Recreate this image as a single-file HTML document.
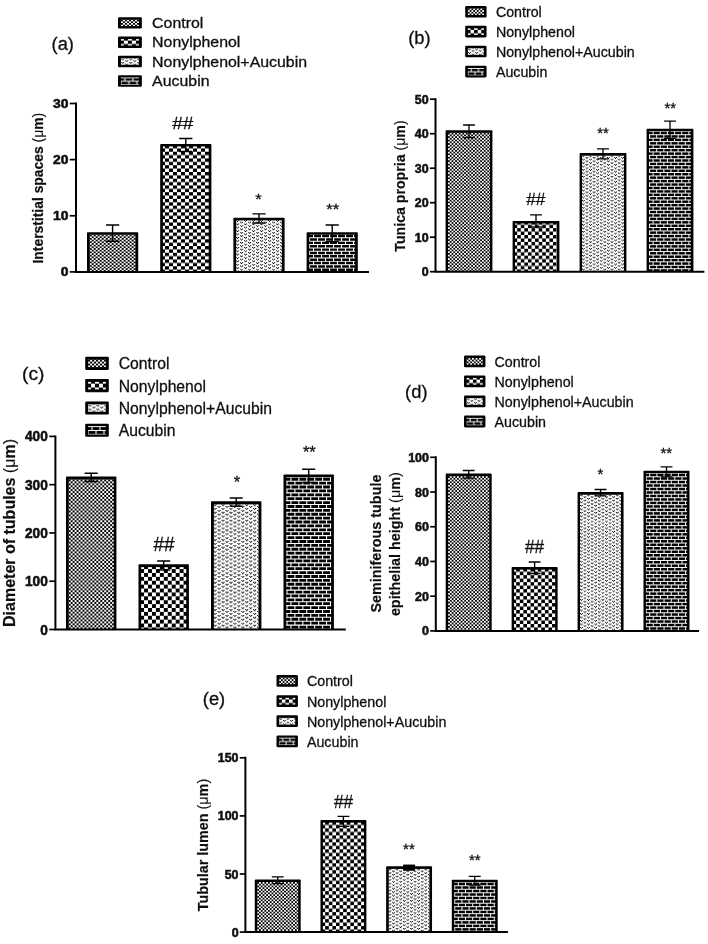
<!DOCTYPE html>
<html><head><meta charset="utf-8"><title>Figure</title>
<style>
html,body{margin:0;padding:0;background:#fff;}
svg{display:block;font-family:'Liberation Sans',sans-serif;}
text{font-family:'Liberation Sans',sans-serif;fill:#111;}
</style></head>
<body>
<svg width="708" height="944" viewBox="0 0 708 944">
<defs><filter id="soft" x="0" y="0" width="708" height="944" filterUnits="userSpaceOnUse"><feGaussianBlur stdDeviation="0.45"/></filter></defs>
<rect width="708" height="944" fill="#fff"/>
<g filter="url(#soft)">
<g id="panel-a">
<pattern id="p1a" width="3.6" height="3.6" patternUnits="userSpaceOnUse" patternTransform="scale(1.1108,0.9354)"><rect width="3.6" height="3.6" fill="#fff"/><rect x="0" y="0" width="1.8" height="1.8" fill="#000"/><rect x="1.8" y="1.8" width="1.8" height="1.8" fill="#000"/></pattern>
<pattern id="p2a" width="7.2" height="7.2" patternUnits="userSpaceOnUse" patternTransform="scale(1.1108,0.9354)"><rect width="7.2" height="7.2" fill="#fff"/><rect x="0" y="0" width="3.6" height="3.6" fill="#000"/><rect x="3.6" y="3.6" width="3.6" height="3.6" fill="#000"/></pattern>
<pattern id="p3a" width="7.2" height="3.6" patternUnits="userSpaceOnUse" patternTransform="scale(1.1108,0.9354)"><rect width="7.2" height="3.6" fill="#fff"/><rect x="-0.05" y="-0.05" width="1.00" height="1.00" fill="#111"/><rect x="1.75" y="-0.05" width="1.00" height="1.00" fill="#111"/><rect x="0.85" y="0.85" width="1.00" height="1.00" fill="#111"/><rect x="3.55" y="1.75" width="1.00" height="1.00" fill="#111"/><rect x="5.35" y="1.75" width="1.00" height="1.00" fill="#111"/><rect x="4.45" y="2.65" width="1.00" height="1.00" fill="#111"/></pattern>
<pattern id="p4a" width="7.2" height="7.2" patternUnits="userSpaceOnUse" patternTransform="scale(1.1108,0.9354)"><rect width="7.2" height="7.2" fill="#000"/><path d="M0 0.5 H7.2 M0 4.1 H7.2 M1 0.5 V4.1 M4.6 4.1 V7.7" fill="none" stroke="#fff" stroke-width="1.0"/></pattern>
<rect x="87.00" y="232.20" width="51.20" height="39.70" fill="#000" rx="0.8"/>
<g transform="translate(89.69,234.65)"><rect x="0.00" y="0.00" width="45.82" height="37.25" fill="url(#p1a)"/></g>
<rect x="160.20" y="144.00" width="51.20" height="127.90" fill="#000" rx="0.8"/>
<g transform="translate(165.00,151.75)"><rect x="-2.11" y="-5.30" width="45.82" height="125.45" fill="url(#p2a)"/></g>
<rect x="233.40" y="217.70" width="51.20" height="54.20" fill="#000" rx="0.8"/>
<clipPath id="c1"><rect x="236.09" y="220.15" width="45.83" height="51.75"/></clipPath><g clip-path="url(#c1)"><rect x="236.09" y="220.15" width="45.83" height="51.75" fill="#fff"/><path transform="translate(236.09,220.15) scale(1.1108,0.9354)" d="M4.45 -0.95h1v1h-1zM11.65 -0.95h1v1h-1zM18.85 -0.95h1v1h-1zM26.05 -0.95h1v1h-1zM33.25 -0.95h1v1h-1zM40.45 -0.95h1v1h-1zM-0.05 -0.05h1v1h-1zM1.75 -0.05h1v1h-1zM0.85 0.85h1v1h-1zM3.55 1.75h1v1h-1zM5.35 1.75h1v1h-1zM4.45 2.65h1v1h-1zM7.15 -0.05h1v1h-1zM8.95 -0.05h1v1h-1zM8.05 0.85h1v1h-1zM10.75 1.75h1v1h-1zM12.55 1.75h1v1h-1zM11.65 2.65h1v1h-1zM14.35 -0.05h1v1h-1zM16.15 -0.05h1v1h-1zM15.25 0.85h1v1h-1zM17.95 1.75h1v1h-1zM19.75 1.75h1v1h-1zM18.85 2.65h1v1h-1zM21.55 -0.05h1v1h-1zM23.35 -0.05h1v1h-1zM22.45 0.85h1v1h-1zM25.15 1.75h1v1h-1zM26.95 1.75h1v1h-1zM26.05 2.65h1v1h-1zM28.75 -0.05h1v1h-1zM30.55 -0.05h1v1h-1zM29.65 0.85h1v1h-1zM32.35 1.75h1v1h-1zM34.15 1.75h1v1h-1zM33.25 2.65h1v1h-1zM35.95 -0.05h1v1h-1zM37.75 -0.05h1v1h-1zM36.85 0.85h1v1h-1zM39.55 1.75h1v1h-1zM41.35 1.75h1v1h-1zM40.45 2.65h1v1h-1zM-0.05 3.55h1v1h-1zM1.75 3.55h1v1h-1zM0.85 4.45h1v1h-1zM3.55 5.35h1v1h-1zM5.35 5.35h1v1h-1zM4.45 6.25h1v1h-1zM7.15 3.55h1v1h-1zM8.95 3.55h1v1h-1zM8.05 4.45h1v1h-1zM10.75 5.35h1v1h-1zM12.55 5.35h1v1h-1zM11.65 6.25h1v1h-1zM14.35 3.55h1v1h-1zM16.15 3.55h1v1h-1zM15.25 4.45h1v1h-1zM17.95 5.35h1v1h-1zM19.75 5.35h1v1h-1zM18.85 6.25h1v1h-1zM21.55 3.55h1v1h-1zM23.35 3.55h1v1h-1zM22.45 4.45h1v1h-1zM25.15 5.35h1v1h-1zM26.95 5.35h1v1h-1zM26.05 6.25h1v1h-1zM28.75 3.55h1v1h-1zM30.55 3.55h1v1h-1zM29.65 4.45h1v1h-1zM32.35 5.35h1v1h-1zM34.15 5.35h1v1h-1zM33.25 6.25h1v1h-1zM35.95 3.55h1v1h-1zM37.75 3.55h1v1h-1zM36.85 4.45h1v1h-1zM39.55 5.35h1v1h-1zM41.35 5.35h1v1h-1zM40.45 6.25h1v1h-1zM-0.05 7.15h1v1h-1zM1.75 7.15h1v1h-1zM0.85 8.05h1v1h-1zM3.55 8.95h1v1h-1zM5.35 8.95h1v1h-1zM4.45 9.85h1v1h-1zM7.15 7.15h1v1h-1zM8.95 7.15h1v1h-1zM8.05 8.05h1v1h-1zM10.75 8.95h1v1h-1zM12.55 8.95h1v1h-1zM11.65 9.85h1v1h-1zM14.35 7.15h1v1h-1zM16.15 7.15h1v1h-1zM15.25 8.05h1v1h-1zM17.95 8.95h1v1h-1zM19.75 8.95h1v1h-1zM18.85 9.85h1v1h-1zM21.55 7.15h1v1h-1zM23.35 7.15h1v1h-1zM22.45 8.05h1v1h-1zM25.15 8.95h1v1h-1zM26.95 8.95h1v1h-1zM26.05 9.85h1v1h-1zM28.75 7.15h1v1h-1zM30.55 7.15h1v1h-1zM29.65 8.05h1v1h-1zM32.35 8.95h1v1h-1zM34.15 8.95h1v1h-1zM33.25 9.85h1v1h-1zM35.95 7.15h1v1h-1zM37.75 7.15h1v1h-1zM36.85 8.05h1v1h-1zM39.55 8.95h1v1h-1zM41.35 8.95h1v1h-1zM40.45 9.85h1v1h-1zM-0.05 10.75h1v1h-1zM1.75 10.75h1v1h-1zM0.85 11.65h1v1h-1zM3.55 12.55h1v1h-1zM5.35 12.55h1v1h-1zM4.45 13.45h1v1h-1zM7.15 10.75h1v1h-1zM8.95 10.75h1v1h-1zM8.05 11.65h1v1h-1zM10.75 12.55h1v1h-1zM12.55 12.55h1v1h-1zM11.65 13.45h1v1h-1zM14.35 10.75h1v1h-1zM16.15 10.75h1v1h-1zM15.25 11.65h1v1h-1zM17.95 12.55h1v1h-1zM19.75 12.55h1v1h-1zM18.85 13.45h1v1h-1zM21.55 10.75h1v1h-1zM23.35 10.75h1v1h-1zM22.45 11.65h1v1h-1zM25.15 12.55h1v1h-1zM26.95 12.55h1v1h-1zM26.05 13.45h1v1h-1zM28.75 10.75h1v1h-1zM30.55 10.75h1v1h-1zM29.65 11.65h1v1h-1zM32.35 12.55h1v1h-1zM34.15 12.55h1v1h-1zM33.25 13.45h1v1h-1zM35.95 10.75h1v1h-1zM37.75 10.75h1v1h-1zM36.85 11.65h1v1h-1zM39.55 12.55h1v1h-1zM41.35 12.55h1v1h-1zM40.45 13.45h1v1h-1zM-0.05 14.35h1v1h-1zM1.75 14.35h1v1h-1zM0.85 15.25h1v1h-1zM3.55 16.15h1v1h-1zM5.35 16.15h1v1h-1zM4.45 17.05h1v1h-1zM7.15 14.35h1v1h-1zM8.95 14.35h1v1h-1zM8.05 15.25h1v1h-1zM10.75 16.15h1v1h-1zM12.55 16.15h1v1h-1zM11.65 17.05h1v1h-1zM14.35 14.35h1v1h-1zM16.15 14.35h1v1h-1zM15.25 15.25h1v1h-1zM17.95 16.15h1v1h-1zM19.75 16.15h1v1h-1zM18.85 17.05h1v1h-1zM21.55 14.35h1v1h-1zM23.35 14.35h1v1h-1zM22.45 15.25h1v1h-1zM25.15 16.15h1v1h-1zM26.95 16.15h1v1h-1zM26.05 17.05h1v1h-1zM28.75 14.35h1v1h-1zM30.55 14.35h1v1h-1zM29.65 15.25h1v1h-1zM32.35 16.15h1v1h-1zM34.15 16.15h1v1h-1zM33.25 17.05h1v1h-1zM35.95 14.35h1v1h-1zM37.75 14.35h1v1h-1zM36.85 15.25h1v1h-1zM39.55 16.15h1v1h-1zM41.35 16.15h1v1h-1zM40.45 17.05h1v1h-1zM-0.05 17.95h1v1h-1zM1.75 17.95h1v1h-1zM0.85 18.85h1v1h-1zM3.55 19.75h1v1h-1zM5.35 19.75h1v1h-1zM4.45 20.65h1v1h-1zM7.15 17.95h1v1h-1zM8.95 17.95h1v1h-1zM8.05 18.85h1v1h-1zM10.75 19.75h1v1h-1zM12.55 19.75h1v1h-1zM11.65 20.65h1v1h-1zM14.35 17.95h1v1h-1zM16.15 17.95h1v1h-1zM15.25 18.85h1v1h-1zM17.95 19.75h1v1h-1zM19.75 19.75h1v1h-1zM18.85 20.65h1v1h-1zM21.55 17.95h1v1h-1zM23.35 17.95h1v1h-1zM22.45 18.85h1v1h-1zM25.15 19.75h1v1h-1zM26.95 19.75h1v1h-1zM26.05 20.65h1v1h-1zM28.75 17.95h1v1h-1zM30.55 17.95h1v1h-1zM29.65 18.85h1v1h-1zM32.35 19.75h1v1h-1zM34.15 19.75h1v1h-1zM33.25 20.65h1v1h-1zM35.95 17.95h1v1h-1zM37.75 17.95h1v1h-1zM36.85 18.85h1v1h-1zM39.55 19.75h1v1h-1zM41.35 19.75h1v1h-1zM40.45 20.65h1v1h-1zM-0.05 21.55h1v1h-1zM1.75 21.55h1v1h-1zM0.85 22.45h1v1h-1zM3.55 23.35h1v1h-1zM5.35 23.35h1v1h-1zM4.45 24.25h1v1h-1zM7.15 21.55h1v1h-1zM8.95 21.55h1v1h-1zM8.05 22.45h1v1h-1zM10.75 23.35h1v1h-1zM12.55 23.35h1v1h-1zM11.65 24.25h1v1h-1zM14.35 21.55h1v1h-1zM16.15 21.55h1v1h-1zM15.25 22.45h1v1h-1zM17.95 23.35h1v1h-1zM19.75 23.35h1v1h-1zM18.85 24.25h1v1h-1zM21.55 21.55h1v1h-1zM23.35 21.55h1v1h-1zM22.45 22.45h1v1h-1zM25.15 23.35h1v1h-1zM26.95 23.35h1v1h-1zM26.05 24.25h1v1h-1zM28.75 21.55h1v1h-1zM30.55 21.55h1v1h-1zM29.65 22.45h1v1h-1zM32.35 23.35h1v1h-1zM34.15 23.35h1v1h-1zM33.25 24.25h1v1h-1zM35.95 21.55h1v1h-1zM37.75 21.55h1v1h-1zM36.85 22.45h1v1h-1zM39.55 23.35h1v1h-1zM41.35 23.35h1v1h-1zM40.45 24.25h1v1h-1zM-0.05 25.15h1v1h-1zM1.75 25.15h1v1h-1zM0.85 26.05h1v1h-1zM3.55 26.95h1v1h-1zM5.35 26.95h1v1h-1zM4.45 27.85h1v1h-1zM7.15 25.15h1v1h-1zM8.95 25.15h1v1h-1zM8.05 26.05h1v1h-1zM10.75 26.95h1v1h-1zM12.55 26.95h1v1h-1zM11.65 27.85h1v1h-1zM14.35 25.15h1v1h-1zM16.15 25.15h1v1h-1zM15.25 26.05h1v1h-1zM17.95 26.95h1v1h-1zM19.75 26.95h1v1h-1zM18.85 27.85h1v1h-1zM21.55 25.15h1v1h-1zM23.35 25.15h1v1h-1zM22.45 26.05h1v1h-1zM25.15 26.95h1v1h-1zM26.95 26.95h1v1h-1zM26.05 27.85h1v1h-1zM28.75 25.15h1v1h-1zM30.55 25.15h1v1h-1zM29.65 26.05h1v1h-1zM32.35 26.95h1v1h-1zM34.15 26.95h1v1h-1zM33.25 27.85h1v1h-1zM35.95 25.15h1v1h-1zM37.75 25.15h1v1h-1zM36.85 26.05h1v1h-1zM39.55 26.95h1v1h-1zM41.35 26.95h1v1h-1zM40.45 27.85h1v1h-1zM-0.05 28.75h1v1h-1zM1.75 28.75h1v1h-1zM0.85 29.65h1v1h-1zM3.55 30.55h1v1h-1zM5.35 30.55h1v1h-1zM4.45 31.45h1v1h-1zM7.15 28.75h1v1h-1zM8.95 28.75h1v1h-1zM8.05 29.65h1v1h-1zM10.75 30.55h1v1h-1zM12.55 30.55h1v1h-1zM11.65 31.45h1v1h-1zM14.35 28.75h1v1h-1zM16.15 28.75h1v1h-1zM15.25 29.65h1v1h-1zM17.95 30.55h1v1h-1zM19.75 30.55h1v1h-1zM18.85 31.45h1v1h-1zM21.55 28.75h1v1h-1zM23.35 28.75h1v1h-1zM22.45 29.65h1v1h-1zM25.15 30.55h1v1h-1zM26.95 30.55h1v1h-1zM26.05 31.45h1v1h-1zM28.75 28.75h1v1h-1zM30.55 28.75h1v1h-1zM29.65 29.65h1v1h-1zM32.35 30.55h1v1h-1zM34.15 30.55h1v1h-1zM33.25 31.45h1v1h-1zM35.95 28.75h1v1h-1zM37.75 28.75h1v1h-1zM36.85 29.65h1v1h-1zM39.55 30.55h1v1h-1zM41.35 30.55h1v1h-1zM40.45 31.45h1v1h-1zM-0.05 32.35h1v1h-1zM1.75 32.35h1v1h-1zM0.85 33.25h1v1h-1zM3.55 34.15h1v1h-1zM5.35 34.15h1v1h-1zM4.45 35.05h1v1h-1zM7.15 32.35h1v1h-1zM8.95 32.35h1v1h-1zM8.05 33.25h1v1h-1zM10.75 34.15h1v1h-1zM12.55 34.15h1v1h-1zM11.65 35.05h1v1h-1zM14.35 32.35h1v1h-1zM16.15 32.35h1v1h-1zM15.25 33.25h1v1h-1zM17.95 34.15h1v1h-1zM19.75 34.15h1v1h-1zM18.85 35.05h1v1h-1zM21.55 32.35h1v1h-1zM23.35 32.35h1v1h-1zM22.45 33.25h1v1h-1zM25.15 34.15h1v1h-1zM26.95 34.15h1v1h-1zM26.05 35.05h1v1h-1zM28.75 32.35h1v1h-1zM30.55 32.35h1v1h-1zM29.65 33.25h1v1h-1zM32.35 34.15h1v1h-1zM34.15 34.15h1v1h-1zM33.25 35.05h1v1h-1zM35.95 32.35h1v1h-1zM37.75 32.35h1v1h-1zM36.85 33.25h1v1h-1zM39.55 34.15h1v1h-1zM41.35 34.15h1v1h-1zM40.45 35.05h1v1h-1zM-0.05 35.95h1v1h-1zM1.75 35.95h1v1h-1zM0.85 36.85h1v1h-1zM3.55 37.75h1v1h-1zM5.35 37.75h1v1h-1zM4.45 38.65h1v1h-1zM7.15 35.95h1v1h-1zM8.95 35.95h1v1h-1zM8.05 36.85h1v1h-1zM10.75 37.75h1v1h-1zM12.55 37.75h1v1h-1zM11.65 38.65h1v1h-1zM14.35 35.95h1v1h-1zM16.15 35.95h1v1h-1zM15.25 36.85h1v1h-1zM17.95 37.75h1v1h-1zM19.75 37.75h1v1h-1zM18.85 38.65h1v1h-1zM21.55 35.95h1v1h-1zM23.35 35.95h1v1h-1zM22.45 36.85h1v1h-1zM25.15 37.75h1v1h-1zM26.95 37.75h1v1h-1zM26.05 38.65h1v1h-1zM28.75 35.95h1v1h-1zM30.55 35.95h1v1h-1zM29.65 36.85h1v1h-1zM32.35 37.75h1v1h-1zM34.15 37.75h1v1h-1zM33.25 38.65h1v1h-1zM35.95 35.95h1v1h-1zM37.75 35.95h1v1h-1zM36.85 36.85h1v1h-1zM39.55 37.75h1v1h-1zM41.35 37.75h1v1h-1zM40.45 38.65h1v1h-1zM-0.05 39.55h1v1h-1zM1.75 39.55h1v1h-1zM0.85 40.45h1v1h-1zM3.55 41.35h1v1h-1zM5.35 41.35h1v1h-1zM4.45 42.25h1v1h-1zM7.15 39.55h1v1h-1zM8.95 39.55h1v1h-1zM8.05 40.45h1v1h-1zM10.75 41.35h1v1h-1zM12.55 41.35h1v1h-1zM11.65 42.25h1v1h-1zM14.35 39.55h1v1h-1zM16.15 39.55h1v1h-1zM15.25 40.45h1v1h-1zM17.95 41.35h1v1h-1zM19.75 41.35h1v1h-1zM18.85 42.25h1v1h-1zM21.55 39.55h1v1h-1zM23.35 39.55h1v1h-1zM22.45 40.45h1v1h-1zM25.15 41.35h1v1h-1zM26.95 41.35h1v1h-1zM26.05 42.25h1v1h-1zM28.75 39.55h1v1h-1zM30.55 39.55h1v1h-1zM29.65 40.45h1v1h-1zM32.35 41.35h1v1h-1zM34.15 41.35h1v1h-1zM33.25 42.25h1v1h-1zM35.95 39.55h1v1h-1zM37.75 39.55h1v1h-1zM36.85 40.45h1v1h-1zM39.55 41.35h1v1h-1zM41.35 41.35h1v1h-1zM40.45 42.25h1v1h-1zM-0.05 43.15h1v1h-1zM1.75 43.15h1v1h-1zM0.85 44.05h1v1h-1zM3.55 44.95h1v1h-1zM5.35 44.95h1v1h-1zM4.45 45.85h1v1h-1zM7.15 43.15h1v1h-1zM8.95 43.15h1v1h-1zM8.05 44.05h1v1h-1zM10.75 44.95h1v1h-1zM12.55 44.95h1v1h-1zM11.65 45.85h1v1h-1zM14.35 43.15h1v1h-1zM16.15 43.15h1v1h-1zM15.25 44.05h1v1h-1zM17.95 44.95h1v1h-1zM19.75 44.95h1v1h-1zM18.85 45.85h1v1h-1zM21.55 43.15h1v1h-1zM23.35 43.15h1v1h-1zM22.45 44.05h1v1h-1zM25.15 44.95h1v1h-1zM26.95 44.95h1v1h-1zM26.05 45.85h1v1h-1zM28.75 43.15h1v1h-1zM30.55 43.15h1v1h-1zM29.65 44.05h1v1h-1zM32.35 44.95h1v1h-1zM34.15 44.95h1v1h-1zM33.25 45.85h1v1h-1zM35.95 43.15h1v1h-1zM37.75 43.15h1v1h-1zM36.85 44.05h1v1h-1zM39.55 44.95h1v1h-1zM41.35 44.95h1v1h-1zM40.45 45.85h1v1h-1zM-0.05 46.75h1v1h-1zM1.75 46.75h1v1h-1zM0.85 47.65h1v1h-1zM3.55 48.55h1v1h-1zM5.35 48.55h1v1h-1zM4.45 49.45h1v1h-1zM7.15 46.75h1v1h-1zM8.95 46.75h1v1h-1zM8.05 47.65h1v1h-1zM10.75 48.55h1v1h-1zM12.55 48.55h1v1h-1zM11.65 49.45h1v1h-1zM14.35 46.75h1v1h-1zM16.15 46.75h1v1h-1zM15.25 47.65h1v1h-1zM17.95 48.55h1v1h-1zM19.75 48.55h1v1h-1zM18.85 49.45h1v1h-1zM21.55 46.75h1v1h-1zM23.35 46.75h1v1h-1zM22.45 47.65h1v1h-1zM25.15 48.55h1v1h-1zM26.95 48.55h1v1h-1zM26.05 49.45h1v1h-1zM28.75 46.75h1v1h-1zM30.55 46.75h1v1h-1zM29.65 47.65h1v1h-1zM32.35 48.55h1v1h-1zM34.15 48.55h1v1h-1zM33.25 49.45h1v1h-1zM35.95 46.75h1v1h-1zM37.75 46.75h1v1h-1zM36.85 47.65h1v1h-1zM39.55 48.55h1v1h-1zM41.35 48.55h1v1h-1zM40.45 49.45h1v1h-1zM-0.05 50.35h1v1h-1zM1.75 50.35h1v1h-1zM0.85 51.25h1v1h-1zM3.55 52.15h1v1h-1zM5.35 52.15h1v1h-1zM4.45 53.05h1v1h-1zM7.15 50.35h1v1h-1zM8.95 50.35h1v1h-1zM8.05 51.25h1v1h-1zM10.75 52.15h1v1h-1zM12.55 52.15h1v1h-1zM11.65 53.05h1v1h-1zM14.35 50.35h1v1h-1zM16.15 50.35h1v1h-1zM15.25 51.25h1v1h-1zM17.95 52.15h1v1h-1zM19.75 52.15h1v1h-1zM18.85 53.05h1v1h-1zM21.55 50.35h1v1h-1zM23.35 50.35h1v1h-1zM22.45 51.25h1v1h-1zM25.15 52.15h1v1h-1zM26.95 52.15h1v1h-1zM26.05 53.05h1v1h-1zM28.75 50.35h1v1h-1zM30.55 50.35h1v1h-1zM29.65 51.25h1v1h-1zM32.35 52.15h1v1h-1zM34.15 52.15h1v1h-1zM33.25 53.05h1v1h-1zM35.95 50.35h1v1h-1zM37.75 50.35h1v1h-1zM36.85 51.25h1v1h-1zM39.55 52.15h1v1h-1zM41.35 52.15h1v1h-1zM40.45 53.05h1v1h-1zM-0.05 53.95h1v1h-1zM1.75 53.95h1v1h-1zM0.85 54.85h1v1h-1zM3.55 55.75h1v1h-1zM5.35 55.75h1v1h-1zM7.15 53.95h1v1h-1zM8.95 53.95h1v1h-1zM8.05 54.85h1v1h-1zM10.75 55.75h1v1h-1zM12.55 55.75h1v1h-1zM14.35 53.95h1v1h-1zM16.15 53.95h1v1h-1zM15.25 54.85h1v1h-1zM17.95 55.75h1v1h-1zM19.75 55.75h1v1h-1zM21.55 53.95h1v1h-1zM23.35 53.95h1v1h-1zM22.45 54.85h1v1h-1zM25.15 55.75h1v1h-1zM26.95 55.75h1v1h-1zM28.75 53.95h1v1h-1zM30.55 53.95h1v1h-1zM29.65 54.85h1v1h-1zM32.35 55.75h1v1h-1zM34.15 55.75h1v1h-1zM35.95 53.95h1v1h-1zM37.75 53.95h1v1h-1zM36.85 54.85h1v1h-1zM39.55 55.75h1v1h-1zM41.35 55.75h1v1h-1z" fill="#111"/></g>
<rect x="306.60" y="232.20" width="51.20" height="39.70" fill="#000" rx="0.8"/>
<clipPath id="c2"><rect x="309.29" y="234.65" width="45.82" height="37.25"/></clipPath><g clip-path="url(#c2)"><rect x="309.29" y="234.65" width="45.82" height="37.25" fill="#000"/><path transform="translate(312.42,233.98) scale(1.1108,0.9354)" d="M-3.82 -3.1H39.43M-2.6 -3.1v3.6M4.6 -3.1v3.6M11.8 -3.1v3.6M19 -3.1v3.6M26.2 -3.1v3.6M33.4 -3.1v3.6M-3.82 0.5H39.43M1 0.5v3.6M8.2 0.5v3.6M15.4 0.5v3.6M22.6 0.5v3.6M29.8 0.5v3.6M37 0.5v3.6M-3.82 4.1H39.43M-2.6 4.1v3.6M4.6 4.1v3.6M11.8 4.1v3.6M19 4.1v3.6M26.2 4.1v3.6M33.4 4.1v3.6M-3.82 7.7H39.43M1 7.7v3.6M8.2 7.7v3.6M15.4 7.7v3.6M22.6 7.7v3.6M29.8 7.7v3.6M37 7.7v3.6M-3.82 11.3H39.43M-2.6 11.3v3.6M4.6 11.3v3.6M11.8 11.3v3.6M19 11.3v3.6M26.2 11.3v3.6M33.4 11.3v3.6M-3.82 14.9H39.43M1 14.9v3.6M8.2 14.9v3.6M15.4 14.9v3.6M22.6 14.9v3.6M29.8 14.9v3.6M37 14.9v3.6M-3.82 18.5H39.43M-2.6 18.5v3.6M4.6 18.5v3.6M11.8 18.5v3.6M19 18.5v3.6M26.2 18.5v3.6M33.4 18.5v3.6M-3.82 22.1H39.43M1 22.1v3.6M8.2 22.1v3.6M15.4 22.1v3.6M22.6 22.1v3.6M29.8 22.1v3.6M37 22.1v3.6M-3.82 25.7H39.43M-2.6 25.7v3.6M4.6 25.7v3.6M11.8 25.7v3.6M19 25.7v3.6M26.2 25.7v3.6M33.4 25.7v3.6M-3.82 29.3H39.43M1 29.3v3.6M8.2 29.3v3.6M15.4 29.3v3.6M22.6 29.3v3.6M29.8 29.3v3.6M37 29.3v3.6M-3.82 32.9H39.43M-2.6 32.9v3.6M4.6 32.9v3.6M11.8 32.9v3.6M19 32.9v3.6M26.2 32.9v3.6M33.4 32.9v3.6M-3.82 36.5H39.43M1 36.5v3.6M8.2 36.5v3.6M15.4 36.5v3.6M22.6 36.5v3.6M29.8 36.5v3.6M37 36.5v3.6M-3.82 40.1H39.43M-2.6 40.1v3.6M4.6 40.1v3.6M11.8 40.1v3.6M19 40.1v3.6M26.2 40.1v3.6M33.4 40.1v3.6M-3.82 43.7H39.43M1 43.7v3.6M8.2 43.7v3.6M15.4 43.7v3.6M22.6 43.7v3.6M29.8 43.7v3.6M37 43.7v3.6M-3.82 47.3H39.43M-2.6 47.3v3.6M4.6 47.3v3.6M11.8 47.3v3.6M19 47.3v3.6M26.2 47.3v3.6M33.4 47.3v3.6" fill="none" stroke="#fff" stroke-width="1.0"/></g>
<path d="M105.99 225.00 H119.21 M112.60 225.00 V241.20 M105.99 241.20 H119.21" stroke="#000" stroke-width="1.39" fill="none"/>
<path d="M179.19 138.50 H192.41 M185.80 138.50 V151.50 M179.19 151.50 H192.41" stroke="#000" stroke-width="1.39" fill="none"/>
<path d="M252.39 213.90 H265.61 M259.00 213.90 V223.00 M252.39 223.00 H265.61" stroke="#000" stroke-width="1.39" fill="none"/>
<path d="M325.59 225.00 H338.81 M332.20 225.00 V241.70 M325.59 241.70 H338.81" stroke="#000" stroke-width="1.39" fill="none"/>
<path d="M76.00 102.50 V271.90 H369.00" stroke="#000" stroke-width="2.0" fill="none" stroke-linejoin="miter"/>
<path d="M69.77 271.90 H76.00" stroke="#000" stroke-width="1.70"/>
<text x="68.37" y="276.27" font-size="12.15" font-weight="bold" text-anchor="end" stroke="#111" stroke-width="0.55" textLength="7.71" lengthAdjust="spacingAndGlyphs">0</text>
<path d="M69.77 215.77 H76.00" stroke="#000" stroke-width="1.70"/>
<text x="68.37" y="220.14" font-size="12.15" font-weight="bold" text-anchor="end" stroke="#111" stroke-width="0.55" textLength="15.42" lengthAdjust="spacingAndGlyphs">10</text>
<path d="M69.77 159.63 H76.00" stroke="#000" stroke-width="1.70"/>
<text x="68.37" y="164.01" font-size="12.15" font-weight="bold" text-anchor="end" stroke="#111" stroke-width="0.55" textLength="15.42" lengthAdjust="spacingAndGlyphs">20</text>
<path d="M69.77 103.50 H76.00" stroke="#000" stroke-width="1.70"/>
<text x="68.37" y="107.87" font-size="12.15" font-weight="bold" text-anchor="end" stroke="#111" stroke-width="0.55" textLength="15.42" lengthAdjust="spacingAndGlyphs">30</text>
<text x="182.80" y="129.33" font-size="16.86" font-weight="normal" text-anchor="middle" stroke="#111" stroke-width="0.3" textLength="21.28" lengthAdjust="spacingAndGlyphs">##</text>
<text x="258.50" y="203.50" font-size="14.70" font-weight="normal" text-anchor="middle" stroke="#111" stroke-width="0.3" textLength="6.48" lengthAdjust="spacingAndGlyphs">*</text>
<text x="332.70" y="213.90" font-size="14.70" font-weight="normal" text-anchor="middle" stroke="#111" stroke-width="0.3" textLength="12.96" lengthAdjust="spacingAndGlyphs">**</text>
<rect x="118.00" y="17.22" width="23.86" height="11.37" fill="#000" rx="1.3"/>
<g transform="translate(120.96,19.67)"><rect x="0.00" y="0.00" width="17.95" height="6.47" fill="url(#p1a)"/></g>
<text x="152.14" y="28.09" font-size="14.41" font-weight="normal" text-anchor="start" stroke="#111" stroke-width="0.3" textLength="51.17" lengthAdjust="spacingAndGlyphs">Control</text>
<rect x="118.00" y="36.62" width="23.86" height="11.37" fill="#000" rx="1.3"/>
<g transform="translate(127.93,40.62)"><rect x="-6.98" y="-1.55" width="17.95" height="6.47" fill="url(#p2a)"/></g>
<text x="152.14" y="47.49" font-size="14.41" font-weight="normal" text-anchor="start" stroke="#111" stroke-width="0.3" textLength="88.23" lengthAdjust="spacingAndGlyphs">Nonylphenol</text>
<rect x="118.00" y="55.82" width="23.86" height="11.37" fill="#000" rx="1.3"/>
<g transform="translate(121.28,58.66)"><rect x="-0.32" y="-0.39" width="17.95" height="6.47" fill="url(#p3a)"/></g>
<text x="152.14" y="66.69" font-size="14.41" font-weight="normal" text-anchor="start" stroke="#111" stroke-width="0.3" textLength="154.89" lengthAdjust="spacingAndGlyphs">Nonylphenol+Aucubin</text>
<rect x="118.00" y="75.32" width="23.86" height="11.37" fill="#000" rx="1.3"/>
<g transform="translate(123.75,77.37)"><rect x="-2.80" y="-0.05" width="17.95" height="7.35" fill="url(#p4a)"/></g>
<text x="152.14" y="86.19" font-size="14.41" font-weight="normal" text-anchor="start" stroke="#111" stroke-width="0.3" textLength="57.36" lengthAdjust="spacingAndGlyphs">Aucubin</text>
<text x="62.75" y="50.34" font-size="18.00" font-weight="normal" text-anchor="middle" stroke="#111" stroke-width="0.3" textLength="22.40" lengthAdjust="spacingAndGlyphs">(a)</text>
<text transform="translate(42.80,188.20) rotate(-90) scale(1,1.100)" x="0" y="0" font-size="13.87" font-weight="bold" text-anchor="middle" stroke="#111" stroke-width="0.2">Interstitial spaces <tspan font-weight="normal" stroke-width="0.1">(μ</tspan>m<tspan font-weight="normal" stroke-width="0.1">)</tspan></text>
</g>
<g id="panel-b">
<pattern id="p1b" width="3.6" height="3.6" patternUnits="userSpaceOnUse" patternTransform="scale(0.9941,0.9544)"><rect width="3.6" height="3.6" fill="#fff"/><rect x="0" y="0" width="1.8" height="1.8" fill="#000"/><rect x="1.8" y="1.8" width="1.8" height="1.8" fill="#000"/></pattern>
<pattern id="p2b" width="7.2" height="7.2" patternUnits="userSpaceOnUse" patternTransform="scale(0.9941,0.9544)"><rect width="7.2" height="7.2" fill="#fff"/><rect x="0" y="0" width="3.6" height="3.6" fill="#000"/><rect x="3.6" y="3.6" width="3.6" height="3.6" fill="#000"/></pattern>
<pattern id="p3b" width="7.2" height="3.6" patternUnits="userSpaceOnUse" patternTransform="scale(0.9941,0.9544)"><rect width="7.2" height="3.6" fill="#fff"/><rect x="-0.05" y="-0.05" width="1.00" height="1.00" fill="#111"/><rect x="1.75" y="-0.05" width="1.00" height="1.00" fill="#111"/><rect x="0.85" y="0.85" width="1.00" height="1.00" fill="#111"/><rect x="3.55" y="1.75" width="1.00" height="1.00" fill="#111"/><rect x="5.35" y="1.75" width="1.00" height="1.00" fill="#111"/><rect x="4.45" y="2.65" width="1.00" height="1.00" fill="#111"/></pattern>
<pattern id="p4b" width="7.2" height="7.2" patternUnits="userSpaceOnUse" patternTransform="scale(0.9941,0.9544)"><rect width="7.2" height="7.2" fill="#000"/><path d="M0 0.5 H7.2 M0 4.1 H7.2 M1 0.5 V4.1 M4.6 4.1 V7.7" fill="none" stroke="#fff" stroke-width="1.0"/></pattern>
<rect x="445.60" y="130.30" width="46.80" height="141.40" fill="#000" rx="0.8"/>
<g transform="translate(448.00,132.80)"><rect x="0.00" y="0.00" width="41.99" height="138.90" fill="url(#p1b)"/></g>
<rect x="512.60" y="221.00" width="46.80" height="50.70" fill="#000" rx="0.8"/>
<g transform="translate(517.20,228.17)"><rect x="-2.20" y="-4.67" width="41.99" height="48.20" fill="url(#p2b)"/></g>
<rect x="579.60" y="152.90" width="46.80" height="118.80" fill="#000" rx="0.8"/>
<clipPath id="c3"><rect x="582.00" y="155.40" width="41.99" height="116.30"/></clipPath><g clip-path="url(#c3)"><rect x="582.00" y="155.40" width="41.99" height="116.30" fill="#fff"/><path transform="translate(582.00,155.40) scale(0.9941,0.9544)" d="M4.45 -0.95h1v1h-1zM11.65 -0.95h1v1h-1zM18.85 -0.95h1v1h-1zM26.05 -0.95h1v1h-1zM33.25 -0.95h1v1h-1zM40.45 -0.95h1v1h-1zM-0.05 -0.05h1v1h-1zM1.75 -0.05h1v1h-1zM0.85 0.85h1v1h-1zM3.55 1.75h1v1h-1zM5.35 1.75h1v1h-1zM4.45 2.65h1v1h-1zM7.15 -0.05h1v1h-1zM8.95 -0.05h1v1h-1zM8.05 0.85h1v1h-1zM10.75 1.75h1v1h-1zM12.55 1.75h1v1h-1zM11.65 2.65h1v1h-1zM14.35 -0.05h1v1h-1zM16.15 -0.05h1v1h-1zM15.25 0.85h1v1h-1zM17.95 1.75h1v1h-1zM19.75 1.75h1v1h-1zM18.85 2.65h1v1h-1zM21.55 -0.05h1v1h-1zM23.35 -0.05h1v1h-1zM22.45 0.85h1v1h-1zM25.15 1.75h1v1h-1zM26.95 1.75h1v1h-1zM26.05 2.65h1v1h-1zM28.75 -0.05h1v1h-1zM30.55 -0.05h1v1h-1zM29.65 0.85h1v1h-1zM32.35 1.75h1v1h-1zM34.15 1.75h1v1h-1zM33.25 2.65h1v1h-1zM35.95 -0.05h1v1h-1zM37.75 -0.05h1v1h-1zM36.85 0.85h1v1h-1zM39.55 1.75h1v1h-1zM41.35 1.75h1v1h-1zM40.45 2.65h1v1h-1zM43.15 -0.05h1v1h-1zM-0.05 3.55h1v1h-1zM1.75 3.55h1v1h-1zM0.85 4.45h1v1h-1zM3.55 5.35h1v1h-1zM5.35 5.35h1v1h-1zM4.45 6.25h1v1h-1zM7.15 3.55h1v1h-1zM8.95 3.55h1v1h-1zM8.05 4.45h1v1h-1zM10.75 5.35h1v1h-1zM12.55 5.35h1v1h-1zM11.65 6.25h1v1h-1zM14.35 3.55h1v1h-1zM16.15 3.55h1v1h-1zM15.25 4.45h1v1h-1zM17.95 5.35h1v1h-1zM19.75 5.35h1v1h-1zM18.85 6.25h1v1h-1zM21.55 3.55h1v1h-1zM23.35 3.55h1v1h-1zM22.45 4.45h1v1h-1zM25.15 5.35h1v1h-1zM26.95 5.35h1v1h-1zM26.05 6.25h1v1h-1zM28.75 3.55h1v1h-1zM30.55 3.55h1v1h-1zM29.65 4.45h1v1h-1zM32.35 5.35h1v1h-1zM34.15 5.35h1v1h-1zM33.25 6.25h1v1h-1zM35.95 3.55h1v1h-1zM37.75 3.55h1v1h-1zM36.85 4.45h1v1h-1zM39.55 5.35h1v1h-1zM41.35 5.35h1v1h-1zM40.45 6.25h1v1h-1zM43.15 3.55h1v1h-1zM-0.05 7.15h1v1h-1zM1.75 7.15h1v1h-1zM0.85 8.05h1v1h-1zM3.55 8.95h1v1h-1zM5.35 8.95h1v1h-1zM4.45 9.85h1v1h-1zM7.15 7.15h1v1h-1zM8.95 7.15h1v1h-1zM8.05 8.05h1v1h-1zM10.75 8.95h1v1h-1zM12.55 8.95h1v1h-1zM11.65 9.85h1v1h-1zM14.35 7.15h1v1h-1zM16.15 7.15h1v1h-1zM15.25 8.05h1v1h-1zM17.95 8.95h1v1h-1zM19.75 8.95h1v1h-1zM18.85 9.85h1v1h-1zM21.55 7.15h1v1h-1zM23.35 7.15h1v1h-1zM22.45 8.05h1v1h-1zM25.15 8.95h1v1h-1zM26.95 8.95h1v1h-1zM26.05 9.85h1v1h-1zM28.75 7.15h1v1h-1zM30.55 7.15h1v1h-1zM29.65 8.05h1v1h-1zM32.35 8.95h1v1h-1zM34.15 8.95h1v1h-1zM33.25 9.85h1v1h-1zM35.95 7.15h1v1h-1zM37.75 7.15h1v1h-1zM36.85 8.05h1v1h-1zM39.55 8.95h1v1h-1zM41.35 8.95h1v1h-1zM40.45 9.85h1v1h-1zM43.15 7.15h1v1h-1zM-0.05 10.75h1v1h-1zM1.75 10.75h1v1h-1zM0.85 11.65h1v1h-1zM3.55 12.55h1v1h-1zM5.35 12.55h1v1h-1zM4.45 13.45h1v1h-1zM7.15 10.75h1v1h-1zM8.95 10.75h1v1h-1zM8.05 11.65h1v1h-1zM10.75 12.55h1v1h-1zM12.55 12.55h1v1h-1zM11.65 13.45h1v1h-1zM14.35 10.75h1v1h-1zM16.15 10.75h1v1h-1zM15.25 11.65h1v1h-1zM17.95 12.55h1v1h-1zM19.75 12.55h1v1h-1zM18.85 13.45h1v1h-1zM21.55 10.75h1v1h-1zM23.35 10.75h1v1h-1zM22.45 11.65h1v1h-1zM25.15 12.55h1v1h-1zM26.95 12.55h1v1h-1zM26.05 13.45h1v1h-1zM28.75 10.75h1v1h-1zM30.55 10.75h1v1h-1zM29.65 11.65h1v1h-1zM32.35 12.55h1v1h-1zM34.15 12.55h1v1h-1zM33.25 13.45h1v1h-1zM35.95 10.75h1v1h-1zM37.75 10.75h1v1h-1zM36.85 11.65h1v1h-1zM39.55 12.55h1v1h-1zM41.35 12.55h1v1h-1zM40.45 13.45h1v1h-1zM43.15 10.75h1v1h-1zM-0.05 14.35h1v1h-1zM1.75 14.35h1v1h-1zM0.85 15.25h1v1h-1zM3.55 16.15h1v1h-1zM5.35 16.15h1v1h-1zM4.45 17.05h1v1h-1zM7.15 14.35h1v1h-1zM8.95 14.35h1v1h-1zM8.05 15.25h1v1h-1zM10.75 16.15h1v1h-1zM12.55 16.15h1v1h-1zM11.65 17.05h1v1h-1zM14.35 14.35h1v1h-1zM16.15 14.35h1v1h-1zM15.25 15.25h1v1h-1zM17.95 16.15h1v1h-1zM19.75 16.15h1v1h-1zM18.85 17.05h1v1h-1zM21.55 14.35h1v1h-1zM23.35 14.35h1v1h-1zM22.45 15.25h1v1h-1zM25.15 16.15h1v1h-1zM26.95 16.15h1v1h-1zM26.05 17.05h1v1h-1zM28.75 14.35h1v1h-1zM30.55 14.35h1v1h-1zM29.65 15.25h1v1h-1zM32.35 16.15h1v1h-1zM34.15 16.15h1v1h-1zM33.25 17.05h1v1h-1zM35.95 14.35h1v1h-1zM37.75 14.35h1v1h-1zM36.85 15.25h1v1h-1zM39.55 16.15h1v1h-1zM41.35 16.15h1v1h-1zM40.45 17.05h1v1h-1zM43.15 14.35h1v1h-1zM-0.05 17.95h1v1h-1zM1.75 17.95h1v1h-1zM0.85 18.85h1v1h-1zM3.55 19.75h1v1h-1zM5.35 19.75h1v1h-1zM4.45 20.65h1v1h-1zM7.15 17.95h1v1h-1zM8.95 17.95h1v1h-1zM8.05 18.85h1v1h-1zM10.75 19.75h1v1h-1zM12.55 19.75h1v1h-1zM11.65 20.65h1v1h-1zM14.35 17.95h1v1h-1zM16.15 17.95h1v1h-1zM15.25 18.85h1v1h-1zM17.95 19.75h1v1h-1zM19.75 19.75h1v1h-1zM18.85 20.65h1v1h-1zM21.55 17.95h1v1h-1zM23.35 17.95h1v1h-1zM22.45 18.85h1v1h-1zM25.15 19.75h1v1h-1zM26.95 19.75h1v1h-1zM26.05 20.65h1v1h-1zM28.75 17.95h1v1h-1zM30.55 17.95h1v1h-1zM29.65 18.85h1v1h-1zM32.35 19.75h1v1h-1zM34.15 19.75h1v1h-1zM33.25 20.65h1v1h-1zM35.95 17.95h1v1h-1zM37.75 17.95h1v1h-1zM36.85 18.85h1v1h-1zM39.55 19.75h1v1h-1zM41.35 19.75h1v1h-1zM40.45 20.65h1v1h-1zM43.15 17.95h1v1h-1zM-0.05 21.55h1v1h-1zM1.75 21.55h1v1h-1zM0.85 22.45h1v1h-1zM3.55 23.35h1v1h-1zM5.35 23.35h1v1h-1zM4.45 24.25h1v1h-1zM7.15 21.55h1v1h-1zM8.95 21.55h1v1h-1zM8.05 22.45h1v1h-1zM10.75 23.35h1v1h-1zM12.55 23.35h1v1h-1zM11.65 24.25h1v1h-1zM14.35 21.55h1v1h-1zM16.15 21.55h1v1h-1zM15.25 22.45h1v1h-1zM17.95 23.35h1v1h-1zM19.75 23.35h1v1h-1zM18.85 24.25h1v1h-1zM21.55 21.55h1v1h-1zM23.35 21.55h1v1h-1zM22.45 22.45h1v1h-1zM25.15 23.35h1v1h-1zM26.95 23.35h1v1h-1zM26.05 24.25h1v1h-1zM28.75 21.55h1v1h-1zM30.55 21.55h1v1h-1zM29.65 22.45h1v1h-1zM32.35 23.35h1v1h-1zM34.15 23.35h1v1h-1zM33.25 24.25h1v1h-1zM35.95 21.55h1v1h-1zM37.75 21.55h1v1h-1zM36.85 22.45h1v1h-1zM39.55 23.35h1v1h-1zM41.35 23.35h1v1h-1zM40.45 24.25h1v1h-1zM43.15 21.55h1v1h-1zM-0.05 25.15h1v1h-1zM1.75 25.15h1v1h-1zM0.85 26.05h1v1h-1zM3.55 26.95h1v1h-1zM5.35 26.95h1v1h-1zM4.45 27.85h1v1h-1zM7.15 25.15h1v1h-1zM8.95 25.15h1v1h-1zM8.05 26.05h1v1h-1zM10.75 26.95h1v1h-1zM12.55 26.95h1v1h-1zM11.65 27.85h1v1h-1zM14.35 25.15h1v1h-1zM16.15 25.15h1v1h-1zM15.25 26.05h1v1h-1zM17.95 26.95h1v1h-1zM19.75 26.95h1v1h-1zM18.85 27.85h1v1h-1zM21.55 25.15h1v1h-1zM23.35 25.15h1v1h-1zM22.45 26.05h1v1h-1zM25.15 26.95h1v1h-1zM26.95 26.95h1v1h-1zM26.05 27.85h1v1h-1zM28.75 25.15h1v1h-1zM30.55 25.15h1v1h-1zM29.65 26.05h1v1h-1zM32.35 26.95h1v1h-1zM34.15 26.95h1v1h-1zM33.25 27.85h1v1h-1zM35.95 25.15h1v1h-1zM37.75 25.15h1v1h-1zM36.85 26.05h1v1h-1zM39.55 26.95h1v1h-1zM41.35 26.95h1v1h-1zM40.45 27.85h1v1h-1zM43.15 25.15h1v1h-1zM-0.05 28.75h1v1h-1zM1.75 28.75h1v1h-1zM0.85 29.65h1v1h-1zM3.55 30.55h1v1h-1zM5.35 30.55h1v1h-1zM4.45 31.45h1v1h-1zM7.15 28.75h1v1h-1zM8.95 28.75h1v1h-1zM8.05 29.65h1v1h-1zM10.75 30.55h1v1h-1zM12.55 30.55h1v1h-1zM11.65 31.45h1v1h-1zM14.35 28.75h1v1h-1zM16.15 28.75h1v1h-1zM15.25 29.65h1v1h-1zM17.95 30.55h1v1h-1zM19.75 30.55h1v1h-1zM18.85 31.45h1v1h-1zM21.55 28.75h1v1h-1zM23.35 28.75h1v1h-1zM22.45 29.65h1v1h-1zM25.15 30.55h1v1h-1zM26.95 30.55h1v1h-1zM26.05 31.45h1v1h-1zM28.75 28.75h1v1h-1zM30.55 28.75h1v1h-1zM29.65 29.65h1v1h-1zM32.35 30.55h1v1h-1zM34.15 30.55h1v1h-1zM33.25 31.45h1v1h-1zM35.95 28.75h1v1h-1zM37.75 28.75h1v1h-1zM36.85 29.65h1v1h-1zM39.55 30.55h1v1h-1zM41.35 30.55h1v1h-1zM40.45 31.45h1v1h-1zM43.15 28.75h1v1h-1zM-0.05 32.35h1v1h-1zM1.75 32.35h1v1h-1zM0.85 33.25h1v1h-1zM3.55 34.15h1v1h-1zM5.35 34.15h1v1h-1zM4.45 35.05h1v1h-1zM7.15 32.35h1v1h-1zM8.95 32.35h1v1h-1zM8.05 33.25h1v1h-1zM10.75 34.15h1v1h-1zM12.55 34.15h1v1h-1zM11.65 35.05h1v1h-1zM14.35 32.35h1v1h-1zM16.15 32.35h1v1h-1zM15.25 33.25h1v1h-1zM17.95 34.15h1v1h-1zM19.75 34.15h1v1h-1zM18.85 35.05h1v1h-1zM21.55 32.35h1v1h-1zM23.35 32.35h1v1h-1zM22.45 33.25h1v1h-1zM25.15 34.15h1v1h-1zM26.95 34.15h1v1h-1zM26.05 35.05h1v1h-1zM28.75 32.35h1v1h-1zM30.55 32.35h1v1h-1zM29.65 33.25h1v1h-1zM32.35 34.15h1v1h-1zM34.15 34.15h1v1h-1zM33.25 35.05h1v1h-1zM35.95 32.35h1v1h-1zM37.75 32.35h1v1h-1zM36.85 33.25h1v1h-1zM39.55 34.15h1v1h-1zM41.35 34.15h1v1h-1zM40.45 35.05h1v1h-1zM43.15 32.35h1v1h-1zM-0.05 35.95h1v1h-1zM1.75 35.95h1v1h-1zM0.85 36.85h1v1h-1zM3.55 37.75h1v1h-1zM5.35 37.75h1v1h-1zM4.45 38.65h1v1h-1zM7.15 35.95h1v1h-1zM8.95 35.95h1v1h-1zM8.05 36.85h1v1h-1zM10.75 37.75h1v1h-1zM12.55 37.75h1v1h-1zM11.65 38.65h1v1h-1zM14.35 35.95h1v1h-1zM16.15 35.95h1v1h-1zM15.25 36.85h1v1h-1zM17.95 37.75h1v1h-1zM19.75 37.75h1v1h-1zM18.85 38.65h1v1h-1zM21.55 35.95h1v1h-1zM23.35 35.95h1v1h-1zM22.45 36.85h1v1h-1zM25.15 37.75h1v1h-1zM26.95 37.75h1v1h-1zM26.05 38.65h1v1h-1zM28.75 35.95h1v1h-1zM30.55 35.95h1v1h-1zM29.65 36.85h1v1h-1zM32.35 37.75h1v1h-1zM34.15 37.75h1v1h-1zM33.25 38.65h1v1h-1zM35.95 35.95h1v1h-1zM37.75 35.95h1v1h-1zM36.85 36.85h1v1h-1zM39.55 37.75h1v1h-1zM41.35 37.75h1v1h-1zM40.45 38.65h1v1h-1zM43.15 35.95h1v1h-1zM-0.05 39.55h1v1h-1zM1.75 39.55h1v1h-1zM0.85 40.45h1v1h-1zM3.55 41.35h1v1h-1zM5.35 41.35h1v1h-1zM4.45 42.25h1v1h-1zM7.15 39.55h1v1h-1zM8.95 39.55h1v1h-1zM8.05 40.45h1v1h-1zM10.75 41.35h1v1h-1zM12.55 41.35h1v1h-1zM11.65 42.25h1v1h-1zM14.35 39.55h1v1h-1zM16.15 39.55h1v1h-1zM15.25 40.45h1v1h-1zM17.95 41.35h1v1h-1zM19.75 41.35h1v1h-1zM18.85 42.25h1v1h-1zM21.55 39.55h1v1h-1zM23.35 39.55h1v1h-1zM22.45 40.45h1v1h-1zM25.15 41.35h1v1h-1zM26.95 41.35h1v1h-1zM26.05 42.25h1v1h-1zM28.75 39.55h1v1h-1zM30.55 39.55h1v1h-1zM29.65 40.45h1v1h-1zM32.35 41.35h1v1h-1zM34.15 41.35h1v1h-1zM33.25 42.25h1v1h-1zM35.95 39.55h1v1h-1zM37.75 39.55h1v1h-1zM36.85 40.45h1v1h-1zM39.55 41.35h1v1h-1zM41.35 41.35h1v1h-1zM40.45 42.25h1v1h-1zM43.15 39.55h1v1h-1zM-0.05 43.15h1v1h-1zM1.75 43.15h1v1h-1zM0.85 44.05h1v1h-1zM3.55 44.95h1v1h-1zM5.35 44.95h1v1h-1zM4.45 45.85h1v1h-1zM7.15 43.15h1v1h-1zM8.95 43.15h1v1h-1zM8.05 44.05h1v1h-1zM10.75 44.95h1v1h-1zM12.55 44.95h1v1h-1zM11.65 45.85h1v1h-1zM14.35 43.15h1v1h-1zM16.15 43.15h1v1h-1zM15.25 44.05h1v1h-1zM17.95 44.95h1v1h-1zM19.75 44.95h1v1h-1zM18.85 45.85h1v1h-1zM21.55 43.15h1v1h-1zM23.35 43.15h1v1h-1zM22.45 44.05h1v1h-1zM25.15 44.95h1v1h-1zM26.95 44.95h1v1h-1zM26.05 45.85h1v1h-1zM28.75 43.15h1v1h-1zM30.55 43.15h1v1h-1zM29.65 44.05h1v1h-1zM32.35 44.95h1v1h-1zM34.15 44.95h1v1h-1zM33.25 45.85h1v1h-1zM35.95 43.15h1v1h-1zM37.75 43.15h1v1h-1zM36.85 44.05h1v1h-1zM39.55 44.95h1v1h-1zM41.35 44.95h1v1h-1zM40.45 45.85h1v1h-1zM43.15 43.15h1v1h-1zM-0.05 46.75h1v1h-1zM1.75 46.75h1v1h-1zM0.85 47.65h1v1h-1zM3.55 48.55h1v1h-1zM5.35 48.55h1v1h-1zM4.45 49.45h1v1h-1zM7.15 46.75h1v1h-1zM8.95 46.75h1v1h-1zM8.05 47.65h1v1h-1zM10.75 48.55h1v1h-1zM12.55 48.55h1v1h-1zM11.65 49.45h1v1h-1zM14.35 46.75h1v1h-1zM16.15 46.75h1v1h-1zM15.25 47.65h1v1h-1zM17.95 48.55h1v1h-1zM19.75 48.55h1v1h-1zM18.85 49.45h1v1h-1zM21.55 46.75h1v1h-1zM23.35 46.75h1v1h-1zM22.45 47.65h1v1h-1zM25.15 48.55h1v1h-1zM26.95 48.55h1v1h-1zM26.05 49.45h1v1h-1zM28.75 46.75h1v1h-1zM30.55 46.75h1v1h-1zM29.65 47.65h1v1h-1zM32.35 48.55h1v1h-1zM34.15 48.55h1v1h-1zM33.25 49.45h1v1h-1zM35.95 46.75h1v1h-1zM37.75 46.75h1v1h-1zM36.85 47.65h1v1h-1zM39.55 48.55h1v1h-1zM41.35 48.55h1v1h-1zM40.45 49.45h1v1h-1zM43.15 46.75h1v1h-1zM-0.05 50.35h1v1h-1zM1.75 50.35h1v1h-1zM0.85 51.25h1v1h-1zM3.55 52.15h1v1h-1zM5.35 52.15h1v1h-1zM4.45 53.05h1v1h-1zM7.15 50.35h1v1h-1zM8.95 50.35h1v1h-1zM8.05 51.25h1v1h-1zM10.75 52.15h1v1h-1zM12.55 52.15h1v1h-1zM11.65 53.05h1v1h-1zM14.35 50.35h1v1h-1zM16.15 50.35h1v1h-1zM15.25 51.25h1v1h-1zM17.95 52.15h1v1h-1zM19.75 52.15h1v1h-1zM18.85 53.05h1v1h-1zM21.55 50.35h1v1h-1zM23.35 50.35h1v1h-1zM22.45 51.25h1v1h-1zM25.15 52.15h1v1h-1zM26.95 52.15h1v1h-1zM26.05 53.05h1v1h-1zM28.75 50.35h1v1h-1zM30.55 50.35h1v1h-1zM29.65 51.25h1v1h-1zM32.35 52.15h1v1h-1zM34.15 52.15h1v1h-1zM33.25 53.05h1v1h-1zM35.95 50.35h1v1h-1zM37.75 50.35h1v1h-1zM36.85 51.25h1v1h-1zM39.55 52.15h1v1h-1zM41.35 52.15h1v1h-1zM40.45 53.05h1v1h-1zM43.15 50.35h1v1h-1zM-0.05 53.95h1v1h-1zM1.75 53.95h1v1h-1zM0.85 54.85h1v1h-1zM3.55 55.75h1v1h-1zM5.35 55.75h1v1h-1zM4.45 56.65h1v1h-1zM7.15 53.95h1v1h-1zM8.95 53.95h1v1h-1zM8.05 54.85h1v1h-1zM10.75 55.75h1v1h-1zM12.55 55.75h1v1h-1zM11.65 56.65h1v1h-1zM14.35 53.95h1v1h-1zM16.15 53.95h1v1h-1zM15.25 54.85h1v1h-1zM17.95 55.75h1v1h-1zM19.75 55.75h1v1h-1zM18.85 56.65h1v1h-1zM21.55 53.95h1v1h-1zM23.35 53.95h1v1h-1zM22.45 54.85h1v1h-1zM25.15 55.75h1v1h-1zM26.95 55.75h1v1h-1zM26.05 56.65h1v1h-1zM28.75 53.95h1v1h-1zM30.55 53.95h1v1h-1zM29.65 54.85h1v1h-1zM32.35 55.75h1v1h-1zM34.15 55.75h1v1h-1zM33.25 56.65h1v1h-1zM35.95 53.95h1v1h-1zM37.75 53.95h1v1h-1zM36.85 54.85h1v1h-1zM39.55 55.75h1v1h-1zM41.35 55.75h1v1h-1zM40.45 56.65h1v1h-1zM43.15 53.95h1v1h-1zM-0.05 57.55h1v1h-1zM1.75 57.55h1v1h-1zM0.85 58.45h1v1h-1zM3.55 59.35h1v1h-1zM5.35 59.35h1v1h-1zM4.45 60.25h1v1h-1zM7.15 57.55h1v1h-1zM8.95 57.55h1v1h-1zM8.05 58.45h1v1h-1zM10.75 59.35h1v1h-1zM12.55 59.35h1v1h-1zM11.65 60.25h1v1h-1zM14.35 57.55h1v1h-1zM16.15 57.55h1v1h-1zM15.25 58.45h1v1h-1zM17.95 59.35h1v1h-1zM19.75 59.35h1v1h-1zM18.85 60.25h1v1h-1zM21.55 57.55h1v1h-1zM23.35 57.55h1v1h-1zM22.45 58.45h1v1h-1zM25.15 59.35h1v1h-1zM26.95 59.35h1v1h-1zM26.05 60.25h1v1h-1zM28.75 57.55h1v1h-1zM30.55 57.55h1v1h-1zM29.65 58.45h1v1h-1zM32.35 59.35h1v1h-1zM34.15 59.35h1v1h-1zM33.25 60.25h1v1h-1zM35.95 57.55h1v1h-1zM37.75 57.55h1v1h-1zM36.85 58.45h1v1h-1zM39.55 59.35h1v1h-1zM41.35 59.35h1v1h-1zM40.45 60.25h1v1h-1zM43.15 57.55h1v1h-1zM-0.05 61.15h1v1h-1zM1.75 61.15h1v1h-1zM0.85 62.05h1v1h-1zM3.55 62.95h1v1h-1zM5.35 62.95h1v1h-1zM4.45 63.85h1v1h-1zM7.15 61.15h1v1h-1zM8.95 61.15h1v1h-1zM8.05 62.05h1v1h-1zM10.75 62.95h1v1h-1zM12.55 62.95h1v1h-1zM11.65 63.85h1v1h-1zM14.35 61.15h1v1h-1zM16.15 61.15h1v1h-1zM15.25 62.05h1v1h-1zM17.95 62.95h1v1h-1zM19.75 62.95h1v1h-1zM18.85 63.85h1v1h-1zM21.55 61.15h1v1h-1zM23.35 61.15h1v1h-1zM22.45 62.05h1v1h-1zM25.15 62.95h1v1h-1zM26.95 62.95h1v1h-1zM26.05 63.85h1v1h-1zM28.75 61.15h1v1h-1zM30.55 61.15h1v1h-1zM29.65 62.05h1v1h-1zM32.35 62.95h1v1h-1zM34.15 62.95h1v1h-1zM33.25 63.85h1v1h-1zM35.95 61.15h1v1h-1zM37.75 61.15h1v1h-1zM36.85 62.05h1v1h-1zM39.55 62.95h1v1h-1zM41.35 62.95h1v1h-1zM40.45 63.85h1v1h-1zM43.15 61.15h1v1h-1zM-0.05 64.75h1v1h-1zM1.75 64.75h1v1h-1zM0.85 65.65h1v1h-1zM3.55 66.55h1v1h-1zM5.35 66.55h1v1h-1zM4.45 67.45h1v1h-1zM7.15 64.75h1v1h-1zM8.95 64.75h1v1h-1zM8.05 65.65h1v1h-1zM10.75 66.55h1v1h-1zM12.55 66.55h1v1h-1zM11.65 67.45h1v1h-1zM14.35 64.75h1v1h-1zM16.15 64.75h1v1h-1zM15.25 65.65h1v1h-1zM17.95 66.55h1v1h-1zM19.75 66.55h1v1h-1zM18.85 67.45h1v1h-1zM21.55 64.75h1v1h-1zM23.35 64.75h1v1h-1zM22.45 65.65h1v1h-1zM25.15 66.55h1v1h-1zM26.95 66.55h1v1h-1zM26.05 67.45h1v1h-1zM28.75 64.75h1v1h-1zM30.55 64.75h1v1h-1zM29.65 65.65h1v1h-1zM32.35 66.55h1v1h-1zM34.15 66.55h1v1h-1zM33.25 67.45h1v1h-1zM35.95 64.75h1v1h-1zM37.75 64.75h1v1h-1zM36.85 65.65h1v1h-1zM39.55 66.55h1v1h-1zM41.35 66.55h1v1h-1zM40.45 67.45h1v1h-1zM43.15 64.75h1v1h-1zM-0.05 68.35h1v1h-1zM1.75 68.35h1v1h-1zM0.85 69.25h1v1h-1zM3.55 70.15h1v1h-1zM5.35 70.15h1v1h-1zM4.45 71.05h1v1h-1zM7.15 68.35h1v1h-1zM8.95 68.35h1v1h-1zM8.05 69.25h1v1h-1zM10.75 70.15h1v1h-1zM12.55 70.15h1v1h-1zM11.65 71.05h1v1h-1zM14.35 68.35h1v1h-1zM16.15 68.35h1v1h-1zM15.25 69.25h1v1h-1zM17.95 70.15h1v1h-1zM19.75 70.15h1v1h-1zM18.85 71.05h1v1h-1zM21.55 68.35h1v1h-1zM23.35 68.35h1v1h-1zM22.45 69.25h1v1h-1zM25.15 70.15h1v1h-1zM26.95 70.15h1v1h-1zM26.05 71.05h1v1h-1zM28.75 68.35h1v1h-1zM30.55 68.35h1v1h-1zM29.65 69.25h1v1h-1zM32.35 70.15h1v1h-1zM34.15 70.15h1v1h-1zM33.25 71.05h1v1h-1zM35.95 68.35h1v1h-1zM37.75 68.35h1v1h-1zM36.85 69.25h1v1h-1zM39.55 70.15h1v1h-1zM41.35 70.15h1v1h-1zM40.45 71.05h1v1h-1zM43.15 68.35h1v1h-1zM-0.05 71.95h1v1h-1zM1.75 71.95h1v1h-1zM0.85 72.85h1v1h-1zM3.55 73.75h1v1h-1zM5.35 73.75h1v1h-1zM4.45 74.65h1v1h-1zM7.15 71.95h1v1h-1zM8.95 71.95h1v1h-1zM8.05 72.85h1v1h-1zM10.75 73.75h1v1h-1zM12.55 73.75h1v1h-1zM11.65 74.65h1v1h-1zM14.35 71.95h1v1h-1zM16.15 71.95h1v1h-1zM15.25 72.85h1v1h-1zM17.95 73.75h1v1h-1zM19.75 73.75h1v1h-1zM18.85 74.65h1v1h-1zM21.55 71.95h1v1h-1zM23.35 71.95h1v1h-1zM22.45 72.85h1v1h-1zM25.15 73.75h1v1h-1zM26.95 73.75h1v1h-1zM26.05 74.65h1v1h-1zM28.75 71.95h1v1h-1zM30.55 71.95h1v1h-1zM29.65 72.85h1v1h-1zM32.35 73.75h1v1h-1zM34.15 73.75h1v1h-1zM33.25 74.65h1v1h-1zM35.95 71.95h1v1h-1zM37.75 71.95h1v1h-1zM36.85 72.85h1v1h-1zM39.55 73.75h1v1h-1zM41.35 73.75h1v1h-1zM40.45 74.65h1v1h-1zM43.15 71.95h1v1h-1zM-0.05 75.55h1v1h-1zM1.75 75.55h1v1h-1zM0.85 76.45h1v1h-1zM3.55 77.35h1v1h-1zM5.35 77.35h1v1h-1zM4.45 78.25h1v1h-1zM7.15 75.55h1v1h-1zM8.95 75.55h1v1h-1zM8.05 76.45h1v1h-1zM10.75 77.35h1v1h-1zM12.55 77.35h1v1h-1zM11.65 78.25h1v1h-1zM14.35 75.55h1v1h-1zM16.15 75.55h1v1h-1zM15.25 76.45h1v1h-1zM17.95 77.35h1v1h-1zM19.75 77.35h1v1h-1zM18.85 78.25h1v1h-1zM21.55 75.55h1v1h-1zM23.35 75.55h1v1h-1zM22.45 76.45h1v1h-1zM25.15 77.35h1v1h-1zM26.95 77.35h1v1h-1zM26.05 78.25h1v1h-1zM28.75 75.55h1v1h-1zM30.55 75.55h1v1h-1zM29.65 76.45h1v1h-1zM32.35 77.35h1v1h-1zM34.15 77.35h1v1h-1zM33.25 78.25h1v1h-1zM35.95 75.55h1v1h-1zM37.75 75.55h1v1h-1zM36.85 76.45h1v1h-1zM39.55 77.35h1v1h-1zM41.35 77.35h1v1h-1zM40.45 78.25h1v1h-1zM43.15 75.55h1v1h-1zM-0.05 79.15h1v1h-1zM1.75 79.15h1v1h-1zM0.85 80.05h1v1h-1zM3.55 80.95h1v1h-1zM5.35 80.95h1v1h-1zM4.45 81.85h1v1h-1zM7.15 79.15h1v1h-1zM8.95 79.15h1v1h-1zM8.05 80.05h1v1h-1zM10.75 80.95h1v1h-1zM12.55 80.95h1v1h-1zM11.65 81.85h1v1h-1zM14.35 79.15h1v1h-1zM16.15 79.15h1v1h-1zM15.25 80.05h1v1h-1zM17.95 80.95h1v1h-1zM19.75 80.95h1v1h-1zM18.85 81.85h1v1h-1zM21.55 79.15h1v1h-1zM23.35 79.15h1v1h-1zM22.45 80.05h1v1h-1zM25.15 80.95h1v1h-1zM26.95 80.95h1v1h-1zM26.05 81.85h1v1h-1zM28.75 79.15h1v1h-1zM30.55 79.15h1v1h-1zM29.65 80.05h1v1h-1zM32.35 80.95h1v1h-1zM34.15 80.95h1v1h-1zM33.25 81.85h1v1h-1zM35.95 79.15h1v1h-1zM37.75 79.15h1v1h-1zM36.85 80.05h1v1h-1zM39.55 80.95h1v1h-1zM41.35 80.95h1v1h-1zM40.45 81.85h1v1h-1zM43.15 79.15h1v1h-1zM-0.05 82.75h1v1h-1zM1.75 82.75h1v1h-1zM0.85 83.65h1v1h-1zM3.55 84.55h1v1h-1zM5.35 84.55h1v1h-1zM4.45 85.45h1v1h-1zM7.15 82.75h1v1h-1zM8.95 82.75h1v1h-1zM8.05 83.65h1v1h-1zM10.75 84.55h1v1h-1zM12.55 84.55h1v1h-1zM11.65 85.45h1v1h-1zM14.35 82.75h1v1h-1zM16.15 82.75h1v1h-1zM15.25 83.65h1v1h-1zM17.95 84.55h1v1h-1zM19.75 84.55h1v1h-1zM18.85 85.45h1v1h-1zM21.55 82.75h1v1h-1zM23.35 82.75h1v1h-1zM22.45 83.65h1v1h-1zM25.15 84.55h1v1h-1zM26.95 84.55h1v1h-1zM26.05 85.45h1v1h-1zM28.75 82.75h1v1h-1zM30.55 82.75h1v1h-1zM29.65 83.65h1v1h-1zM32.35 84.55h1v1h-1zM34.15 84.55h1v1h-1zM33.25 85.45h1v1h-1zM35.95 82.75h1v1h-1zM37.75 82.75h1v1h-1zM36.85 83.65h1v1h-1zM39.55 84.55h1v1h-1zM41.35 84.55h1v1h-1zM40.45 85.45h1v1h-1zM43.15 82.75h1v1h-1zM-0.05 86.35h1v1h-1zM1.75 86.35h1v1h-1zM0.85 87.25h1v1h-1zM3.55 88.15h1v1h-1zM5.35 88.15h1v1h-1zM4.45 89.05h1v1h-1zM7.15 86.35h1v1h-1zM8.95 86.35h1v1h-1zM8.05 87.25h1v1h-1zM10.75 88.15h1v1h-1zM12.55 88.15h1v1h-1zM11.65 89.05h1v1h-1zM14.35 86.35h1v1h-1zM16.15 86.35h1v1h-1zM15.25 87.25h1v1h-1zM17.95 88.15h1v1h-1zM19.75 88.15h1v1h-1zM18.85 89.05h1v1h-1zM21.55 86.35h1v1h-1zM23.35 86.35h1v1h-1zM22.45 87.25h1v1h-1zM25.15 88.15h1v1h-1zM26.95 88.15h1v1h-1zM26.05 89.05h1v1h-1zM28.75 86.35h1v1h-1zM30.55 86.35h1v1h-1zM29.65 87.25h1v1h-1zM32.35 88.15h1v1h-1zM34.15 88.15h1v1h-1zM33.25 89.05h1v1h-1zM35.95 86.35h1v1h-1zM37.75 86.35h1v1h-1zM36.85 87.25h1v1h-1zM39.55 88.15h1v1h-1zM41.35 88.15h1v1h-1zM40.45 89.05h1v1h-1zM43.15 86.35h1v1h-1zM-0.05 89.95h1v1h-1zM1.75 89.95h1v1h-1zM0.85 90.85h1v1h-1zM3.55 91.75h1v1h-1zM5.35 91.75h1v1h-1zM4.45 92.65h1v1h-1zM7.15 89.95h1v1h-1zM8.95 89.95h1v1h-1zM8.05 90.85h1v1h-1zM10.75 91.75h1v1h-1zM12.55 91.75h1v1h-1zM11.65 92.65h1v1h-1zM14.35 89.95h1v1h-1zM16.15 89.95h1v1h-1zM15.25 90.85h1v1h-1zM17.95 91.75h1v1h-1zM19.75 91.75h1v1h-1zM18.85 92.65h1v1h-1zM21.55 89.95h1v1h-1zM23.35 89.95h1v1h-1zM22.45 90.85h1v1h-1zM25.15 91.75h1v1h-1zM26.95 91.75h1v1h-1zM26.05 92.65h1v1h-1zM28.75 89.95h1v1h-1zM30.55 89.95h1v1h-1zM29.65 90.85h1v1h-1zM32.35 91.75h1v1h-1zM34.15 91.75h1v1h-1zM33.25 92.65h1v1h-1zM35.95 89.95h1v1h-1zM37.75 89.95h1v1h-1zM36.85 90.85h1v1h-1zM39.55 91.75h1v1h-1zM41.35 91.75h1v1h-1zM40.45 92.65h1v1h-1zM43.15 89.95h1v1h-1zM-0.05 93.55h1v1h-1zM1.75 93.55h1v1h-1zM0.85 94.45h1v1h-1zM3.55 95.35h1v1h-1zM5.35 95.35h1v1h-1zM4.45 96.25h1v1h-1zM7.15 93.55h1v1h-1zM8.95 93.55h1v1h-1zM8.05 94.45h1v1h-1zM10.75 95.35h1v1h-1zM12.55 95.35h1v1h-1zM11.65 96.25h1v1h-1zM14.35 93.55h1v1h-1zM16.15 93.55h1v1h-1zM15.25 94.45h1v1h-1zM17.95 95.35h1v1h-1zM19.75 95.35h1v1h-1zM18.85 96.25h1v1h-1zM21.55 93.55h1v1h-1zM23.35 93.55h1v1h-1zM22.45 94.45h1v1h-1zM25.15 95.35h1v1h-1zM26.95 95.35h1v1h-1zM26.05 96.25h1v1h-1zM28.75 93.55h1v1h-1zM30.55 93.55h1v1h-1zM29.65 94.45h1v1h-1zM32.35 95.35h1v1h-1zM34.15 95.35h1v1h-1zM33.25 96.25h1v1h-1zM35.95 93.55h1v1h-1zM37.75 93.55h1v1h-1zM36.85 94.45h1v1h-1zM39.55 95.35h1v1h-1zM41.35 95.35h1v1h-1zM40.45 96.25h1v1h-1zM43.15 93.55h1v1h-1zM-0.05 97.15h1v1h-1zM1.75 97.15h1v1h-1zM0.85 98.05h1v1h-1zM3.55 98.95h1v1h-1zM5.35 98.95h1v1h-1zM4.45 99.85h1v1h-1zM7.15 97.15h1v1h-1zM8.95 97.15h1v1h-1zM8.05 98.05h1v1h-1zM10.75 98.95h1v1h-1zM12.55 98.95h1v1h-1zM11.65 99.85h1v1h-1zM14.35 97.15h1v1h-1zM16.15 97.15h1v1h-1zM15.25 98.05h1v1h-1zM17.95 98.95h1v1h-1zM19.75 98.95h1v1h-1zM18.85 99.85h1v1h-1zM21.55 97.15h1v1h-1zM23.35 97.15h1v1h-1zM22.45 98.05h1v1h-1zM25.15 98.95h1v1h-1zM26.95 98.95h1v1h-1zM26.05 99.85h1v1h-1zM28.75 97.15h1v1h-1zM30.55 97.15h1v1h-1zM29.65 98.05h1v1h-1zM32.35 98.95h1v1h-1zM34.15 98.95h1v1h-1zM33.25 99.85h1v1h-1zM35.95 97.15h1v1h-1zM37.75 97.15h1v1h-1zM36.85 98.05h1v1h-1zM39.55 98.95h1v1h-1zM41.35 98.95h1v1h-1zM40.45 99.85h1v1h-1zM43.15 97.15h1v1h-1zM-0.05 100.75h1v1h-1zM1.75 100.75h1v1h-1zM0.85 101.65h1v1h-1zM3.55 102.55h1v1h-1zM5.35 102.55h1v1h-1zM4.45 103.45h1v1h-1zM7.15 100.75h1v1h-1zM8.95 100.75h1v1h-1zM8.05 101.65h1v1h-1zM10.75 102.55h1v1h-1zM12.55 102.55h1v1h-1zM11.65 103.45h1v1h-1zM14.35 100.75h1v1h-1zM16.15 100.75h1v1h-1zM15.25 101.65h1v1h-1zM17.95 102.55h1v1h-1zM19.75 102.55h1v1h-1zM18.85 103.45h1v1h-1zM21.55 100.75h1v1h-1zM23.35 100.75h1v1h-1zM22.45 101.65h1v1h-1zM25.15 102.55h1v1h-1zM26.95 102.55h1v1h-1zM26.05 103.45h1v1h-1zM28.75 100.75h1v1h-1zM30.55 100.75h1v1h-1zM29.65 101.65h1v1h-1zM32.35 102.55h1v1h-1zM34.15 102.55h1v1h-1zM33.25 103.45h1v1h-1zM35.95 100.75h1v1h-1zM37.75 100.75h1v1h-1zM36.85 101.65h1v1h-1zM39.55 102.55h1v1h-1zM41.35 102.55h1v1h-1zM40.45 103.45h1v1h-1zM43.15 100.75h1v1h-1zM-0.05 104.35h1v1h-1zM1.75 104.35h1v1h-1zM0.85 105.25h1v1h-1zM3.55 106.15h1v1h-1zM5.35 106.15h1v1h-1zM4.45 107.05h1v1h-1zM7.15 104.35h1v1h-1zM8.95 104.35h1v1h-1zM8.05 105.25h1v1h-1zM10.75 106.15h1v1h-1zM12.55 106.15h1v1h-1zM11.65 107.05h1v1h-1zM14.35 104.35h1v1h-1zM16.15 104.35h1v1h-1zM15.25 105.25h1v1h-1zM17.95 106.15h1v1h-1zM19.75 106.15h1v1h-1zM18.85 107.05h1v1h-1zM21.55 104.35h1v1h-1zM23.35 104.35h1v1h-1zM22.45 105.25h1v1h-1zM25.15 106.15h1v1h-1zM26.95 106.15h1v1h-1zM26.05 107.05h1v1h-1zM28.75 104.35h1v1h-1zM30.55 104.35h1v1h-1zM29.65 105.25h1v1h-1zM32.35 106.15h1v1h-1zM34.15 106.15h1v1h-1zM33.25 107.05h1v1h-1zM35.95 104.35h1v1h-1zM37.75 104.35h1v1h-1zM36.85 105.25h1v1h-1zM39.55 106.15h1v1h-1zM41.35 106.15h1v1h-1zM40.45 107.05h1v1h-1zM43.15 104.35h1v1h-1zM-0.05 107.95h1v1h-1zM1.75 107.95h1v1h-1zM0.85 108.85h1v1h-1zM3.55 109.75h1v1h-1zM5.35 109.75h1v1h-1zM4.45 110.65h1v1h-1zM7.15 107.95h1v1h-1zM8.95 107.95h1v1h-1zM8.05 108.85h1v1h-1zM10.75 109.75h1v1h-1zM12.55 109.75h1v1h-1zM11.65 110.65h1v1h-1zM14.35 107.95h1v1h-1zM16.15 107.95h1v1h-1zM15.25 108.85h1v1h-1zM17.95 109.75h1v1h-1zM19.75 109.75h1v1h-1zM18.85 110.65h1v1h-1zM21.55 107.95h1v1h-1zM23.35 107.95h1v1h-1zM22.45 108.85h1v1h-1zM25.15 109.75h1v1h-1zM26.95 109.75h1v1h-1zM26.05 110.65h1v1h-1zM28.75 107.95h1v1h-1zM30.55 107.95h1v1h-1zM29.65 108.85h1v1h-1zM32.35 109.75h1v1h-1zM34.15 109.75h1v1h-1zM33.25 110.65h1v1h-1zM35.95 107.95h1v1h-1zM37.75 107.95h1v1h-1zM36.85 108.85h1v1h-1zM39.55 109.75h1v1h-1zM41.35 109.75h1v1h-1zM40.45 110.65h1v1h-1zM43.15 107.95h1v1h-1zM-0.05 111.55h1v1h-1zM1.75 111.55h1v1h-1zM0.85 112.45h1v1h-1zM3.55 113.35h1v1h-1zM5.35 113.35h1v1h-1zM4.45 114.25h1v1h-1zM7.15 111.55h1v1h-1zM8.95 111.55h1v1h-1zM8.05 112.45h1v1h-1zM10.75 113.35h1v1h-1zM12.55 113.35h1v1h-1zM11.65 114.25h1v1h-1zM14.35 111.55h1v1h-1zM16.15 111.55h1v1h-1zM15.25 112.45h1v1h-1zM17.95 113.35h1v1h-1zM19.75 113.35h1v1h-1zM18.85 114.25h1v1h-1zM21.55 111.55h1v1h-1zM23.35 111.55h1v1h-1zM22.45 112.45h1v1h-1zM25.15 113.35h1v1h-1zM26.95 113.35h1v1h-1zM26.05 114.25h1v1h-1zM28.75 111.55h1v1h-1zM30.55 111.55h1v1h-1zM29.65 112.45h1v1h-1zM32.35 113.35h1v1h-1zM34.15 113.35h1v1h-1zM33.25 114.25h1v1h-1zM35.95 111.55h1v1h-1zM37.75 111.55h1v1h-1zM36.85 112.45h1v1h-1zM39.55 113.35h1v1h-1zM41.35 113.35h1v1h-1zM40.45 114.25h1v1h-1zM43.15 111.55h1v1h-1zM-0.05 115.15h1v1h-1zM1.75 115.15h1v1h-1zM0.85 116.05h1v1h-1zM3.55 116.95h1v1h-1zM5.35 116.95h1v1h-1zM4.45 117.85h1v1h-1zM7.15 115.15h1v1h-1zM8.95 115.15h1v1h-1zM8.05 116.05h1v1h-1zM10.75 116.95h1v1h-1zM12.55 116.95h1v1h-1zM11.65 117.85h1v1h-1zM14.35 115.15h1v1h-1zM16.15 115.15h1v1h-1zM15.25 116.05h1v1h-1zM17.95 116.95h1v1h-1zM19.75 116.95h1v1h-1zM18.85 117.85h1v1h-1zM21.55 115.15h1v1h-1zM23.35 115.15h1v1h-1zM22.45 116.05h1v1h-1zM25.15 116.95h1v1h-1zM26.95 116.95h1v1h-1zM26.05 117.85h1v1h-1zM28.75 115.15h1v1h-1zM30.55 115.15h1v1h-1zM29.65 116.05h1v1h-1zM32.35 116.95h1v1h-1zM34.15 116.95h1v1h-1zM33.25 117.85h1v1h-1zM35.95 115.15h1v1h-1zM37.75 115.15h1v1h-1zM36.85 116.05h1v1h-1zM39.55 116.95h1v1h-1zM41.35 116.95h1v1h-1zM40.45 117.85h1v1h-1zM43.15 115.15h1v1h-1zM-0.05 118.75h1v1h-1zM1.75 118.75h1v1h-1zM0.85 119.65h1v1h-1zM3.55 120.55h1v1h-1zM5.35 120.55h1v1h-1zM4.45 121.45h1v1h-1zM7.15 118.75h1v1h-1zM8.95 118.75h1v1h-1zM8.05 119.65h1v1h-1zM10.75 120.55h1v1h-1zM12.55 120.55h1v1h-1zM11.65 121.45h1v1h-1zM14.35 118.75h1v1h-1zM16.15 118.75h1v1h-1zM15.25 119.65h1v1h-1zM17.95 120.55h1v1h-1zM19.75 120.55h1v1h-1zM18.85 121.45h1v1h-1zM21.55 118.75h1v1h-1zM23.35 118.75h1v1h-1zM22.45 119.65h1v1h-1zM25.15 120.55h1v1h-1zM26.95 120.55h1v1h-1zM26.05 121.45h1v1h-1zM28.75 118.75h1v1h-1zM30.55 118.75h1v1h-1zM29.65 119.65h1v1h-1zM32.35 120.55h1v1h-1zM34.15 120.55h1v1h-1zM33.25 121.45h1v1h-1zM35.95 118.75h1v1h-1zM37.75 118.75h1v1h-1zM36.85 119.65h1v1h-1zM39.55 120.55h1v1h-1zM41.35 120.55h1v1h-1zM40.45 121.45h1v1h-1zM43.15 118.75h1v1h-1zM-0.05 122.35h1v1h-1zM1.75 122.35h1v1h-1zM7.15 122.35h1v1h-1zM8.95 122.35h1v1h-1zM14.35 122.35h1v1h-1zM16.15 122.35h1v1h-1zM21.55 122.35h1v1h-1zM23.35 122.35h1v1h-1zM28.75 122.35h1v1h-1zM30.55 122.35h1v1h-1zM35.95 122.35h1v1h-1zM37.75 122.35h1v1h-1zM43.15 122.35h1v1h-1z" fill="#111"/></g>
<rect x="646.60" y="128.80" width="46.80" height="142.90" fill="#000" rx="0.8"/>
<clipPath id="c4"><rect x="649.00" y="131.30" width="41.99" height="140.40"/></clipPath><g clip-path="url(#c4)"><rect x="649.00" y="131.30" width="41.99" height="140.40" fill="#000"/><path transform="translate(652.12,130.82) scale(0.9941,0.9544)" d="M-4.13 -3.1H40.11M-2.6 -3.1v3.6M4.6 -3.1v3.6M11.8 -3.1v3.6M19 -3.1v3.6M26.2 -3.1v3.6M33.4 -3.1v3.6M-4.13 0.5H40.11M1 0.5v3.6M8.2 0.5v3.6M15.4 0.5v3.6M22.6 0.5v3.6M29.8 0.5v3.6M37 0.5v3.6M-4.13 4.1H40.11M-2.6 4.1v3.6M4.6 4.1v3.6M11.8 4.1v3.6M19 4.1v3.6M26.2 4.1v3.6M33.4 4.1v3.6M-4.13 7.7H40.11M1 7.7v3.6M8.2 7.7v3.6M15.4 7.7v3.6M22.6 7.7v3.6M29.8 7.7v3.6M37 7.7v3.6M-4.13 11.3H40.11M-2.6 11.3v3.6M4.6 11.3v3.6M11.8 11.3v3.6M19 11.3v3.6M26.2 11.3v3.6M33.4 11.3v3.6M-4.13 14.9H40.11M1 14.9v3.6M8.2 14.9v3.6M15.4 14.9v3.6M22.6 14.9v3.6M29.8 14.9v3.6M37 14.9v3.6M-4.13 18.5H40.11M-2.6 18.5v3.6M4.6 18.5v3.6M11.8 18.5v3.6M19 18.5v3.6M26.2 18.5v3.6M33.4 18.5v3.6M-4.13 22.1H40.11M1 22.1v3.6M8.2 22.1v3.6M15.4 22.1v3.6M22.6 22.1v3.6M29.8 22.1v3.6M37 22.1v3.6M-4.13 25.7H40.11M-2.6 25.7v3.6M4.6 25.7v3.6M11.8 25.7v3.6M19 25.7v3.6M26.2 25.7v3.6M33.4 25.7v3.6M-4.13 29.3H40.11M1 29.3v3.6M8.2 29.3v3.6M15.4 29.3v3.6M22.6 29.3v3.6M29.8 29.3v3.6M37 29.3v3.6M-4.13 32.9H40.11M-2.6 32.9v3.6M4.6 32.9v3.6M11.8 32.9v3.6M19 32.9v3.6M26.2 32.9v3.6M33.4 32.9v3.6M-4.13 36.5H40.11M1 36.5v3.6M8.2 36.5v3.6M15.4 36.5v3.6M22.6 36.5v3.6M29.8 36.5v3.6M37 36.5v3.6M-4.13 40.1H40.11M-2.6 40.1v3.6M4.6 40.1v3.6M11.8 40.1v3.6M19 40.1v3.6M26.2 40.1v3.6M33.4 40.1v3.6M-4.13 43.7H40.11M1 43.7v3.6M8.2 43.7v3.6M15.4 43.7v3.6M22.6 43.7v3.6M29.8 43.7v3.6M37 43.7v3.6M-4.13 47.3H40.11M-2.6 47.3v3.6M4.6 47.3v3.6M11.8 47.3v3.6M19 47.3v3.6M26.2 47.3v3.6M33.4 47.3v3.6M-4.13 50.9H40.11M1 50.9v3.6M8.2 50.9v3.6M15.4 50.9v3.6M22.6 50.9v3.6M29.8 50.9v3.6M37 50.9v3.6M-4.13 54.5H40.11M-2.6 54.5v3.6M4.6 54.5v3.6M11.8 54.5v3.6M19 54.5v3.6M26.2 54.5v3.6M33.4 54.5v3.6M-4.13 58.1H40.11M1 58.1v3.6M8.2 58.1v3.6M15.4 58.1v3.6M22.6 58.1v3.6M29.8 58.1v3.6M37 58.1v3.6M-4.13 61.7H40.11M-2.6 61.7v3.6M4.6 61.7v3.6M11.8 61.7v3.6M19 61.7v3.6M26.2 61.7v3.6M33.4 61.7v3.6M-4.13 65.3H40.11M1 65.3v3.6M8.2 65.3v3.6M15.4 65.3v3.6M22.6 65.3v3.6M29.8 65.3v3.6M37 65.3v3.6M-4.13 68.9H40.11M-2.6 68.9v3.6M4.6 68.9v3.6M11.8 68.9v3.6M19 68.9v3.6M26.2 68.9v3.6M33.4 68.9v3.6M-4.13 72.5H40.11M1 72.5v3.6M8.2 72.5v3.6M15.4 72.5v3.6M22.6 72.5v3.6M29.8 72.5v3.6M37 72.5v3.6M-4.13 76.1H40.11M-2.6 76.1v3.6M4.6 76.1v3.6M11.8 76.1v3.6M19 76.1v3.6M26.2 76.1v3.6M33.4 76.1v3.6M-4.13 79.7H40.11M1 79.7v3.6M8.2 79.7v3.6M15.4 79.7v3.6M22.6 79.7v3.6M29.8 79.7v3.6M37 79.7v3.6M-4.13 83.3H40.11M-2.6 83.3v3.6M4.6 83.3v3.6M11.8 83.3v3.6M19 83.3v3.6M26.2 83.3v3.6M33.4 83.3v3.6M-4.13 86.9H40.11M1 86.9v3.6M8.2 86.9v3.6M15.4 86.9v3.6M22.6 86.9v3.6M29.8 86.9v3.6M37 86.9v3.6M-4.13 90.5H40.11M-2.6 90.5v3.6M4.6 90.5v3.6M11.8 90.5v3.6M19 90.5v3.6M26.2 90.5v3.6M33.4 90.5v3.6M-4.13 94.1H40.11M1 94.1v3.6M8.2 94.1v3.6M15.4 94.1v3.6M22.6 94.1v3.6M29.8 94.1v3.6M37 94.1v3.6M-4.13 97.7H40.11M-2.6 97.7v3.6M4.6 97.7v3.6M11.8 97.7v3.6M19 97.7v3.6M26.2 97.7v3.6M33.4 97.7v3.6M-4.13 101.3H40.11M1 101.3v3.6M8.2 101.3v3.6M15.4 101.3v3.6M22.6 101.3v3.6M29.8 101.3v3.6M37 101.3v3.6M-4.13 104.9H40.11M-2.6 104.9v3.6M4.6 104.9v3.6M11.8 104.9v3.6M19 104.9v3.6M26.2 104.9v3.6M33.4 104.9v3.6M-4.13 108.5H40.11M1 108.5v3.6M8.2 108.5v3.6M15.4 108.5v3.6M22.6 108.5v3.6M29.8 108.5v3.6M37 108.5v3.6M-4.13 112.1H40.11M-2.6 112.1v3.6M4.6 112.1v3.6M11.8 112.1v3.6M19 112.1v3.6M26.2 112.1v3.6M33.4 112.1v3.6M-4.13 115.7H40.11M1 115.7v3.6M8.2 115.7v3.6M15.4 115.7v3.6M22.6 115.7v3.6M29.8 115.7v3.6M37 115.7v3.6M-4.13 119.3H40.11M-2.6 119.3v3.6M4.6 119.3v3.6M11.8 119.3v3.6M19 119.3v3.6M26.2 119.3v3.6M33.4 119.3v3.6M-4.13 122.9H40.11M1 122.9v3.6M8.2 122.9v3.6M15.4 122.9v3.6M22.6 122.9v3.6M29.8 122.9v3.6M37 122.9v3.6M-4.13 126.5H40.11M-2.6 126.5v3.6M4.6 126.5v3.6M11.8 126.5v3.6M19 126.5v3.6M26.2 126.5v3.6M33.4 126.5v3.6M-4.13 130.1H40.11M1 130.1v3.6M8.2 130.1v3.6M15.4 130.1v3.6M22.6 130.1v3.6M29.8 130.1v3.6M37 130.1v3.6M-4.13 133.7H40.11M-2.6 133.7v3.6M4.6 133.7v3.6M11.8 133.7v3.6M19 133.7v3.6M26.2 133.7v3.6M33.4 133.7v3.6M-4.13 137.3H40.11M1 137.3v3.6M8.2 137.3v3.6M15.4 137.3v3.6M22.6 137.3v3.6M29.8 137.3v3.6M37 137.3v3.6M-4.13 140.9H40.11M-2.6 140.9v3.6M4.6 140.9v3.6M11.8 140.9v3.6M19 140.9v3.6M26.2 140.9v3.6M33.4 140.9v3.6M-4.13 144.5H40.11M1 144.5v3.6M8.2 144.5v3.6M15.4 144.5v3.6M22.6 144.5v3.6M29.8 144.5v3.6M37 144.5v3.6M-4.13 148.1H40.11M-2.6 148.1v3.6M4.6 148.1v3.6M11.8 148.1v3.6M19 148.1v3.6M26.2 148.1v3.6M33.4 148.1v3.6M-4.13 151.7H40.11M1 151.7v3.6M8.2 151.7v3.6M15.4 151.7v3.6M22.6 151.7v3.6M29.8 151.7v3.6M37 151.7v3.6M-4.13 155.3H40.11M-2.6 155.3v3.6M4.6 155.3v3.6M11.8 155.3v3.6M19 155.3v3.6M26.2 155.3v3.6M33.4 155.3v3.6" fill="none" stroke="#fff" stroke-width="1.0"/></g>
<path d="M463.08 125.00 H474.92 M469.00 125.00 V137.70 M463.08 137.70 H474.92" stroke="#000" stroke-width="1.32" fill="none"/>
<path d="M530.08 214.80 H541.92 M536.00 214.80 V227.00 M530.08 227.00 H541.92" stroke="#000" stroke-width="1.32" fill="none"/>
<path d="M597.08 148.90 H608.92 M603.00 148.90 V158.90 M597.08 158.90 H608.92" stroke="#000" stroke-width="1.32" fill="none"/>
<path d="M664.08 121.10 H675.92 M670.00 121.10 V138.30 M664.08 138.30 H675.92" stroke="#000" stroke-width="1.32" fill="none"/>
<path d="M435.50 98.20 V271.70 H704.40" stroke="#000" stroke-width="2.0" fill="none" stroke-linejoin="miter"/>
<path d="M429.92 271.70 H435.50" stroke="#000" stroke-width="1.70"/>
<text x="428.67" y="276.16" font-size="12.40" font-weight="bold" text-anchor="end" stroke="#111" stroke-width="0.55" textLength="6.90" lengthAdjust="spacingAndGlyphs">0</text>
<path d="M429.92 237.20 H435.50" stroke="#000" stroke-width="1.70"/>
<text x="428.67" y="241.66" font-size="12.40" font-weight="bold" text-anchor="end" stroke="#111" stroke-width="0.55" textLength="13.80" lengthAdjust="spacingAndGlyphs">10</text>
<path d="M429.92 202.70 H435.50" stroke="#000" stroke-width="1.70"/>
<text x="428.67" y="207.16" font-size="12.40" font-weight="bold" text-anchor="end" stroke="#111" stroke-width="0.55" textLength="13.80" lengthAdjust="spacingAndGlyphs">20</text>
<path d="M429.92 168.20 H435.50" stroke="#000" stroke-width="1.70"/>
<text x="428.67" y="172.66" font-size="12.40" font-weight="bold" text-anchor="end" stroke="#111" stroke-width="0.55" textLength="13.80" lengthAdjust="spacingAndGlyphs">30</text>
<path d="M429.92 133.70 H435.50" stroke="#000" stroke-width="1.70"/>
<text x="428.67" y="138.16" font-size="12.40" font-weight="bold" text-anchor="end" stroke="#111" stroke-width="0.55" textLength="13.80" lengthAdjust="spacingAndGlyphs">40</text>
<path d="M429.92 99.20 H435.50" stroke="#000" stroke-width="1.70"/>
<text x="428.67" y="103.66" font-size="12.40" font-weight="bold" text-anchor="end" stroke="#111" stroke-width="0.55" textLength="13.80" lengthAdjust="spacingAndGlyphs">50</text>
<text x="535.80" y="205.16" font-size="17.20" font-weight="normal" text-anchor="middle" stroke="#111" stroke-width="0.3" textLength="19.04" lengthAdjust="spacingAndGlyphs">##</text>
<text x="603.00" y="137.95" font-size="15.00" font-weight="normal" text-anchor="middle" stroke="#111" stroke-width="0.3" textLength="11.60" lengthAdjust="spacingAndGlyphs">**</text>
<text x="670.30" y="113.15" font-size="15.00" font-weight="normal" text-anchor="middle" stroke="#111" stroke-width="0.3" textLength="11.60" lengthAdjust="spacingAndGlyphs">**</text>
<rect x="465.20" y="5.90" width="21.36" height="11.60" fill="#000" rx="1.3"/>
<g transform="translate(467.85,8.40)"><rect x="0.00" y="0.00" width="16.07" height="6.60" fill="url(#p1b)"/></g>
<text x="495.90" y="16.99" font-size="14.70" font-weight="normal" text-anchor="start" stroke="#111" stroke-width="0.3" textLength="45.86" lengthAdjust="spacingAndGlyphs">Control</text>
<rect x="465.20" y="25.80" width="21.36" height="11.60" fill="#000" rx="1.3"/>
<g transform="translate(474.09,29.88)"><rect x="-6.24" y="-1.58" width="16.07" height="6.60" fill="url(#p2b)"/></g>
<text x="495.90" y="36.89" font-size="14.70" font-weight="normal" text-anchor="start" stroke="#111" stroke-width="0.3" textLength="79.09" lengthAdjust="spacingAndGlyphs">Nonylphenol</text>
<rect x="465.20" y="45.70" width="21.36" height="11.60" fill="#000" rx="1.3"/>
<g transform="translate(468.13,48.60)"><rect x="-0.29" y="-0.40" width="16.07" height="6.60" fill="url(#p3b)"/></g>
<text x="495.90" y="56.79" font-size="14.70" font-weight="normal" text-anchor="start" stroke="#111" stroke-width="0.3" textLength="138.83" lengthAdjust="spacingAndGlyphs">Nonylphenol+Aucubin</text>
<rect x="465.20" y="65.80" width="21.36" height="11.60" fill="#000" rx="1.3"/>
<g transform="translate(470.35,67.90)"><rect x="-2.50" y="-0.05" width="16.07" height="7.50" fill="url(#p4b)"/></g>
<text x="495.90" y="76.89" font-size="14.70" font-weight="normal" text-anchor="start" stroke="#111" stroke-width="0.3" textLength="51.41" lengthAdjust="spacingAndGlyphs">Aucubin</text>
<text x="419.40" y="43.64" font-size="18.00" font-weight="normal" text-anchor="middle" stroke="#111" stroke-width="0.3" textLength="22.40" lengthAdjust="spacingAndGlyphs">(b)</text>
<text transform="translate(404.90,186.00) rotate(-90) scale(1,1.000)" x="0" y="0" font-size="14.15" font-weight="bold" text-anchor="middle" stroke="#111" stroke-width="0.2">Tunica propria <tspan font-weight="normal" stroke-width="0.1">(μ</tspan>m<tspan font-weight="normal" stroke-width="0.1">)</tspan></text>
</g>
<g id="panel-c">
<pattern id="p1c" width="3.6" height="3.6" patternUnits="userSpaceOnUse" patternTransform="scale(1.0984,1.0804)"><rect width="3.6" height="3.6" fill="#fff"/><rect x="0" y="0" width="1.8" height="1.8" fill="#000"/><rect x="1.8" y="1.8" width="1.8" height="1.8" fill="#000"/></pattern>
<pattern id="p2c" width="7.2" height="7.2" patternUnits="userSpaceOnUse" patternTransform="scale(1.0984,1.0804)"><rect width="7.2" height="7.2" fill="#fff"/><rect x="0" y="0" width="3.6" height="3.6" fill="#000"/><rect x="3.6" y="3.6" width="3.6" height="3.6" fill="#000"/></pattern>
<pattern id="p3c" width="7.2" height="3.6" patternUnits="userSpaceOnUse" patternTransform="scale(1.0984,1.0804)"><rect width="7.2" height="3.6" fill="#fff"/><rect x="-0.05" y="-0.05" width="1.00" height="1.00" fill="#111"/><rect x="1.75" y="-0.05" width="1.00" height="1.00" fill="#111"/><rect x="0.85" y="0.85" width="1.00" height="1.00" fill="#111"/><rect x="3.55" y="1.75" width="1.00" height="1.00" fill="#111"/><rect x="5.35" y="1.75" width="1.00" height="1.00" fill="#111"/><rect x="4.45" y="2.65" width="1.00" height="1.00" fill="#111"/></pattern>
<pattern id="p4c" width="7.2" height="7.2" patternUnits="userSpaceOnUse" patternTransform="scale(1.0984,1.0804)"><rect width="7.2" height="7.2" fill="#000"/><path d="M0 0.5 H7.2 M0 4.1 H7.2 M1 0.5 V4.1 M4.6 4.1 V7.7" fill="none" stroke="#fff" stroke-width="1.0"/></pattern>
<rect x="66.00" y="476.60" width="50.40" height="152.90" fill="#000" rx="0.8"/>
<g transform="translate(68.66,479.43)"><rect x="0.00" y="0.00" width="45.09" height="150.07" fill="url(#p1c)"/></g>
<rect x="138.50" y="564.30" width="50.40" height="65.20" fill="#000" rx="0.8"/>
<g transform="translate(144.05,573.00)"><rect x="-2.89" y="-5.87" width="45.09" height="62.37" fill="url(#p2c)"/></g>
<rect x="211.00" y="501.30" width="50.40" height="128.20" fill="#000" rx="0.8"/>
<clipPath id="c5"><rect x="213.66" y="504.13" width="45.08" height="125.37"/></clipPath><g clip-path="url(#c5)"><rect x="213.66" y="504.13" width="45.08" height="125.37" fill="#fff"/><path transform="translate(213.66,504.13) scale(1.0984,1.0804)" d="M4.45 -0.95h1v1h-1zM11.65 -0.95h1v1h-1zM18.85 -0.95h1v1h-1zM26.05 -0.95h1v1h-1zM33.25 -0.95h1v1h-1zM40.45 -0.95h1v1h-1zM-0.05 -0.05h1v1h-1zM1.75 -0.05h1v1h-1zM0.85 0.85h1v1h-1zM3.55 1.75h1v1h-1zM5.35 1.75h1v1h-1zM4.45 2.65h1v1h-1zM7.15 -0.05h1v1h-1zM8.95 -0.05h1v1h-1zM8.05 0.85h1v1h-1zM10.75 1.75h1v1h-1zM12.55 1.75h1v1h-1zM11.65 2.65h1v1h-1zM14.35 -0.05h1v1h-1zM16.15 -0.05h1v1h-1zM15.25 0.85h1v1h-1zM17.95 1.75h1v1h-1zM19.75 1.75h1v1h-1zM18.85 2.65h1v1h-1zM21.55 -0.05h1v1h-1zM23.35 -0.05h1v1h-1zM22.45 0.85h1v1h-1zM25.15 1.75h1v1h-1zM26.95 1.75h1v1h-1zM26.05 2.65h1v1h-1zM28.75 -0.05h1v1h-1zM30.55 -0.05h1v1h-1zM29.65 0.85h1v1h-1zM32.35 1.75h1v1h-1zM34.15 1.75h1v1h-1zM33.25 2.65h1v1h-1zM35.95 -0.05h1v1h-1zM37.75 -0.05h1v1h-1zM36.85 0.85h1v1h-1zM39.55 1.75h1v1h-1zM41.35 1.75h1v1h-1zM40.45 2.65h1v1h-1zM-0.05 3.55h1v1h-1zM1.75 3.55h1v1h-1zM0.85 4.45h1v1h-1zM3.55 5.35h1v1h-1zM5.35 5.35h1v1h-1zM4.45 6.25h1v1h-1zM7.15 3.55h1v1h-1zM8.95 3.55h1v1h-1zM8.05 4.45h1v1h-1zM10.75 5.35h1v1h-1zM12.55 5.35h1v1h-1zM11.65 6.25h1v1h-1zM14.35 3.55h1v1h-1zM16.15 3.55h1v1h-1zM15.25 4.45h1v1h-1zM17.95 5.35h1v1h-1zM19.75 5.35h1v1h-1zM18.85 6.25h1v1h-1zM21.55 3.55h1v1h-1zM23.35 3.55h1v1h-1zM22.45 4.45h1v1h-1zM25.15 5.35h1v1h-1zM26.95 5.35h1v1h-1zM26.05 6.25h1v1h-1zM28.75 3.55h1v1h-1zM30.55 3.55h1v1h-1zM29.65 4.45h1v1h-1zM32.35 5.35h1v1h-1zM34.15 5.35h1v1h-1zM33.25 6.25h1v1h-1zM35.95 3.55h1v1h-1zM37.75 3.55h1v1h-1zM36.85 4.45h1v1h-1zM39.55 5.35h1v1h-1zM41.35 5.35h1v1h-1zM40.45 6.25h1v1h-1zM-0.05 7.15h1v1h-1zM1.75 7.15h1v1h-1zM0.85 8.05h1v1h-1zM3.55 8.95h1v1h-1zM5.35 8.95h1v1h-1zM4.45 9.85h1v1h-1zM7.15 7.15h1v1h-1zM8.95 7.15h1v1h-1zM8.05 8.05h1v1h-1zM10.75 8.95h1v1h-1zM12.55 8.95h1v1h-1zM11.65 9.85h1v1h-1zM14.35 7.15h1v1h-1zM16.15 7.15h1v1h-1zM15.25 8.05h1v1h-1zM17.95 8.95h1v1h-1zM19.75 8.95h1v1h-1zM18.85 9.85h1v1h-1zM21.55 7.15h1v1h-1zM23.35 7.15h1v1h-1zM22.45 8.05h1v1h-1zM25.15 8.95h1v1h-1zM26.95 8.95h1v1h-1zM26.05 9.85h1v1h-1zM28.75 7.15h1v1h-1zM30.55 7.15h1v1h-1zM29.65 8.05h1v1h-1zM32.35 8.95h1v1h-1zM34.15 8.95h1v1h-1zM33.25 9.85h1v1h-1zM35.95 7.15h1v1h-1zM37.75 7.15h1v1h-1zM36.85 8.05h1v1h-1zM39.55 8.95h1v1h-1zM41.35 8.95h1v1h-1zM40.45 9.85h1v1h-1zM-0.05 10.75h1v1h-1zM1.75 10.75h1v1h-1zM0.85 11.65h1v1h-1zM3.55 12.55h1v1h-1zM5.35 12.55h1v1h-1zM4.45 13.45h1v1h-1zM7.15 10.75h1v1h-1zM8.95 10.75h1v1h-1zM8.05 11.65h1v1h-1zM10.75 12.55h1v1h-1zM12.55 12.55h1v1h-1zM11.65 13.45h1v1h-1zM14.35 10.75h1v1h-1zM16.15 10.75h1v1h-1zM15.25 11.65h1v1h-1zM17.95 12.55h1v1h-1zM19.75 12.55h1v1h-1zM18.85 13.45h1v1h-1zM21.55 10.75h1v1h-1zM23.35 10.75h1v1h-1zM22.45 11.65h1v1h-1zM25.15 12.55h1v1h-1zM26.95 12.55h1v1h-1zM26.05 13.45h1v1h-1zM28.75 10.75h1v1h-1zM30.55 10.75h1v1h-1zM29.65 11.65h1v1h-1zM32.35 12.55h1v1h-1zM34.15 12.55h1v1h-1zM33.25 13.45h1v1h-1zM35.95 10.75h1v1h-1zM37.75 10.75h1v1h-1zM36.85 11.65h1v1h-1zM39.55 12.55h1v1h-1zM41.35 12.55h1v1h-1zM40.45 13.45h1v1h-1zM-0.05 14.35h1v1h-1zM1.75 14.35h1v1h-1zM0.85 15.25h1v1h-1zM3.55 16.15h1v1h-1zM5.35 16.15h1v1h-1zM4.45 17.05h1v1h-1zM7.15 14.35h1v1h-1zM8.95 14.35h1v1h-1zM8.05 15.25h1v1h-1zM10.75 16.15h1v1h-1zM12.55 16.15h1v1h-1zM11.65 17.05h1v1h-1zM14.35 14.35h1v1h-1zM16.15 14.35h1v1h-1zM15.25 15.25h1v1h-1zM17.95 16.15h1v1h-1zM19.75 16.15h1v1h-1zM18.85 17.05h1v1h-1zM21.55 14.35h1v1h-1zM23.35 14.35h1v1h-1zM22.45 15.25h1v1h-1zM25.15 16.15h1v1h-1zM26.95 16.15h1v1h-1zM26.05 17.05h1v1h-1zM28.75 14.35h1v1h-1zM30.55 14.35h1v1h-1zM29.65 15.25h1v1h-1zM32.35 16.15h1v1h-1zM34.15 16.15h1v1h-1zM33.25 17.05h1v1h-1zM35.95 14.35h1v1h-1zM37.75 14.35h1v1h-1zM36.85 15.25h1v1h-1zM39.55 16.15h1v1h-1zM41.35 16.15h1v1h-1zM40.45 17.05h1v1h-1zM-0.05 17.95h1v1h-1zM1.75 17.95h1v1h-1zM0.85 18.85h1v1h-1zM3.55 19.75h1v1h-1zM5.35 19.75h1v1h-1zM4.45 20.65h1v1h-1zM7.15 17.95h1v1h-1zM8.95 17.95h1v1h-1zM8.05 18.85h1v1h-1zM10.75 19.75h1v1h-1zM12.55 19.75h1v1h-1zM11.65 20.65h1v1h-1zM14.35 17.95h1v1h-1zM16.15 17.95h1v1h-1zM15.25 18.85h1v1h-1zM17.95 19.75h1v1h-1zM19.75 19.75h1v1h-1zM18.85 20.65h1v1h-1zM21.55 17.95h1v1h-1zM23.35 17.95h1v1h-1zM22.45 18.85h1v1h-1zM25.15 19.75h1v1h-1zM26.95 19.75h1v1h-1zM26.05 20.65h1v1h-1zM28.75 17.95h1v1h-1zM30.55 17.95h1v1h-1zM29.65 18.85h1v1h-1zM32.35 19.75h1v1h-1zM34.15 19.75h1v1h-1zM33.25 20.65h1v1h-1zM35.95 17.95h1v1h-1zM37.75 17.95h1v1h-1zM36.85 18.85h1v1h-1zM39.55 19.75h1v1h-1zM41.35 19.75h1v1h-1zM40.45 20.65h1v1h-1zM-0.05 21.55h1v1h-1zM1.75 21.55h1v1h-1zM0.85 22.45h1v1h-1zM3.55 23.35h1v1h-1zM5.35 23.35h1v1h-1zM4.45 24.25h1v1h-1zM7.15 21.55h1v1h-1zM8.95 21.55h1v1h-1zM8.05 22.45h1v1h-1zM10.75 23.35h1v1h-1zM12.55 23.35h1v1h-1zM11.65 24.25h1v1h-1zM14.35 21.55h1v1h-1zM16.15 21.55h1v1h-1zM15.25 22.45h1v1h-1zM17.95 23.35h1v1h-1zM19.75 23.35h1v1h-1zM18.85 24.25h1v1h-1zM21.55 21.55h1v1h-1zM23.35 21.55h1v1h-1zM22.45 22.45h1v1h-1zM25.15 23.35h1v1h-1zM26.95 23.35h1v1h-1zM26.05 24.25h1v1h-1zM28.75 21.55h1v1h-1zM30.55 21.55h1v1h-1zM29.65 22.45h1v1h-1zM32.35 23.35h1v1h-1zM34.15 23.35h1v1h-1zM33.25 24.25h1v1h-1zM35.95 21.55h1v1h-1zM37.75 21.55h1v1h-1zM36.85 22.45h1v1h-1zM39.55 23.35h1v1h-1zM41.35 23.35h1v1h-1zM40.45 24.25h1v1h-1zM-0.05 25.15h1v1h-1zM1.75 25.15h1v1h-1zM0.85 26.05h1v1h-1zM3.55 26.95h1v1h-1zM5.35 26.95h1v1h-1zM4.45 27.85h1v1h-1zM7.15 25.15h1v1h-1zM8.95 25.15h1v1h-1zM8.05 26.05h1v1h-1zM10.75 26.95h1v1h-1zM12.55 26.95h1v1h-1zM11.65 27.85h1v1h-1zM14.35 25.15h1v1h-1zM16.15 25.15h1v1h-1zM15.25 26.05h1v1h-1zM17.95 26.95h1v1h-1zM19.75 26.95h1v1h-1zM18.85 27.85h1v1h-1zM21.55 25.15h1v1h-1zM23.35 25.15h1v1h-1zM22.45 26.05h1v1h-1zM25.15 26.95h1v1h-1zM26.95 26.95h1v1h-1zM26.05 27.85h1v1h-1zM28.75 25.15h1v1h-1zM30.55 25.15h1v1h-1zM29.65 26.05h1v1h-1zM32.35 26.95h1v1h-1zM34.15 26.95h1v1h-1zM33.25 27.85h1v1h-1zM35.95 25.15h1v1h-1zM37.75 25.15h1v1h-1zM36.85 26.05h1v1h-1zM39.55 26.95h1v1h-1zM41.35 26.95h1v1h-1zM40.45 27.85h1v1h-1zM-0.05 28.75h1v1h-1zM1.75 28.75h1v1h-1zM0.85 29.65h1v1h-1zM3.55 30.55h1v1h-1zM5.35 30.55h1v1h-1zM4.45 31.45h1v1h-1zM7.15 28.75h1v1h-1zM8.95 28.75h1v1h-1zM8.05 29.65h1v1h-1zM10.75 30.55h1v1h-1zM12.55 30.55h1v1h-1zM11.65 31.45h1v1h-1zM14.35 28.75h1v1h-1zM16.15 28.75h1v1h-1zM15.25 29.65h1v1h-1zM17.95 30.55h1v1h-1zM19.75 30.55h1v1h-1zM18.85 31.45h1v1h-1zM21.55 28.75h1v1h-1zM23.35 28.75h1v1h-1zM22.45 29.65h1v1h-1zM25.15 30.55h1v1h-1zM26.95 30.55h1v1h-1zM26.05 31.45h1v1h-1zM28.75 28.75h1v1h-1zM30.55 28.75h1v1h-1zM29.65 29.65h1v1h-1zM32.35 30.55h1v1h-1zM34.15 30.55h1v1h-1zM33.25 31.45h1v1h-1zM35.95 28.75h1v1h-1zM37.75 28.75h1v1h-1zM36.85 29.65h1v1h-1zM39.55 30.55h1v1h-1zM41.35 30.55h1v1h-1zM40.45 31.45h1v1h-1zM-0.05 32.35h1v1h-1zM1.75 32.35h1v1h-1zM0.85 33.25h1v1h-1zM3.55 34.15h1v1h-1zM5.35 34.15h1v1h-1zM4.45 35.05h1v1h-1zM7.15 32.35h1v1h-1zM8.95 32.35h1v1h-1zM8.05 33.25h1v1h-1zM10.75 34.15h1v1h-1zM12.55 34.15h1v1h-1zM11.65 35.05h1v1h-1zM14.35 32.35h1v1h-1zM16.15 32.35h1v1h-1zM15.25 33.25h1v1h-1zM17.95 34.15h1v1h-1zM19.75 34.15h1v1h-1zM18.85 35.05h1v1h-1zM21.55 32.35h1v1h-1zM23.35 32.35h1v1h-1zM22.45 33.25h1v1h-1zM25.15 34.15h1v1h-1zM26.95 34.15h1v1h-1zM26.05 35.05h1v1h-1zM28.75 32.35h1v1h-1zM30.55 32.35h1v1h-1zM29.65 33.25h1v1h-1zM32.35 34.15h1v1h-1zM34.15 34.15h1v1h-1zM33.25 35.05h1v1h-1zM35.95 32.35h1v1h-1zM37.75 32.35h1v1h-1zM36.85 33.25h1v1h-1zM39.55 34.15h1v1h-1zM41.35 34.15h1v1h-1zM40.45 35.05h1v1h-1zM-0.05 35.95h1v1h-1zM1.75 35.95h1v1h-1zM0.85 36.85h1v1h-1zM3.55 37.75h1v1h-1zM5.35 37.75h1v1h-1zM4.45 38.65h1v1h-1zM7.15 35.95h1v1h-1zM8.95 35.95h1v1h-1zM8.05 36.85h1v1h-1zM10.75 37.75h1v1h-1zM12.55 37.75h1v1h-1zM11.65 38.65h1v1h-1zM14.35 35.95h1v1h-1zM16.15 35.95h1v1h-1zM15.25 36.85h1v1h-1zM17.95 37.75h1v1h-1zM19.75 37.75h1v1h-1zM18.85 38.65h1v1h-1zM21.55 35.95h1v1h-1zM23.35 35.95h1v1h-1zM22.45 36.85h1v1h-1zM25.15 37.75h1v1h-1zM26.95 37.75h1v1h-1zM26.05 38.65h1v1h-1zM28.75 35.95h1v1h-1zM30.55 35.95h1v1h-1zM29.65 36.85h1v1h-1zM32.35 37.75h1v1h-1zM34.15 37.75h1v1h-1zM33.25 38.65h1v1h-1zM35.95 35.95h1v1h-1zM37.75 35.95h1v1h-1zM36.85 36.85h1v1h-1zM39.55 37.75h1v1h-1zM41.35 37.75h1v1h-1zM40.45 38.65h1v1h-1zM-0.05 39.55h1v1h-1zM1.75 39.55h1v1h-1zM0.85 40.45h1v1h-1zM3.55 41.35h1v1h-1zM5.35 41.35h1v1h-1zM4.45 42.25h1v1h-1zM7.15 39.55h1v1h-1zM8.95 39.55h1v1h-1zM8.05 40.45h1v1h-1zM10.75 41.35h1v1h-1zM12.55 41.35h1v1h-1zM11.65 42.25h1v1h-1zM14.35 39.55h1v1h-1zM16.15 39.55h1v1h-1zM15.25 40.45h1v1h-1zM17.95 41.35h1v1h-1zM19.75 41.35h1v1h-1zM18.85 42.25h1v1h-1zM21.55 39.55h1v1h-1zM23.35 39.55h1v1h-1zM22.45 40.45h1v1h-1zM25.15 41.35h1v1h-1zM26.95 41.35h1v1h-1zM26.05 42.25h1v1h-1zM28.75 39.55h1v1h-1zM30.55 39.55h1v1h-1zM29.65 40.45h1v1h-1zM32.35 41.35h1v1h-1zM34.15 41.35h1v1h-1zM33.25 42.25h1v1h-1zM35.95 39.55h1v1h-1zM37.75 39.55h1v1h-1zM36.85 40.45h1v1h-1zM39.55 41.35h1v1h-1zM41.35 41.35h1v1h-1zM40.45 42.25h1v1h-1zM-0.05 43.15h1v1h-1zM1.75 43.15h1v1h-1zM0.85 44.05h1v1h-1zM3.55 44.95h1v1h-1zM5.35 44.95h1v1h-1zM4.45 45.85h1v1h-1zM7.15 43.15h1v1h-1zM8.95 43.15h1v1h-1zM8.05 44.05h1v1h-1zM10.75 44.95h1v1h-1zM12.55 44.95h1v1h-1zM11.65 45.85h1v1h-1zM14.35 43.15h1v1h-1zM16.15 43.15h1v1h-1zM15.25 44.05h1v1h-1zM17.95 44.95h1v1h-1zM19.75 44.95h1v1h-1zM18.85 45.85h1v1h-1zM21.55 43.15h1v1h-1zM23.35 43.15h1v1h-1zM22.45 44.05h1v1h-1zM25.15 44.95h1v1h-1zM26.95 44.95h1v1h-1zM26.05 45.85h1v1h-1zM28.75 43.15h1v1h-1zM30.55 43.15h1v1h-1zM29.65 44.05h1v1h-1zM32.35 44.95h1v1h-1zM34.15 44.95h1v1h-1zM33.25 45.85h1v1h-1zM35.95 43.15h1v1h-1zM37.75 43.15h1v1h-1zM36.85 44.05h1v1h-1zM39.55 44.95h1v1h-1zM41.35 44.95h1v1h-1zM40.45 45.85h1v1h-1zM-0.05 46.75h1v1h-1zM1.75 46.75h1v1h-1zM0.85 47.65h1v1h-1zM3.55 48.55h1v1h-1zM5.35 48.55h1v1h-1zM4.45 49.45h1v1h-1zM7.15 46.75h1v1h-1zM8.95 46.75h1v1h-1zM8.05 47.65h1v1h-1zM10.75 48.55h1v1h-1zM12.55 48.55h1v1h-1zM11.65 49.45h1v1h-1zM14.35 46.75h1v1h-1zM16.15 46.75h1v1h-1zM15.25 47.65h1v1h-1zM17.95 48.55h1v1h-1zM19.75 48.55h1v1h-1zM18.85 49.45h1v1h-1zM21.55 46.75h1v1h-1zM23.35 46.75h1v1h-1zM22.45 47.65h1v1h-1zM25.15 48.55h1v1h-1zM26.95 48.55h1v1h-1zM26.05 49.45h1v1h-1zM28.75 46.75h1v1h-1zM30.55 46.75h1v1h-1zM29.65 47.65h1v1h-1zM32.35 48.55h1v1h-1zM34.15 48.55h1v1h-1zM33.25 49.45h1v1h-1zM35.95 46.75h1v1h-1zM37.75 46.75h1v1h-1zM36.85 47.65h1v1h-1zM39.55 48.55h1v1h-1zM41.35 48.55h1v1h-1zM40.45 49.45h1v1h-1zM-0.05 50.35h1v1h-1zM1.75 50.35h1v1h-1zM0.85 51.25h1v1h-1zM3.55 52.15h1v1h-1zM5.35 52.15h1v1h-1zM4.45 53.05h1v1h-1zM7.15 50.35h1v1h-1zM8.95 50.35h1v1h-1zM8.05 51.25h1v1h-1zM10.75 52.15h1v1h-1zM12.55 52.15h1v1h-1zM11.65 53.05h1v1h-1zM14.35 50.35h1v1h-1zM16.15 50.35h1v1h-1zM15.25 51.25h1v1h-1zM17.95 52.15h1v1h-1zM19.75 52.15h1v1h-1zM18.85 53.05h1v1h-1zM21.55 50.35h1v1h-1zM23.35 50.35h1v1h-1zM22.45 51.25h1v1h-1zM25.15 52.15h1v1h-1zM26.95 52.15h1v1h-1zM26.05 53.05h1v1h-1zM28.75 50.35h1v1h-1zM30.55 50.35h1v1h-1zM29.65 51.25h1v1h-1zM32.35 52.15h1v1h-1zM34.15 52.15h1v1h-1zM33.25 53.05h1v1h-1zM35.95 50.35h1v1h-1zM37.75 50.35h1v1h-1zM36.85 51.25h1v1h-1zM39.55 52.15h1v1h-1zM41.35 52.15h1v1h-1zM40.45 53.05h1v1h-1zM-0.05 53.95h1v1h-1zM1.75 53.95h1v1h-1zM0.85 54.85h1v1h-1zM3.55 55.75h1v1h-1zM5.35 55.75h1v1h-1zM4.45 56.65h1v1h-1zM7.15 53.95h1v1h-1zM8.95 53.95h1v1h-1zM8.05 54.85h1v1h-1zM10.75 55.75h1v1h-1zM12.55 55.75h1v1h-1zM11.65 56.65h1v1h-1zM14.35 53.95h1v1h-1zM16.15 53.95h1v1h-1zM15.25 54.85h1v1h-1zM17.95 55.75h1v1h-1zM19.75 55.75h1v1h-1zM18.85 56.65h1v1h-1zM21.55 53.95h1v1h-1zM23.35 53.95h1v1h-1zM22.45 54.85h1v1h-1zM25.15 55.75h1v1h-1zM26.95 55.75h1v1h-1zM26.05 56.65h1v1h-1zM28.75 53.95h1v1h-1zM30.55 53.95h1v1h-1zM29.65 54.85h1v1h-1zM32.35 55.75h1v1h-1zM34.15 55.75h1v1h-1zM33.25 56.65h1v1h-1zM35.95 53.95h1v1h-1zM37.75 53.95h1v1h-1zM36.85 54.85h1v1h-1zM39.55 55.75h1v1h-1zM41.35 55.75h1v1h-1zM40.45 56.65h1v1h-1zM-0.05 57.55h1v1h-1zM1.75 57.55h1v1h-1zM0.85 58.45h1v1h-1zM3.55 59.35h1v1h-1zM5.35 59.35h1v1h-1zM4.45 60.25h1v1h-1zM7.15 57.55h1v1h-1zM8.95 57.55h1v1h-1zM8.05 58.45h1v1h-1zM10.75 59.35h1v1h-1zM12.55 59.35h1v1h-1zM11.65 60.25h1v1h-1zM14.35 57.55h1v1h-1zM16.15 57.55h1v1h-1zM15.25 58.45h1v1h-1zM17.95 59.35h1v1h-1zM19.75 59.35h1v1h-1zM18.85 60.25h1v1h-1zM21.55 57.55h1v1h-1zM23.35 57.55h1v1h-1zM22.45 58.45h1v1h-1zM25.15 59.35h1v1h-1zM26.95 59.35h1v1h-1zM26.05 60.25h1v1h-1zM28.75 57.55h1v1h-1zM30.55 57.55h1v1h-1zM29.65 58.45h1v1h-1zM32.35 59.35h1v1h-1zM34.15 59.35h1v1h-1zM33.25 60.25h1v1h-1zM35.95 57.55h1v1h-1zM37.75 57.55h1v1h-1zM36.85 58.45h1v1h-1zM39.55 59.35h1v1h-1zM41.35 59.35h1v1h-1zM40.45 60.25h1v1h-1zM-0.05 61.15h1v1h-1zM1.75 61.15h1v1h-1zM0.85 62.05h1v1h-1zM3.55 62.95h1v1h-1zM5.35 62.95h1v1h-1zM4.45 63.85h1v1h-1zM7.15 61.15h1v1h-1zM8.95 61.15h1v1h-1zM8.05 62.05h1v1h-1zM10.75 62.95h1v1h-1zM12.55 62.95h1v1h-1zM11.65 63.85h1v1h-1zM14.35 61.15h1v1h-1zM16.15 61.15h1v1h-1zM15.25 62.05h1v1h-1zM17.95 62.95h1v1h-1zM19.75 62.95h1v1h-1zM18.85 63.85h1v1h-1zM21.55 61.15h1v1h-1zM23.35 61.15h1v1h-1zM22.45 62.05h1v1h-1zM25.15 62.95h1v1h-1zM26.95 62.95h1v1h-1zM26.05 63.85h1v1h-1zM28.75 61.15h1v1h-1zM30.55 61.15h1v1h-1zM29.65 62.05h1v1h-1zM32.35 62.95h1v1h-1zM34.15 62.95h1v1h-1zM33.25 63.85h1v1h-1zM35.95 61.15h1v1h-1zM37.75 61.15h1v1h-1zM36.85 62.05h1v1h-1zM39.55 62.95h1v1h-1zM41.35 62.95h1v1h-1zM40.45 63.85h1v1h-1zM-0.05 64.75h1v1h-1zM1.75 64.75h1v1h-1zM0.85 65.65h1v1h-1zM3.55 66.55h1v1h-1zM5.35 66.55h1v1h-1zM4.45 67.45h1v1h-1zM7.15 64.75h1v1h-1zM8.95 64.75h1v1h-1zM8.05 65.65h1v1h-1zM10.75 66.55h1v1h-1zM12.55 66.55h1v1h-1zM11.65 67.45h1v1h-1zM14.35 64.75h1v1h-1zM16.15 64.75h1v1h-1zM15.25 65.65h1v1h-1zM17.95 66.55h1v1h-1zM19.75 66.55h1v1h-1zM18.85 67.45h1v1h-1zM21.55 64.75h1v1h-1zM23.35 64.75h1v1h-1zM22.45 65.65h1v1h-1zM25.15 66.55h1v1h-1zM26.95 66.55h1v1h-1zM26.05 67.45h1v1h-1zM28.75 64.75h1v1h-1zM30.55 64.75h1v1h-1zM29.65 65.65h1v1h-1zM32.35 66.55h1v1h-1zM34.15 66.55h1v1h-1zM33.25 67.45h1v1h-1zM35.95 64.75h1v1h-1zM37.75 64.75h1v1h-1zM36.85 65.65h1v1h-1zM39.55 66.55h1v1h-1zM41.35 66.55h1v1h-1zM40.45 67.45h1v1h-1zM-0.05 68.35h1v1h-1zM1.75 68.35h1v1h-1zM0.85 69.25h1v1h-1zM3.55 70.15h1v1h-1zM5.35 70.15h1v1h-1zM4.45 71.05h1v1h-1zM7.15 68.35h1v1h-1zM8.95 68.35h1v1h-1zM8.05 69.25h1v1h-1zM10.75 70.15h1v1h-1zM12.55 70.15h1v1h-1zM11.65 71.05h1v1h-1zM14.35 68.35h1v1h-1zM16.15 68.35h1v1h-1zM15.25 69.25h1v1h-1zM17.95 70.15h1v1h-1zM19.75 70.15h1v1h-1zM18.85 71.05h1v1h-1zM21.55 68.35h1v1h-1zM23.35 68.35h1v1h-1zM22.45 69.25h1v1h-1zM25.15 70.15h1v1h-1zM26.95 70.15h1v1h-1zM26.05 71.05h1v1h-1zM28.75 68.35h1v1h-1zM30.55 68.35h1v1h-1zM29.65 69.25h1v1h-1zM32.35 70.15h1v1h-1zM34.15 70.15h1v1h-1zM33.25 71.05h1v1h-1zM35.95 68.35h1v1h-1zM37.75 68.35h1v1h-1zM36.85 69.25h1v1h-1zM39.55 70.15h1v1h-1zM41.35 70.15h1v1h-1zM40.45 71.05h1v1h-1zM-0.05 71.95h1v1h-1zM1.75 71.95h1v1h-1zM0.85 72.85h1v1h-1zM3.55 73.75h1v1h-1zM5.35 73.75h1v1h-1zM4.45 74.65h1v1h-1zM7.15 71.95h1v1h-1zM8.95 71.95h1v1h-1zM8.05 72.85h1v1h-1zM10.75 73.75h1v1h-1zM12.55 73.75h1v1h-1zM11.65 74.65h1v1h-1zM14.35 71.95h1v1h-1zM16.15 71.95h1v1h-1zM15.25 72.85h1v1h-1zM17.95 73.75h1v1h-1zM19.75 73.75h1v1h-1zM18.85 74.65h1v1h-1zM21.55 71.95h1v1h-1zM23.35 71.95h1v1h-1zM22.45 72.85h1v1h-1zM25.15 73.75h1v1h-1zM26.95 73.75h1v1h-1zM26.05 74.65h1v1h-1zM28.75 71.95h1v1h-1zM30.55 71.95h1v1h-1zM29.65 72.85h1v1h-1zM32.35 73.75h1v1h-1zM34.15 73.75h1v1h-1zM33.25 74.65h1v1h-1zM35.95 71.95h1v1h-1zM37.75 71.95h1v1h-1zM36.85 72.85h1v1h-1zM39.55 73.75h1v1h-1zM41.35 73.75h1v1h-1zM40.45 74.65h1v1h-1zM-0.05 75.55h1v1h-1zM1.75 75.55h1v1h-1zM0.85 76.45h1v1h-1zM3.55 77.35h1v1h-1zM5.35 77.35h1v1h-1zM4.45 78.25h1v1h-1zM7.15 75.55h1v1h-1zM8.95 75.55h1v1h-1zM8.05 76.45h1v1h-1zM10.75 77.35h1v1h-1zM12.55 77.35h1v1h-1zM11.65 78.25h1v1h-1zM14.35 75.55h1v1h-1zM16.15 75.55h1v1h-1zM15.25 76.45h1v1h-1zM17.95 77.35h1v1h-1zM19.75 77.35h1v1h-1zM18.85 78.25h1v1h-1zM21.55 75.55h1v1h-1zM23.35 75.55h1v1h-1zM22.45 76.45h1v1h-1zM25.15 77.35h1v1h-1zM26.95 77.35h1v1h-1zM26.05 78.25h1v1h-1zM28.75 75.55h1v1h-1zM30.55 75.55h1v1h-1zM29.65 76.45h1v1h-1zM32.35 77.35h1v1h-1zM34.15 77.35h1v1h-1zM33.25 78.25h1v1h-1zM35.95 75.55h1v1h-1zM37.75 75.55h1v1h-1zM36.85 76.45h1v1h-1zM39.55 77.35h1v1h-1zM41.35 77.35h1v1h-1zM40.45 78.25h1v1h-1zM-0.05 79.15h1v1h-1zM1.75 79.15h1v1h-1zM0.85 80.05h1v1h-1zM3.55 80.95h1v1h-1zM5.35 80.95h1v1h-1zM4.45 81.85h1v1h-1zM7.15 79.15h1v1h-1zM8.95 79.15h1v1h-1zM8.05 80.05h1v1h-1zM10.75 80.95h1v1h-1zM12.55 80.95h1v1h-1zM11.65 81.85h1v1h-1zM14.35 79.15h1v1h-1zM16.15 79.15h1v1h-1zM15.25 80.05h1v1h-1zM17.95 80.95h1v1h-1zM19.75 80.95h1v1h-1zM18.85 81.85h1v1h-1zM21.55 79.15h1v1h-1zM23.35 79.15h1v1h-1zM22.45 80.05h1v1h-1zM25.15 80.95h1v1h-1zM26.95 80.95h1v1h-1zM26.05 81.85h1v1h-1zM28.75 79.15h1v1h-1zM30.55 79.15h1v1h-1zM29.65 80.05h1v1h-1zM32.35 80.95h1v1h-1zM34.15 80.95h1v1h-1zM33.25 81.85h1v1h-1zM35.95 79.15h1v1h-1zM37.75 79.15h1v1h-1zM36.85 80.05h1v1h-1zM39.55 80.95h1v1h-1zM41.35 80.95h1v1h-1zM40.45 81.85h1v1h-1zM-0.05 82.75h1v1h-1zM1.75 82.75h1v1h-1zM0.85 83.65h1v1h-1zM3.55 84.55h1v1h-1zM5.35 84.55h1v1h-1zM4.45 85.45h1v1h-1zM7.15 82.75h1v1h-1zM8.95 82.75h1v1h-1zM8.05 83.65h1v1h-1zM10.75 84.55h1v1h-1zM12.55 84.55h1v1h-1zM11.65 85.45h1v1h-1zM14.35 82.75h1v1h-1zM16.15 82.75h1v1h-1zM15.25 83.65h1v1h-1zM17.95 84.55h1v1h-1zM19.75 84.55h1v1h-1zM18.85 85.45h1v1h-1zM21.55 82.75h1v1h-1zM23.35 82.75h1v1h-1zM22.45 83.65h1v1h-1zM25.15 84.55h1v1h-1zM26.95 84.55h1v1h-1zM26.05 85.45h1v1h-1zM28.75 82.75h1v1h-1zM30.55 82.75h1v1h-1zM29.65 83.65h1v1h-1zM32.35 84.55h1v1h-1zM34.15 84.55h1v1h-1zM33.25 85.45h1v1h-1zM35.95 82.75h1v1h-1zM37.75 82.75h1v1h-1zM36.85 83.65h1v1h-1zM39.55 84.55h1v1h-1zM41.35 84.55h1v1h-1zM40.45 85.45h1v1h-1zM-0.05 86.35h1v1h-1zM1.75 86.35h1v1h-1zM0.85 87.25h1v1h-1zM3.55 88.15h1v1h-1zM5.35 88.15h1v1h-1zM4.45 89.05h1v1h-1zM7.15 86.35h1v1h-1zM8.95 86.35h1v1h-1zM8.05 87.25h1v1h-1zM10.75 88.15h1v1h-1zM12.55 88.15h1v1h-1zM11.65 89.05h1v1h-1zM14.35 86.35h1v1h-1zM16.15 86.35h1v1h-1zM15.25 87.25h1v1h-1zM17.95 88.15h1v1h-1zM19.75 88.15h1v1h-1zM18.85 89.05h1v1h-1zM21.55 86.35h1v1h-1zM23.35 86.35h1v1h-1zM22.45 87.25h1v1h-1zM25.15 88.15h1v1h-1zM26.95 88.15h1v1h-1zM26.05 89.05h1v1h-1zM28.75 86.35h1v1h-1zM30.55 86.35h1v1h-1zM29.65 87.25h1v1h-1zM32.35 88.15h1v1h-1zM34.15 88.15h1v1h-1zM33.25 89.05h1v1h-1zM35.95 86.35h1v1h-1zM37.75 86.35h1v1h-1zM36.85 87.25h1v1h-1zM39.55 88.15h1v1h-1zM41.35 88.15h1v1h-1zM40.45 89.05h1v1h-1zM-0.05 89.95h1v1h-1zM1.75 89.95h1v1h-1zM0.85 90.85h1v1h-1zM3.55 91.75h1v1h-1zM5.35 91.75h1v1h-1zM4.45 92.65h1v1h-1zM7.15 89.95h1v1h-1zM8.95 89.95h1v1h-1zM8.05 90.85h1v1h-1zM10.75 91.75h1v1h-1zM12.55 91.75h1v1h-1zM11.65 92.65h1v1h-1zM14.35 89.95h1v1h-1zM16.15 89.95h1v1h-1zM15.25 90.85h1v1h-1zM17.95 91.75h1v1h-1zM19.75 91.75h1v1h-1zM18.85 92.65h1v1h-1zM21.55 89.95h1v1h-1zM23.35 89.95h1v1h-1zM22.45 90.85h1v1h-1zM25.15 91.75h1v1h-1zM26.95 91.75h1v1h-1zM26.05 92.65h1v1h-1zM28.75 89.95h1v1h-1zM30.55 89.95h1v1h-1zM29.65 90.85h1v1h-1zM32.35 91.75h1v1h-1zM34.15 91.75h1v1h-1zM33.25 92.65h1v1h-1zM35.95 89.95h1v1h-1zM37.75 89.95h1v1h-1zM36.85 90.85h1v1h-1zM39.55 91.75h1v1h-1zM41.35 91.75h1v1h-1zM40.45 92.65h1v1h-1zM-0.05 93.55h1v1h-1zM1.75 93.55h1v1h-1zM0.85 94.45h1v1h-1zM3.55 95.35h1v1h-1zM5.35 95.35h1v1h-1zM4.45 96.25h1v1h-1zM7.15 93.55h1v1h-1zM8.95 93.55h1v1h-1zM8.05 94.45h1v1h-1zM10.75 95.35h1v1h-1zM12.55 95.35h1v1h-1zM11.65 96.25h1v1h-1zM14.35 93.55h1v1h-1zM16.15 93.55h1v1h-1zM15.25 94.45h1v1h-1zM17.95 95.35h1v1h-1zM19.75 95.35h1v1h-1zM18.85 96.25h1v1h-1zM21.55 93.55h1v1h-1zM23.35 93.55h1v1h-1zM22.45 94.45h1v1h-1zM25.15 95.35h1v1h-1zM26.95 95.35h1v1h-1zM26.05 96.25h1v1h-1zM28.75 93.55h1v1h-1zM30.55 93.55h1v1h-1zM29.65 94.45h1v1h-1zM32.35 95.35h1v1h-1zM34.15 95.35h1v1h-1zM33.25 96.25h1v1h-1zM35.95 93.55h1v1h-1zM37.75 93.55h1v1h-1zM36.85 94.45h1v1h-1zM39.55 95.35h1v1h-1zM41.35 95.35h1v1h-1zM40.45 96.25h1v1h-1zM-0.05 97.15h1v1h-1zM1.75 97.15h1v1h-1zM0.85 98.05h1v1h-1zM3.55 98.95h1v1h-1zM5.35 98.95h1v1h-1zM4.45 99.85h1v1h-1zM7.15 97.15h1v1h-1zM8.95 97.15h1v1h-1zM8.05 98.05h1v1h-1zM10.75 98.95h1v1h-1zM12.55 98.95h1v1h-1zM11.65 99.85h1v1h-1zM14.35 97.15h1v1h-1zM16.15 97.15h1v1h-1zM15.25 98.05h1v1h-1zM17.95 98.95h1v1h-1zM19.75 98.95h1v1h-1zM18.85 99.85h1v1h-1zM21.55 97.15h1v1h-1zM23.35 97.15h1v1h-1zM22.45 98.05h1v1h-1zM25.15 98.95h1v1h-1zM26.95 98.95h1v1h-1zM26.05 99.85h1v1h-1zM28.75 97.15h1v1h-1zM30.55 97.15h1v1h-1zM29.65 98.05h1v1h-1zM32.35 98.95h1v1h-1zM34.15 98.95h1v1h-1zM33.25 99.85h1v1h-1zM35.95 97.15h1v1h-1zM37.75 97.15h1v1h-1zM36.85 98.05h1v1h-1zM39.55 98.95h1v1h-1zM41.35 98.95h1v1h-1zM40.45 99.85h1v1h-1zM-0.05 100.75h1v1h-1zM1.75 100.75h1v1h-1zM0.85 101.65h1v1h-1zM3.55 102.55h1v1h-1zM5.35 102.55h1v1h-1zM4.45 103.45h1v1h-1zM7.15 100.75h1v1h-1zM8.95 100.75h1v1h-1zM8.05 101.65h1v1h-1zM10.75 102.55h1v1h-1zM12.55 102.55h1v1h-1zM11.65 103.45h1v1h-1zM14.35 100.75h1v1h-1zM16.15 100.75h1v1h-1zM15.25 101.65h1v1h-1zM17.95 102.55h1v1h-1zM19.75 102.55h1v1h-1zM18.85 103.45h1v1h-1zM21.55 100.75h1v1h-1zM23.35 100.75h1v1h-1zM22.45 101.65h1v1h-1zM25.15 102.55h1v1h-1zM26.95 102.55h1v1h-1zM26.05 103.45h1v1h-1zM28.75 100.75h1v1h-1zM30.55 100.75h1v1h-1zM29.65 101.65h1v1h-1zM32.35 102.55h1v1h-1zM34.15 102.55h1v1h-1zM33.25 103.45h1v1h-1zM35.95 100.75h1v1h-1zM37.75 100.75h1v1h-1zM36.85 101.65h1v1h-1zM39.55 102.55h1v1h-1zM41.35 102.55h1v1h-1zM40.45 103.45h1v1h-1zM-0.05 104.35h1v1h-1zM1.75 104.35h1v1h-1zM0.85 105.25h1v1h-1zM3.55 106.15h1v1h-1zM5.35 106.15h1v1h-1zM4.45 107.05h1v1h-1zM7.15 104.35h1v1h-1zM8.95 104.35h1v1h-1zM8.05 105.25h1v1h-1zM10.75 106.15h1v1h-1zM12.55 106.15h1v1h-1zM11.65 107.05h1v1h-1zM14.35 104.35h1v1h-1zM16.15 104.35h1v1h-1zM15.25 105.25h1v1h-1zM17.95 106.15h1v1h-1zM19.75 106.15h1v1h-1zM18.85 107.05h1v1h-1zM21.55 104.35h1v1h-1zM23.35 104.35h1v1h-1zM22.45 105.25h1v1h-1zM25.15 106.15h1v1h-1zM26.95 106.15h1v1h-1zM26.05 107.05h1v1h-1zM28.75 104.35h1v1h-1zM30.55 104.35h1v1h-1zM29.65 105.25h1v1h-1zM32.35 106.15h1v1h-1zM34.15 106.15h1v1h-1zM33.25 107.05h1v1h-1zM35.95 104.35h1v1h-1zM37.75 104.35h1v1h-1zM36.85 105.25h1v1h-1zM39.55 106.15h1v1h-1zM41.35 106.15h1v1h-1zM40.45 107.05h1v1h-1zM-0.05 107.95h1v1h-1zM1.75 107.95h1v1h-1zM0.85 108.85h1v1h-1zM3.55 109.75h1v1h-1zM5.35 109.75h1v1h-1zM4.45 110.65h1v1h-1zM7.15 107.95h1v1h-1zM8.95 107.95h1v1h-1zM8.05 108.85h1v1h-1zM10.75 109.75h1v1h-1zM12.55 109.75h1v1h-1zM11.65 110.65h1v1h-1zM14.35 107.95h1v1h-1zM16.15 107.95h1v1h-1zM15.25 108.85h1v1h-1zM17.95 109.75h1v1h-1zM19.75 109.75h1v1h-1zM18.85 110.65h1v1h-1zM21.55 107.95h1v1h-1zM23.35 107.95h1v1h-1zM22.45 108.85h1v1h-1zM25.15 109.75h1v1h-1zM26.95 109.75h1v1h-1zM26.05 110.65h1v1h-1zM28.75 107.95h1v1h-1zM30.55 107.95h1v1h-1zM29.65 108.85h1v1h-1zM32.35 109.75h1v1h-1zM34.15 109.75h1v1h-1zM33.25 110.65h1v1h-1zM35.95 107.95h1v1h-1zM37.75 107.95h1v1h-1zM36.85 108.85h1v1h-1zM39.55 109.75h1v1h-1zM41.35 109.75h1v1h-1zM40.45 110.65h1v1h-1zM-0.05 111.55h1v1h-1zM1.75 111.55h1v1h-1zM0.85 112.45h1v1h-1zM3.55 113.35h1v1h-1zM5.35 113.35h1v1h-1zM4.45 114.25h1v1h-1zM7.15 111.55h1v1h-1zM8.95 111.55h1v1h-1zM8.05 112.45h1v1h-1zM10.75 113.35h1v1h-1zM12.55 113.35h1v1h-1zM11.65 114.25h1v1h-1zM14.35 111.55h1v1h-1zM16.15 111.55h1v1h-1zM15.25 112.45h1v1h-1zM17.95 113.35h1v1h-1zM19.75 113.35h1v1h-1zM18.85 114.25h1v1h-1zM21.55 111.55h1v1h-1zM23.35 111.55h1v1h-1zM22.45 112.45h1v1h-1zM25.15 113.35h1v1h-1zM26.95 113.35h1v1h-1zM26.05 114.25h1v1h-1zM28.75 111.55h1v1h-1zM30.55 111.55h1v1h-1zM29.65 112.45h1v1h-1zM32.35 113.35h1v1h-1zM34.15 113.35h1v1h-1zM33.25 114.25h1v1h-1zM35.95 111.55h1v1h-1zM37.75 111.55h1v1h-1zM36.85 112.45h1v1h-1zM39.55 113.35h1v1h-1zM41.35 113.35h1v1h-1zM40.45 114.25h1v1h-1zM-0.05 115.15h1v1h-1zM1.75 115.15h1v1h-1zM0.85 116.05h1v1h-1zM3.55 116.95h1v1h-1zM5.35 116.95h1v1h-1zM7.15 115.15h1v1h-1zM8.95 115.15h1v1h-1zM8.05 116.05h1v1h-1zM10.75 116.95h1v1h-1zM12.55 116.95h1v1h-1zM14.35 115.15h1v1h-1zM16.15 115.15h1v1h-1zM15.25 116.05h1v1h-1zM17.95 116.95h1v1h-1zM19.75 116.95h1v1h-1zM21.55 115.15h1v1h-1zM23.35 115.15h1v1h-1zM22.45 116.05h1v1h-1zM25.15 116.95h1v1h-1zM26.95 116.95h1v1h-1zM28.75 115.15h1v1h-1zM30.55 115.15h1v1h-1zM29.65 116.05h1v1h-1zM32.35 116.95h1v1h-1zM34.15 116.95h1v1h-1zM35.95 115.15h1v1h-1zM37.75 115.15h1v1h-1zM36.85 116.05h1v1h-1zM39.55 116.95h1v1h-1zM41.35 116.95h1v1h-1z" fill="#111"/></g>
<rect x="283.50" y="474.40" width="50.40" height="155.10" fill="#000" rx="0.8"/>
<clipPath id="c6"><rect x="286.16" y="477.23" width="45.08" height="152.27"/></clipPath><g clip-path="url(#c6)"><rect x="286.16" y="477.23" width="45.08" height="152.27" fill="#000"/><path transform="translate(289.86,476.76) scale(1.0984,1.0804)" d="M-4.37 -3.1H38.67M-2.6 -3.1v3.6M4.6 -3.1v3.6M11.8 -3.1v3.6M19 -3.1v3.6M26.2 -3.1v3.6M33.4 -3.1v3.6M-4.37 0.5H38.67M1 0.5v3.6M8.2 0.5v3.6M15.4 0.5v3.6M22.6 0.5v3.6M29.8 0.5v3.6M37 0.5v3.6M-4.37 4.1H38.67M-2.6 4.1v3.6M4.6 4.1v3.6M11.8 4.1v3.6M19 4.1v3.6M26.2 4.1v3.6M33.4 4.1v3.6M-4.37 7.7H38.67M1 7.7v3.6M8.2 7.7v3.6M15.4 7.7v3.6M22.6 7.7v3.6M29.8 7.7v3.6M37 7.7v3.6M-4.37 11.3H38.67M-2.6 11.3v3.6M4.6 11.3v3.6M11.8 11.3v3.6M19 11.3v3.6M26.2 11.3v3.6M33.4 11.3v3.6M-4.37 14.9H38.67M1 14.9v3.6M8.2 14.9v3.6M15.4 14.9v3.6M22.6 14.9v3.6M29.8 14.9v3.6M37 14.9v3.6M-4.37 18.5H38.67M-2.6 18.5v3.6M4.6 18.5v3.6M11.8 18.5v3.6M19 18.5v3.6M26.2 18.5v3.6M33.4 18.5v3.6M-4.37 22.1H38.67M1 22.1v3.6M8.2 22.1v3.6M15.4 22.1v3.6M22.6 22.1v3.6M29.8 22.1v3.6M37 22.1v3.6M-4.37 25.7H38.67M-2.6 25.7v3.6M4.6 25.7v3.6M11.8 25.7v3.6M19 25.7v3.6M26.2 25.7v3.6M33.4 25.7v3.6M-4.37 29.3H38.67M1 29.3v3.6M8.2 29.3v3.6M15.4 29.3v3.6M22.6 29.3v3.6M29.8 29.3v3.6M37 29.3v3.6M-4.37 32.9H38.67M-2.6 32.9v3.6M4.6 32.9v3.6M11.8 32.9v3.6M19 32.9v3.6M26.2 32.9v3.6M33.4 32.9v3.6M-4.37 36.5H38.67M1 36.5v3.6M8.2 36.5v3.6M15.4 36.5v3.6M22.6 36.5v3.6M29.8 36.5v3.6M37 36.5v3.6M-4.37 40.1H38.67M-2.6 40.1v3.6M4.6 40.1v3.6M11.8 40.1v3.6M19 40.1v3.6M26.2 40.1v3.6M33.4 40.1v3.6M-4.37 43.7H38.67M1 43.7v3.6M8.2 43.7v3.6M15.4 43.7v3.6M22.6 43.7v3.6M29.8 43.7v3.6M37 43.7v3.6M-4.37 47.3H38.67M-2.6 47.3v3.6M4.6 47.3v3.6M11.8 47.3v3.6M19 47.3v3.6M26.2 47.3v3.6M33.4 47.3v3.6M-4.37 50.9H38.67M1 50.9v3.6M8.2 50.9v3.6M15.4 50.9v3.6M22.6 50.9v3.6M29.8 50.9v3.6M37 50.9v3.6M-4.37 54.5H38.67M-2.6 54.5v3.6M4.6 54.5v3.6M11.8 54.5v3.6M19 54.5v3.6M26.2 54.5v3.6M33.4 54.5v3.6M-4.37 58.1H38.67M1 58.1v3.6M8.2 58.1v3.6M15.4 58.1v3.6M22.6 58.1v3.6M29.8 58.1v3.6M37 58.1v3.6M-4.37 61.7H38.67M-2.6 61.7v3.6M4.6 61.7v3.6M11.8 61.7v3.6M19 61.7v3.6M26.2 61.7v3.6M33.4 61.7v3.6M-4.37 65.3H38.67M1 65.3v3.6M8.2 65.3v3.6M15.4 65.3v3.6M22.6 65.3v3.6M29.8 65.3v3.6M37 65.3v3.6M-4.37 68.9H38.67M-2.6 68.9v3.6M4.6 68.9v3.6M11.8 68.9v3.6M19 68.9v3.6M26.2 68.9v3.6M33.4 68.9v3.6M-4.37 72.5H38.67M1 72.5v3.6M8.2 72.5v3.6M15.4 72.5v3.6M22.6 72.5v3.6M29.8 72.5v3.6M37 72.5v3.6M-4.37 76.1H38.67M-2.6 76.1v3.6M4.6 76.1v3.6M11.8 76.1v3.6M19 76.1v3.6M26.2 76.1v3.6M33.4 76.1v3.6M-4.37 79.7H38.67M1 79.7v3.6M8.2 79.7v3.6M15.4 79.7v3.6M22.6 79.7v3.6M29.8 79.7v3.6M37 79.7v3.6M-4.37 83.3H38.67M-2.6 83.3v3.6M4.6 83.3v3.6M11.8 83.3v3.6M19 83.3v3.6M26.2 83.3v3.6M33.4 83.3v3.6M-4.37 86.9H38.67M1 86.9v3.6M8.2 86.9v3.6M15.4 86.9v3.6M22.6 86.9v3.6M29.8 86.9v3.6M37 86.9v3.6M-4.37 90.5H38.67M-2.6 90.5v3.6M4.6 90.5v3.6M11.8 90.5v3.6M19 90.5v3.6M26.2 90.5v3.6M33.4 90.5v3.6M-4.37 94.1H38.67M1 94.1v3.6M8.2 94.1v3.6M15.4 94.1v3.6M22.6 94.1v3.6M29.8 94.1v3.6M37 94.1v3.6M-4.37 97.7H38.67M-2.6 97.7v3.6M4.6 97.7v3.6M11.8 97.7v3.6M19 97.7v3.6M26.2 97.7v3.6M33.4 97.7v3.6M-4.37 101.3H38.67M1 101.3v3.6M8.2 101.3v3.6M15.4 101.3v3.6M22.6 101.3v3.6M29.8 101.3v3.6M37 101.3v3.6M-4.37 104.9H38.67M-2.6 104.9v3.6M4.6 104.9v3.6M11.8 104.9v3.6M19 104.9v3.6M26.2 104.9v3.6M33.4 104.9v3.6M-4.37 108.5H38.67M1 108.5v3.6M8.2 108.5v3.6M15.4 108.5v3.6M22.6 108.5v3.6M29.8 108.5v3.6M37 108.5v3.6M-4.37 112.1H38.67M-2.6 112.1v3.6M4.6 112.1v3.6M11.8 112.1v3.6M19 112.1v3.6M26.2 112.1v3.6M33.4 112.1v3.6M-4.37 115.7H38.67M1 115.7v3.6M8.2 115.7v3.6M15.4 115.7v3.6M22.6 115.7v3.6M29.8 115.7v3.6M37 115.7v3.6M-4.37 119.3H38.67M-2.6 119.3v3.6M4.6 119.3v3.6M11.8 119.3v3.6M19 119.3v3.6M26.2 119.3v3.6M33.4 119.3v3.6M-4.37 122.9H38.67M1 122.9v3.6M8.2 122.9v3.6M15.4 122.9v3.6M22.6 122.9v3.6M29.8 122.9v3.6M37 122.9v3.6M-4.37 126.5H38.67M-2.6 126.5v3.6M4.6 126.5v3.6M11.8 126.5v3.6M19 126.5v3.6M26.2 126.5v3.6M33.4 126.5v3.6M-4.37 130.1H38.67M1 130.1v3.6M8.2 130.1v3.6M15.4 130.1v3.6M22.6 130.1v3.6M29.8 130.1v3.6M37 130.1v3.6M-4.37 133.7H38.67M-2.6 133.7v3.6M4.6 133.7v3.6M11.8 133.7v3.6M19 133.7v3.6M26.2 133.7v3.6M33.4 133.7v3.6M-4.37 137.3H38.67M1 137.3v3.6M8.2 137.3v3.6M15.4 137.3v3.6M22.6 137.3v3.6M29.8 137.3v3.6M37 137.3v3.6M-4.37 140.9H38.67M-2.6 140.9v3.6M4.6 140.9v3.6M11.8 140.9v3.6M19 140.9v3.6M26.2 140.9v3.6M33.4 140.9v3.6M-4.37 144.5H38.67M1 144.5v3.6M8.2 144.5v3.6M15.4 144.5v3.6M22.6 144.5v3.6M29.8 144.5v3.6M37 144.5v3.6M-4.37 148.1H38.67M-2.6 148.1v3.6M4.6 148.1v3.6M11.8 148.1v3.6M19 148.1v3.6M26.2 148.1v3.6M33.4 148.1v3.6" fill="none" stroke="#fff" stroke-width="1.0"/></g>
<path d="M84.66 473.30 H97.74 M91.20 473.30 V481.40 M84.66 481.40 H97.74" stroke="#000" stroke-width="1.48" fill="none"/>
<path d="M157.16 561.00 H170.24 M163.70 561.00 V570.00 M157.16 570.00 H170.24" stroke="#000" stroke-width="1.48" fill="none"/>
<path d="M229.66 497.90 H242.74 M236.20 497.90 V506.30 M229.66 506.30 H242.74" stroke="#000" stroke-width="1.48" fill="none"/>
<path d="M302.16 469.20 H315.24 M308.70 469.20 V482.40 M302.16 482.40 H315.24" stroke="#000" stroke-width="1.48" fill="none"/>
<path d="M55.40 435.40 V629.50 H345.80" stroke="#000" stroke-width="2.0" fill="none" stroke-linejoin="miter"/>
<path d="M49.23 629.50 H55.40" stroke="#000" stroke-width="1.70"/>
<text x="47.85" y="634.55" font-size="14.04" font-weight="bold" text-anchor="end" stroke="#111" stroke-width="0.55" textLength="7.62" lengthAdjust="spacingAndGlyphs">0</text>
<path d="M49.23 581.23 H55.40" stroke="#000" stroke-width="1.70"/>
<text x="47.85" y="586.28" font-size="14.04" font-weight="bold" text-anchor="end" stroke="#111" stroke-width="0.55" textLength="22.87" lengthAdjust="spacingAndGlyphs">100</text>
<path d="M49.23 532.95 H55.40" stroke="#000" stroke-width="1.70"/>
<text x="47.85" y="538.00" font-size="14.04" font-weight="bold" text-anchor="end" stroke="#111" stroke-width="0.55" textLength="22.87" lengthAdjust="spacingAndGlyphs">200</text>
<path d="M49.23 484.67 H55.40" stroke="#000" stroke-width="1.70"/>
<text x="47.85" y="489.73" font-size="14.04" font-weight="bold" text-anchor="end" stroke="#111" stroke-width="0.55" textLength="22.87" lengthAdjust="spacingAndGlyphs">300</text>
<path d="M49.23 436.40 H55.40" stroke="#000" stroke-width="1.70"/>
<text x="47.85" y="441.45" font-size="14.04" font-weight="bold" text-anchor="end" stroke="#111" stroke-width="0.55" textLength="22.87" lengthAdjust="spacingAndGlyphs">400</text>
<text x="164.00" y="551.47" font-size="19.47" font-weight="normal" text-anchor="middle" stroke="#111" stroke-width="0.3" textLength="21.04" lengthAdjust="spacingAndGlyphs">##</text>
<text x="237.00" y="487.96" font-size="16.98" font-weight="normal" text-anchor="middle" stroke="#111" stroke-width="0.3" textLength="6.41" lengthAdjust="spacingAndGlyphs">*</text>
<text x="309.30" y="458.16" font-size="16.98" font-weight="normal" text-anchor="middle" stroke="#111" stroke-width="0.3" textLength="12.82" lengthAdjust="spacingAndGlyphs">**</text>
<rect x="85.20" y="356.83" width="23.60" height="13.13" fill="#000" rx="1.3"/>
<g transform="translate(88.12,359.66)"><rect x="0.00" y="0.00" width="17.75" height="7.47" fill="url(#p1c)"/></g>
<text x="118.75" y="369.39" font-size="16.64" font-weight="normal" text-anchor="start" stroke="#111" stroke-width="0.3" textLength="50.63" lengthAdjust="spacingAndGlyphs">Control</text>
<rect x="85.20" y="379.03" width="23.60" height="13.13" fill="#000" rx="1.3"/>
<g transform="translate(95.02,383.66)"><rect x="-6.90" y="-1.79" width="17.75" height="7.47" fill="url(#p2c)"/></g>
<text x="118.75" y="391.59" font-size="16.64" font-weight="normal" text-anchor="start" stroke="#111" stroke-width="0.3" textLength="87.31" lengthAdjust="spacingAndGlyphs">Nonylphenol</text>
<rect x="85.20" y="401.43" width="23.60" height="13.13" fill="#000" rx="1.3"/>
<g transform="translate(88.44,404.72)"><rect x="-0.32" y="-0.45" width="17.75" height="7.47" fill="url(#p3c)"/></g>
<text x="118.75" y="413.99" font-size="16.64" font-weight="normal" text-anchor="start" stroke="#111" stroke-width="0.3" textLength="153.27" lengthAdjust="spacingAndGlyphs">Nonylphenol+Aucubin</text>
<rect x="85.20" y="423.73" width="23.60" height="13.13" fill="#000" rx="1.3"/>
<g transform="translate(90.89,426.11)"><rect x="-2.76" y="-0.06" width="17.75" height="8.49" fill="url(#p4c)"/></g>
<text x="118.75" y="436.29" font-size="16.64" font-weight="normal" text-anchor="start" stroke="#111" stroke-width="0.3" textLength="56.75" lengthAdjust="spacingAndGlyphs">Aucubin</text>
<text x="33.30" y="380.34" font-size="18.00" font-weight="normal" text-anchor="middle" stroke="#111" stroke-width="0.3" textLength="22.40" lengthAdjust="spacingAndGlyphs">(c)</text>
<text transform="translate(14.90,533.00) rotate(-90) scale(1,1.080)" x="0" y="0" font-size="16.02" font-weight="bold" text-anchor="middle" stroke="#111" stroke-width="0.2">Diameter of tubules <tspan font-weight="normal" stroke-width="0.1">(μ</tspan>m<tspan font-weight="normal" stroke-width="0.1">)</tspan></text>
</g>
<g id="panel-d">
<pattern id="p1d" width="3.6" height="3.6" patternUnits="userSpaceOnUse" patternTransform="scale(0.9972,0.9688)"><rect width="3.6" height="3.6" fill="#fff"/><rect x="0" y="0" width="1.8" height="1.8" fill="#000"/><rect x="1.8" y="1.8" width="1.8" height="1.8" fill="#000"/></pattern>
<pattern id="p2d" width="7.2" height="7.2" patternUnits="userSpaceOnUse" patternTransform="scale(0.9972,0.9688)"><rect width="7.2" height="7.2" fill="#fff"/><rect x="0" y="0" width="3.6" height="3.6" fill="#000"/><rect x="3.6" y="3.6" width="3.6" height="3.6" fill="#000"/></pattern>
<pattern id="p3d" width="7.2" height="3.6" patternUnits="userSpaceOnUse" patternTransform="scale(0.9972,0.9688)"><rect width="7.2" height="3.6" fill="#fff"/><rect x="-0.05" y="-0.05" width="1.00" height="1.00" fill="#111"/><rect x="1.75" y="-0.05" width="1.00" height="1.00" fill="#111"/><rect x="0.85" y="0.85" width="1.00" height="1.00" fill="#111"/><rect x="3.55" y="1.75" width="1.00" height="1.00" fill="#111"/><rect x="5.35" y="1.75" width="1.00" height="1.00" fill="#111"/><rect x="4.45" y="2.65" width="1.00" height="1.00" fill="#111"/></pattern>
<pattern id="p4d" width="7.2" height="7.2" patternUnits="userSpaceOnUse" patternTransform="scale(0.9972,0.9688)"><rect width="7.2" height="7.2" fill="#000"/><path d="M0 0.5 H7.2 M0 4.1 H7.2 M1 0.5 V4.1 M4.6 4.1 V7.7" fill="none" stroke="#fff" stroke-width="1.0"/></pattern>
<rect x="445.70" y="473.60" width="46.00" height="157.30" fill="#000" rx="0.8"/>
<g transform="translate(448.11,476.14)"><rect x="0.00" y="0.00" width="41.17" height="154.76" fill="url(#p1d)"/></g>
<rect x="511.63" y="567.10" width="46.00" height="63.80" fill="#000" rx="0.8"/>
<g transform="translate(516.20,575.17)"><rect x="-2.15" y="-5.53" width="41.17" height="61.26" fill="url(#p2d)"/></g>
<rect x="577.57" y="492.00" width="46.00" height="138.90" fill="#000" rx="0.8"/>
<clipPath id="c7"><rect x="579.98" y="494.54" width="41.17" height="136.36"/></clipPath><g clip-path="url(#c7)"><rect x="579.98" y="494.54" width="41.17" height="136.36" fill="#fff"/><path transform="translate(579.98,494.54) scale(0.9972,0.9688)" d="M4.45 -0.95h1v1h-1zM11.65 -0.95h1v1h-1zM18.85 -0.95h1v1h-1zM26.05 -0.95h1v1h-1zM33.25 -0.95h1v1h-1zM40.45 -0.95h1v1h-1zM-0.05 -0.05h1v1h-1zM1.75 -0.05h1v1h-1zM0.85 0.85h1v1h-1zM3.55 1.75h1v1h-1zM5.35 1.75h1v1h-1zM4.45 2.65h1v1h-1zM7.15 -0.05h1v1h-1zM8.95 -0.05h1v1h-1zM8.05 0.85h1v1h-1zM10.75 1.75h1v1h-1zM12.55 1.75h1v1h-1zM11.65 2.65h1v1h-1zM14.35 -0.05h1v1h-1zM16.15 -0.05h1v1h-1zM15.25 0.85h1v1h-1zM17.95 1.75h1v1h-1zM19.75 1.75h1v1h-1zM18.85 2.65h1v1h-1zM21.55 -0.05h1v1h-1zM23.35 -0.05h1v1h-1zM22.45 0.85h1v1h-1zM25.15 1.75h1v1h-1zM26.95 1.75h1v1h-1zM26.05 2.65h1v1h-1zM28.75 -0.05h1v1h-1zM30.55 -0.05h1v1h-1zM29.65 0.85h1v1h-1zM32.35 1.75h1v1h-1zM34.15 1.75h1v1h-1zM33.25 2.65h1v1h-1zM35.95 -0.05h1v1h-1zM37.75 -0.05h1v1h-1zM36.85 0.85h1v1h-1zM39.55 1.75h1v1h-1zM41.35 1.75h1v1h-1zM40.45 2.65h1v1h-1zM-0.05 3.55h1v1h-1zM1.75 3.55h1v1h-1zM0.85 4.45h1v1h-1zM3.55 5.35h1v1h-1zM5.35 5.35h1v1h-1zM4.45 6.25h1v1h-1zM7.15 3.55h1v1h-1zM8.95 3.55h1v1h-1zM8.05 4.45h1v1h-1zM10.75 5.35h1v1h-1zM12.55 5.35h1v1h-1zM11.65 6.25h1v1h-1zM14.35 3.55h1v1h-1zM16.15 3.55h1v1h-1zM15.25 4.45h1v1h-1zM17.95 5.35h1v1h-1zM19.75 5.35h1v1h-1zM18.85 6.25h1v1h-1zM21.55 3.55h1v1h-1zM23.35 3.55h1v1h-1zM22.45 4.45h1v1h-1zM25.15 5.35h1v1h-1zM26.95 5.35h1v1h-1zM26.05 6.25h1v1h-1zM28.75 3.55h1v1h-1zM30.55 3.55h1v1h-1zM29.65 4.45h1v1h-1zM32.35 5.35h1v1h-1zM34.15 5.35h1v1h-1zM33.25 6.25h1v1h-1zM35.95 3.55h1v1h-1zM37.75 3.55h1v1h-1zM36.85 4.45h1v1h-1zM39.55 5.35h1v1h-1zM41.35 5.35h1v1h-1zM40.45 6.25h1v1h-1zM-0.05 7.15h1v1h-1zM1.75 7.15h1v1h-1zM0.85 8.05h1v1h-1zM3.55 8.95h1v1h-1zM5.35 8.95h1v1h-1zM4.45 9.85h1v1h-1zM7.15 7.15h1v1h-1zM8.95 7.15h1v1h-1zM8.05 8.05h1v1h-1zM10.75 8.95h1v1h-1zM12.55 8.95h1v1h-1zM11.65 9.85h1v1h-1zM14.35 7.15h1v1h-1zM16.15 7.15h1v1h-1zM15.25 8.05h1v1h-1zM17.95 8.95h1v1h-1zM19.75 8.95h1v1h-1zM18.85 9.85h1v1h-1zM21.55 7.15h1v1h-1zM23.35 7.15h1v1h-1zM22.45 8.05h1v1h-1zM25.15 8.95h1v1h-1zM26.95 8.95h1v1h-1zM26.05 9.85h1v1h-1zM28.75 7.15h1v1h-1zM30.55 7.15h1v1h-1zM29.65 8.05h1v1h-1zM32.35 8.95h1v1h-1zM34.15 8.95h1v1h-1zM33.25 9.85h1v1h-1zM35.95 7.15h1v1h-1zM37.75 7.15h1v1h-1zM36.85 8.05h1v1h-1zM39.55 8.95h1v1h-1zM41.35 8.95h1v1h-1zM40.45 9.85h1v1h-1zM-0.05 10.75h1v1h-1zM1.75 10.75h1v1h-1zM0.85 11.65h1v1h-1zM3.55 12.55h1v1h-1zM5.35 12.55h1v1h-1zM4.45 13.45h1v1h-1zM7.15 10.75h1v1h-1zM8.95 10.75h1v1h-1zM8.05 11.65h1v1h-1zM10.75 12.55h1v1h-1zM12.55 12.55h1v1h-1zM11.65 13.45h1v1h-1zM14.35 10.75h1v1h-1zM16.15 10.75h1v1h-1zM15.25 11.65h1v1h-1zM17.95 12.55h1v1h-1zM19.75 12.55h1v1h-1zM18.85 13.45h1v1h-1zM21.55 10.75h1v1h-1zM23.35 10.75h1v1h-1zM22.45 11.65h1v1h-1zM25.15 12.55h1v1h-1zM26.95 12.55h1v1h-1zM26.05 13.45h1v1h-1zM28.75 10.75h1v1h-1zM30.55 10.75h1v1h-1zM29.65 11.65h1v1h-1zM32.35 12.55h1v1h-1zM34.15 12.55h1v1h-1zM33.25 13.45h1v1h-1zM35.95 10.75h1v1h-1zM37.75 10.75h1v1h-1zM36.85 11.65h1v1h-1zM39.55 12.55h1v1h-1zM41.35 12.55h1v1h-1zM40.45 13.45h1v1h-1zM-0.05 14.35h1v1h-1zM1.75 14.35h1v1h-1zM0.85 15.25h1v1h-1zM3.55 16.15h1v1h-1zM5.35 16.15h1v1h-1zM4.45 17.05h1v1h-1zM7.15 14.35h1v1h-1zM8.95 14.35h1v1h-1zM8.05 15.25h1v1h-1zM10.75 16.15h1v1h-1zM12.55 16.15h1v1h-1zM11.65 17.05h1v1h-1zM14.35 14.35h1v1h-1zM16.15 14.35h1v1h-1zM15.25 15.25h1v1h-1zM17.95 16.15h1v1h-1zM19.75 16.15h1v1h-1zM18.85 17.05h1v1h-1zM21.55 14.35h1v1h-1zM23.35 14.35h1v1h-1zM22.45 15.25h1v1h-1zM25.15 16.15h1v1h-1zM26.95 16.15h1v1h-1zM26.05 17.05h1v1h-1zM28.75 14.35h1v1h-1zM30.55 14.35h1v1h-1zM29.65 15.25h1v1h-1zM32.35 16.15h1v1h-1zM34.15 16.15h1v1h-1zM33.25 17.05h1v1h-1zM35.95 14.35h1v1h-1zM37.75 14.35h1v1h-1zM36.85 15.25h1v1h-1zM39.55 16.15h1v1h-1zM41.35 16.15h1v1h-1zM40.45 17.05h1v1h-1zM-0.05 17.95h1v1h-1zM1.75 17.95h1v1h-1zM0.85 18.85h1v1h-1zM3.55 19.75h1v1h-1zM5.35 19.75h1v1h-1zM4.45 20.65h1v1h-1zM7.15 17.95h1v1h-1zM8.95 17.95h1v1h-1zM8.05 18.85h1v1h-1zM10.75 19.75h1v1h-1zM12.55 19.75h1v1h-1zM11.65 20.65h1v1h-1zM14.35 17.95h1v1h-1zM16.15 17.95h1v1h-1zM15.25 18.85h1v1h-1zM17.95 19.75h1v1h-1zM19.75 19.75h1v1h-1zM18.85 20.65h1v1h-1zM21.55 17.95h1v1h-1zM23.35 17.95h1v1h-1zM22.45 18.85h1v1h-1zM25.15 19.75h1v1h-1zM26.95 19.75h1v1h-1zM26.05 20.65h1v1h-1zM28.75 17.95h1v1h-1zM30.55 17.95h1v1h-1zM29.65 18.85h1v1h-1zM32.35 19.75h1v1h-1zM34.15 19.75h1v1h-1zM33.25 20.65h1v1h-1zM35.95 17.95h1v1h-1zM37.75 17.95h1v1h-1zM36.85 18.85h1v1h-1zM39.55 19.75h1v1h-1zM41.35 19.75h1v1h-1zM40.45 20.65h1v1h-1zM-0.05 21.55h1v1h-1zM1.75 21.55h1v1h-1zM0.85 22.45h1v1h-1zM3.55 23.35h1v1h-1zM5.35 23.35h1v1h-1zM4.45 24.25h1v1h-1zM7.15 21.55h1v1h-1zM8.95 21.55h1v1h-1zM8.05 22.45h1v1h-1zM10.75 23.35h1v1h-1zM12.55 23.35h1v1h-1zM11.65 24.25h1v1h-1zM14.35 21.55h1v1h-1zM16.15 21.55h1v1h-1zM15.25 22.45h1v1h-1zM17.95 23.35h1v1h-1zM19.75 23.35h1v1h-1zM18.85 24.25h1v1h-1zM21.55 21.55h1v1h-1zM23.35 21.55h1v1h-1zM22.45 22.45h1v1h-1zM25.15 23.35h1v1h-1zM26.95 23.35h1v1h-1zM26.05 24.25h1v1h-1zM28.75 21.55h1v1h-1zM30.55 21.55h1v1h-1zM29.65 22.45h1v1h-1zM32.35 23.35h1v1h-1zM34.15 23.35h1v1h-1zM33.25 24.25h1v1h-1zM35.95 21.55h1v1h-1zM37.75 21.55h1v1h-1zM36.85 22.45h1v1h-1zM39.55 23.35h1v1h-1zM41.35 23.35h1v1h-1zM40.45 24.25h1v1h-1zM-0.05 25.15h1v1h-1zM1.75 25.15h1v1h-1zM0.85 26.05h1v1h-1zM3.55 26.95h1v1h-1zM5.35 26.95h1v1h-1zM4.45 27.85h1v1h-1zM7.15 25.15h1v1h-1zM8.95 25.15h1v1h-1zM8.05 26.05h1v1h-1zM10.75 26.95h1v1h-1zM12.55 26.95h1v1h-1zM11.65 27.85h1v1h-1zM14.35 25.15h1v1h-1zM16.15 25.15h1v1h-1zM15.25 26.05h1v1h-1zM17.95 26.95h1v1h-1zM19.75 26.95h1v1h-1zM18.85 27.85h1v1h-1zM21.55 25.15h1v1h-1zM23.35 25.15h1v1h-1zM22.45 26.05h1v1h-1zM25.15 26.95h1v1h-1zM26.95 26.95h1v1h-1zM26.05 27.85h1v1h-1zM28.75 25.15h1v1h-1zM30.55 25.15h1v1h-1zM29.65 26.05h1v1h-1zM32.35 26.95h1v1h-1zM34.15 26.95h1v1h-1zM33.25 27.85h1v1h-1zM35.95 25.15h1v1h-1zM37.75 25.15h1v1h-1zM36.85 26.05h1v1h-1zM39.55 26.95h1v1h-1zM41.35 26.95h1v1h-1zM40.45 27.85h1v1h-1zM-0.05 28.75h1v1h-1zM1.75 28.75h1v1h-1zM0.85 29.65h1v1h-1zM3.55 30.55h1v1h-1zM5.35 30.55h1v1h-1zM4.45 31.45h1v1h-1zM7.15 28.75h1v1h-1zM8.95 28.75h1v1h-1zM8.05 29.65h1v1h-1zM10.75 30.55h1v1h-1zM12.55 30.55h1v1h-1zM11.65 31.45h1v1h-1zM14.35 28.75h1v1h-1zM16.15 28.75h1v1h-1zM15.25 29.65h1v1h-1zM17.95 30.55h1v1h-1zM19.75 30.55h1v1h-1zM18.85 31.45h1v1h-1zM21.55 28.75h1v1h-1zM23.35 28.75h1v1h-1zM22.45 29.65h1v1h-1zM25.15 30.55h1v1h-1zM26.95 30.55h1v1h-1zM26.05 31.45h1v1h-1zM28.75 28.75h1v1h-1zM30.55 28.75h1v1h-1zM29.65 29.65h1v1h-1zM32.35 30.55h1v1h-1zM34.15 30.55h1v1h-1zM33.25 31.45h1v1h-1zM35.95 28.75h1v1h-1zM37.75 28.75h1v1h-1zM36.85 29.65h1v1h-1zM39.55 30.55h1v1h-1zM41.35 30.55h1v1h-1zM40.45 31.45h1v1h-1zM-0.05 32.35h1v1h-1zM1.75 32.35h1v1h-1zM0.85 33.25h1v1h-1zM3.55 34.15h1v1h-1zM5.35 34.15h1v1h-1zM4.45 35.05h1v1h-1zM7.15 32.35h1v1h-1zM8.95 32.35h1v1h-1zM8.05 33.25h1v1h-1zM10.75 34.15h1v1h-1zM12.55 34.15h1v1h-1zM11.65 35.05h1v1h-1zM14.35 32.35h1v1h-1zM16.15 32.35h1v1h-1zM15.25 33.25h1v1h-1zM17.95 34.15h1v1h-1zM19.75 34.15h1v1h-1zM18.85 35.05h1v1h-1zM21.55 32.35h1v1h-1zM23.35 32.35h1v1h-1zM22.45 33.25h1v1h-1zM25.15 34.15h1v1h-1zM26.95 34.15h1v1h-1zM26.05 35.05h1v1h-1zM28.75 32.35h1v1h-1zM30.55 32.35h1v1h-1zM29.65 33.25h1v1h-1zM32.35 34.15h1v1h-1zM34.15 34.15h1v1h-1zM33.25 35.05h1v1h-1zM35.95 32.35h1v1h-1zM37.75 32.35h1v1h-1zM36.85 33.25h1v1h-1zM39.55 34.15h1v1h-1zM41.35 34.15h1v1h-1zM40.45 35.05h1v1h-1zM-0.05 35.95h1v1h-1zM1.75 35.95h1v1h-1zM0.85 36.85h1v1h-1zM3.55 37.75h1v1h-1zM5.35 37.75h1v1h-1zM4.45 38.65h1v1h-1zM7.15 35.95h1v1h-1zM8.95 35.95h1v1h-1zM8.05 36.85h1v1h-1zM10.75 37.75h1v1h-1zM12.55 37.75h1v1h-1zM11.65 38.65h1v1h-1zM14.35 35.95h1v1h-1zM16.15 35.95h1v1h-1zM15.25 36.85h1v1h-1zM17.95 37.75h1v1h-1zM19.75 37.75h1v1h-1zM18.85 38.65h1v1h-1zM21.55 35.95h1v1h-1zM23.35 35.95h1v1h-1zM22.45 36.85h1v1h-1zM25.15 37.75h1v1h-1zM26.95 37.75h1v1h-1zM26.05 38.65h1v1h-1zM28.75 35.95h1v1h-1zM30.55 35.95h1v1h-1zM29.65 36.85h1v1h-1zM32.35 37.75h1v1h-1zM34.15 37.75h1v1h-1zM33.25 38.65h1v1h-1zM35.95 35.95h1v1h-1zM37.75 35.95h1v1h-1zM36.85 36.85h1v1h-1zM39.55 37.75h1v1h-1zM41.35 37.75h1v1h-1zM40.45 38.65h1v1h-1zM-0.05 39.55h1v1h-1zM1.75 39.55h1v1h-1zM0.85 40.45h1v1h-1zM3.55 41.35h1v1h-1zM5.35 41.35h1v1h-1zM4.45 42.25h1v1h-1zM7.15 39.55h1v1h-1zM8.95 39.55h1v1h-1zM8.05 40.45h1v1h-1zM10.75 41.35h1v1h-1zM12.55 41.35h1v1h-1zM11.65 42.25h1v1h-1zM14.35 39.55h1v1h-1zM16.15 39.55h1v1h-1zM15.25 40.45h1v1h-1zM17.95 41.35h1v1h-1zM19.75 41.35h1v1h-1zM18.85 42.25h1v1h-1zM21.55 39.55h1v1h-1zM23.35 39.55h1v1h-1zM22.45 40.45h1v1h-1zM25.15 41.35h1v1h-1zM26.95 41.35h1v1h-1zM26.05 42.25h1v1h-1zM28.75 39.55h1v1h-1zM30.55 39.55h1v1h-1zM29.65 40.45h1v1h-1zM32.35 41.35h1v1h-1zM34.15 41.35h1v1h-1zM33.25 42.25h1v1h-1zM35.95 39.55h1v1h-1zM37.75 39.55h1v1h-1zM36.85 40.45h1v1h-1zM39.55 41.35h1v1h-1zM41.35 41.35h1v1h-1zM40.45 42.25h1v1h-1zM-0.05 43.15h1v1h-1zM1.75 43.15h1v1h-1zM0.85 44.05h1v1h-1zM3.55 44.95h1v1h-1zM5.35 44.95h1v1h-1zM4.45 45.85h1v1h-1zM7.15 43.15h1v1h-1zM8.95 43.15h1v1h-1zM8.05 44.05h1v1h-1zM10.75 44.95h1v1h-1zM12.55 44.95h1v1h-1zM11.65 45.85h1v1h-1zM14.35 43.15h1v1h-1zM16.15 43.15h1v1h-1zM15.25 44.05h1v1h-1zM17.95 44.95h1v1h-1zM19.75 44.95h1v1h-1zM18.85 45.85h1v1h-1zM21.55 43.15h1v1h-1zM23.35 43.15h1v1h-1zM22.45 44.05h1v1h-1zM25.15 44.95h1v1h-1zM26.95 44.95h1v1h-1zM26.05 45.85h1v1h-1zM28.75 43.15h1v1h-1zM30.55 43.15h1v1h-1zM29.65 44.05h1v1h-1zM32.35 44.95h1v1h-1zM34.15 44.95h1v1h-1zM33.25 45.85h1v1h-1zM35.95 43.15h1v1h-1zM37.75 43.15h1v1h-1zM36.85 44.05h1v1h-1zM39.55 44.95h1v1h-1zM41.35 44.95h1v1h-1zM40.45 45.85h1v1h-1zM-0.05 46.75h1v1h-1zM1.75 46.75h1v1h-1zM0.85 47.65h1v1h-1zM3.55 48.55h1v1h-1zM5.35 48.55h1v1h-1zM4.45 49.45h1v1h-1zM7.15 46.75h1v1h-1zM8.95 46.75h1v1h-1zM8.05 47.65h1v1h-1zM10.75 48.55h1v1h-1zM12.55 48.55h1v1h-1zM11.65 49.45h1v1h-1zM14.35 46.75h1v1h-1zM16.15 46.75h1v1h-1zM15.25 47.65h1v1h-1zM17.95 48.55h1v1h-1zM19.75 48.55h1v1h-1zM18.85 49.45h1v1h-1zM21.55 46.75h1v1h-1zM23.35 46.75h1v1h-1zM22.45 47.65h1v1h-1zM25.15 48.55h1v1h-1zM26.95 48.55h1v1h-1zM26.05 49.45h1v1h-1zM28.75 46.75h1v1h-1zM30.55 46.75h1v1h-1zM29.65 47.65h1v1h-1zM32.35 48.55h1v1h-1zM34.15 48.55h1v1h-1zM33.25 49.45h1v1h-1zM35.95 46.75h1v1h-1zM37.75 46.75h1v1h-1zM36.85 47.65h1v1h-1zM39.55 48.55h1v1h-1zM41.35 48.55h1v1h-1zM40.45 49.45h1v1h-1zM-0.05 50.35h1v1h-1zM1.75 50.35h1v1h-1zM0.85 51.25h1v1h-1zM3.55 52.15h1v1h-1zM5.35 52.15h1v1h-1zM4.45 53.05h1v1h-1zM7.15 50.35h1v1h-1zM8.95 50.35h1v1h-1zM8.05 51.25h1v1h-1zM10.75 52.15h1v1h-1zM12.55 52.15h1v1h-1zM11.65 53.05h1v1h-1zM14.35 50.35h1v1h-1zM16.15 50.35h1v1h-1zM15.25 51.25h1v1h-1zM17.95 52.15h1v1h-1zM19.75 52.15h1v1h-1zM18.85 53.05h1v1h-1zM21.55 50.35h1v1h-1zM23.35 50.35h1v1h-1zM22.45 51.25h1v1h-1zM25.15 52.15h1v1h-1zM26.95 52.15h1v1h-1zM26.05 53.05h1v1h-1zM28.75 50.35h1v1h-1zM30.55 50.35h1v1h-1zM29.65 51.25h1v1h-1zM32.35 52.15h1v1h-1zM34.15 52.15h1v1h-1zM33.25 53.05h1v1h-1zM35.95 50.35h1v1h-1zM37.75 50.35h1v1h-1zM36.85 51.25h1v1h-1zM39.55 52.15h1v1h-1zM41.35 52.15h1v1h-1zM40.45 53.05h1v1h-1zM-0.05 53.95h1v1h-1zM1.75 53.95h1v1h-1zM0.85 54.85h1v1h-1zM3.55 55.75h1v1h-1zM5.35 55.75h1v1h-1zM4.45 56.65h1v1h-1zM7.15 53.95h1v1h-1zM8.95 53.95h1v1h-1zM8.05 54.85h1v1h-1zM10.75 55.75h1v1h-1zM12.55 55.75h1v1h-1zM11.65 56.65h1v1h-1zM14.35 53.95h1v1h-1zM16.15 53.95h1v1h-1zM15.25 54.85h1v1h-1zM17.95 55.75h1v1h-1zM19.75 55.75h1v1h-1zM18.85 56.65h1v1h-1zM21.55 53.95h1v1h-1zM23.35 53.95h1v1h-1zM22.45 54.85h1v1h-1zM25.15 55.75h1v1h-1zM26.95 55.75h1v1h-1zM26.05 56.65h1v1h-1zM28.75 53.95h1v1h-1zM30.55 53.95h1v1h-1zM29.65 54.85h1v1h-1zM32.35 55.75h1v1h-1zM34.15 55.75h1v1h-1zM33.25 56.65h1v1h-1zM35.95 53.95h1v1h-1zM37.75 53.95h1v1h-1zM36.85 54.85h1v1h-1zM39.55 55.75h1v1h-1zM41.35 55.75h1v1h-1zM40.45 56.65h1v1h-1zM-0.05 57.55h1v1h-1zM1.75 57.55h1v1h-1zM0.85 58.45h1v1h-1zM3.55 59.35h1v1h-1zM5.35 59.35h1v1h-1zM4.45 60.25h1v1h-1zM7.15 57.55h1v1h-1zM8.95 57.55h1v1h-1zM8.05 58.45h1v1h-1zM10.75 59.35h1v1h-1zM12.55 59.35h1v1h-1zM11.65 60.25h1v1h-1zM14.35 57.55h1v1h-1zM16.15 57.55h1v1h-1zM15.25 58.45h1v1h-1zM17.95 59.35h1v1h-1zM19.75 59.35h1v1h-1zM18.85 60.25h1v1h-1zM21.55 57.55h1v1h-1zM23.35 57.55h1v1h-1zM22.45 58.45h1v1h-1zM25.15 59.35h1v1h-1zM26.95 59.35h1v1h-1zM26.05 60.25h1v1h-1zM28.75 57.55h1v1h-1zM30.55 57.55h1v1h-1zM29.65 58.45h1v1h-1zM32.35 59.35h1v1h-1zM34.15 59.35h1v1h-1zM33.25 60.25h1v1h-1zM35.95 57.55h1v1h-1zM37.75 57.55h1v1h-1zM36.85 58.45h1v1h-1zM39.55 59.35h1v1h-1zM41.35 59.35h1v1h-1zM40.45 60.25h1v1h-1zM-0.05 61.15h1v1h-1zM1.75 61.15h1v1h-1zM0.85 62.05h1v1h-1zM3.55 62.95h1v1h-1zM5.35 62.95h1v1h-1zM4.45 63.85h1v1h-1zM7.15 61.15h1v1h-1zM8.95 61.15h1v1h-1zM8.05 62.05h1v1h-1zM10.75 62.95h1v1h-1zM12.55 62.95h1v1h-1zM11.65 63.85h1v1h-1zM14.35 61.15h1v1h-1zM16.15 61.15h1v1h-1zM15.25 62.05h1v1h-1zM17.95 62.95h1v1h-1zM19.75 62.95h1v1h-1zM18.85 63.85h1v1h-1zM21.55 61.15h1v1h-1zM23.35 61.15h1v1h-1zM22.45 62.05h1v1h-1zM25.15 62.95h1v1h-1zM26.95 62.95h1v1h-1zM26.05 63.85h1v1h-1zM28.75 61.15h1v1h-1zM30.55 61.15h1v1h-1zM29.65 62.05h1v1h-1zM32.35 62.95h1v1h-1zM34.15 62.95h1v1h-1zM33.25 63.85h1v1h-1zM35.95 61.15h1v1h-1zM37.75 61.15h1v1h-1zM36.85 62.05h1v1h-1zM39.55 62.95h1v1h-1zM41.35 62.95h1v1h-1zM40.45 63.85h1v1h-1zM-0.05 64.75h1v1h-1zM1.75 64.75h1v1h-1zM0.85 65.65h1v1h-1zM3.55 66.55h1v1h-1zM5.35 66.55h1v1h-1zM4.45 67.45h1v1h-1zM7.15 64.75h1v1h-1zM8.95 64.75h1v1h-1zM8.05 65.65h1v1h-1zM10.75 66.55h1v1h-1zM12.55 66.55h1v1h-1zM11.65 67.45h1v1h-1zM14.35 64.75h1v1h-1zM16.15 64.75h1v1h-1zM15.25 65.65h1v1h-1zM17.95 66.55h1v1h-1zM19.75 66.55h1v1h-1zM18.85 67.45h1v1h-1zM21.55 64.75h1v1h-1zM23.35 64.75h1v1h-1zM22.45 65.65h1v1h-1zM25.15 66.55h1v1h-1zM26.95 66.55h1v1h-1zM26.05 67.45h1v1h-1zM28.75 64.75h1v1h-1zM30.55 64.75h1v1h-1zM29.65 65.65h1v1h-1zM32.35 66.55h1v1h-1zM34.15 66.55h1v1h-1zM33.25 67.45h1v1h-1zM35.95 64.75h1v1h-1zM37.75 64.75h1v1h-1zM36.85 65.65h1v1h-1zM39.55 66.55h1v1h-1zM41.35 66.55h1v1h-1zM40.45 67.45h1v1h-1zM-0.05 68.35h1v1h-1zM1.75 68.35h1v1h-1zM0.85 69.25h1v1h-1zM3.55 70.15h1v1h-1zM5.35 70.15h1v1h-1zM4.45 71.05h1v1h-1zM7.15 68.35h1v1h-1zM8.95 68.35h1v1h-1zM8.05 69.25h1v1h-1zM10.75 70.15h1v1h-1zM12.55 70.15h1v1h-1zM11.65 71.05h1v1h-1zM14.35 68.35h1v1h-1zM16.15 68.35h1v1h-1zM15.25 69.25h1v1h-1zM17.95 70.15h1v1h-1zM19.75 70.15h1v1h-1zM18.85 71.05h1v1h-1zM21.55 68.35h1v1h-1zM23.35 68.35h1v1h-1zM22.45 69.25h1v1h-1zM25.15 70.15h1v1h-1zM26.95 70.15h1v1h-1zM26.05 71.05h1v1h-1zM28.75 68.35h1v1h-1zM30.55 68.35h1v1h-1zM29.65 69.25h1v1h-1zM32.35 70.15h1v1h-1zM34.15 70.15h1v1h-1zM33.25 71.05h1v1h-1zM35.95 68.35h1v1h-1zM37.75 68.35h1v1h-1zM36.85 69.25h1v1h-1zM39.55 70.15h1v1h-1zM41.35 70.15h1v1h-1zM40.45 71.05h1v1h-1zM-0.05 71.95h1v1h-1zM1.75 71.95h1v1h-1zM0.85 72.85h1v1h-1zM3.55 73.75h1v1h-1zM5.35 73.75h1v1h-1zM4.45 74.65h1v1h-1zM7.15 71.95h1v1h-1zM8.95 71.95h1v1h-1zM8.05 72.85h1v1h-1zM10.75 73.75h1v1h-1zM12.55 73.75h1v1h-1zM11.65 74.65h1v1h-1zM14.35 71.95h1v1h-1zM16.15 71.95h1v1h-1zM15.25 72.85h1v1h-1zM17.95 73.75h1v1h-1zM19.75 73.75h1v1h-1zM18.85 74.65h1v1h-1zM21.55 71.95h1v1h-1zM23.35 71.95h1v1h-1zM22.45 72.85h1v1h-1zM25.15 73.75h1v1h-1zM26.95 73.75h1v1h-1zM26.05 74.65h1v1h-1zM28.75 71.95h1v1h-1zM30.55 71.95h1v1h-1zM29.65 72.85h1v1h-1zM32.35 73.75h1v1h-1zM34.15 73.75h1v1h-1zM33.25 74.65h1v1h-1zM35.95 71.95h1v1h-1zM37.75 71.95h1v1h-1zM36.85 72.85h1v1h-1zM39.55 73.75h1v1h-1zM41.35 73.75h1v1h-1zM40.45 74.65h1v1h-1zM-0.05 75.55h1v1h-1zM1.75 75.55h1v1h-1zM0.85 76.45h1v1h-1zM3.55 77.35h1v1h-1zM5.35 77.35h1v1h-1zM4.45 78.25h1v1h-1zM7.15 75.55h1v1h-1zM8.95 75.55h1v1h-1zM8.05 76.45h1v1h-1zM10.75 77.35h1v1h-1zM12.55 77.35h1v1h-1zM11.65 78.25h1v1h-1zM14.35 75.55h1v1h-1zM16.15 75.55h1v1h-1zM15.25 76.45h1v1h-1zM17.95 77.35h1v1h-1zM19.75 77.35h1v1h-1zM18.85 78.25h1v1h-1zM21.55 75.55h1v1h-1zM23.35 75.55h1v1h-1zM22.45 76.45h1v1h-1zM25.15 77.35h1v1h-1zM26.95 77.35h1v1h-1zM26.05 78.25h1v1h-1zM28.75 75.55h1v1h-1zM30.55 75.55h1v1h-1zM29.65 76.45h1v1h-1zM32.35 77.35h1v1h-1zM34.15 77.35h1v1h-1zM33.25 78.25h1v1h-1zM35.95 75.55h1v1h-1zM37.75 75.55h1v1h-1zM36.85 76.45h1v1h-1zM39.55 77.35h1v1h-1zM41.35 77.35h1v1h-1zM40.45 78.25h1v1h-1zM-0.05 79.15h1v1h-1zM1.75 79.15h1v1h-1zM0.85 80.05h1v1h-1zM3.55 80.95h1v1h-1zM5.35 80.95h1v1h-1zM4.45 81.85h1v1h-1zM7.15 79.15h1v1h-1zM8.95 79.15h1v1h-1zM8.05 80.05h1v1h-1zM10.75 80.95h1v1h-1zM12.55 80.95h1v1h-1zM11.65 81.85h1v1h-1zM14.35 79.15h1v1h-1zM16.15 79.15h1v1h-1zM15.25 80.05h1v1h-1zM17.95 80.95h1v1h-1zM19.75 80.95h1v1h-1zM18.85 81.85h1v1h-1zM21.55 79.15h1v1h-1zM23.35 79.15h1v1h-1zM22.45 80.05h1v1h-1zM25.15 80.95h1v1h-1zM26.95 80.95h1v1h-1zM26.05 81.85h1v1h-1zM28.75 79.15h1v1h-1zM30.55 79.15h1v1h-1zM29.65 80.05h1v1h-1zM32.35 80.95h1v1h-1zM34.15 80.95h1v1h-1zM33.25 81.85h1v1h-1zM35.95 79.15h1v1h-1zM37.75 79.15h1v1h-1zM36.85 80.05h1v1h-1zM39.55 80.95h1v1h-1zM41.35 80.95h1v1h-1zM40.45 81.85h1v1h-1zM-0.05 82.75h1v1h-1zM1.75 82.75h1v1h-1zM0.85 83.65h1v1h-1zM3.55 84.55h1v1h-1zM5.35 84.55h1v1h-1zM4.45 85.45h1v1h-1zM7.15 82.75h1v1h-1zM8.95 82.75h1v1h-1zM8.05 83.65h1v1h-1zM10.75 84.55h1v1h-1zM12.55 84.55h1v1h-1zM11.65 85.45h1v1h-1zM14.35 82.75h1v1h-1zM16.15 82.75h1v1h-1zM15.25 83.65h1v1h-1zM17.95 84.55h1v1h-1zM19.75 84.55h1v1h-1zM18.85 85.45h1v1h-1zM21.55 82.75h1v1h-1zM23.35 82.75h1v1h-1zM22.45 83.65h1v1h-1zM25.15 84.55h1v1h-1zM26.95 84.55h1v1h-1zM26.05 85.45h1v1h-1zM28.75 82.75h1v1h-1zM30.55 82.75h1v1h-1zM29.65 83.65h1v1h-1zM32.35 84.55h1v1h-1zM34.15 84.55h1v1h-1zM33.25 85.45h1v1h-1zM35.95 82.75h1v1h-1zM37.75 82.75h1v1h-1zM36.85 83.65h1v1h-1zM39.55 84.55h1v1h-1zM41.35 84.55h1v1h-1zM40.45 85.45h1v1h-1zM-0.05 86.35h1v1h-1zM1.75 86.35h1v1h-1zM0.85 87.25h1v1h-1zM3.55 88.15h1v1h-1zM5.35 88.15h1v1h-1zM4.45 89.05h1v1h-1zM7.15 86.35h1v1h-1zM8.95 86.35h1v1h-1zM8.05 87.25h1v1h-1zM10.75 88.15h1v1h-1zM12.55 88.15h1v1h-1zM11.65 89.05h1v1h-1zM14.35 86.35h1v1h-1zM16.15 86.35h1v1h-1zM15.25 87.25h1v1h-1zM17.95 88.15h1v1h-1zM19.75 88.15h1v1h-1zM18.85 89.05h1v1h-1zM21.55 86.35h1v1h-1zM23.35 86.35h1v1h-1zM22.45 87.25h1v1h-1zM25.15 88.15h1v1h-1zM26.95 88.15h1v1h-1zM26.05 89.05h1v1h-1zM28.75 86.35h1v1h-1zM30.55 86.35h1v1h-1zM29.65 87.25h1v1h-1zM32.35 88.15h1v1h-1zM34.15 88.15h1v1h-1zM33.25 89.05h1v1h-1zM35.95 86.35h1v1h-1zM37.75 86.35h1v1h-1zM36.85 87.25h1v1h-1zM39.55 88.15h1v1h-1zM41.35 88.15h1v1h-1zM40.45 89.05h1v1h-1zM-0.05 89.95h1v1h-1zM1.75 89.95h1v1h-1zM0.85 90.85h1v1h-1zM3.55 91.75h1v1h-1zM5.35 91.75h1v1h-1zM4.45 92.65h1v1h-1zM7.15 89.95h1v1h-1zM8.95 89.95h1v1h-1zM8.05 90.85h1v1h-1zM10.75 91.75h1v1h-1zM12.55 91.75h1v1h-1zM11.65 92.65h1v1h-1zM14.35 89.95h1v1h-1zM16.15 89.95h1v1h-1zM15.25 90.85h1v1h-1zM17.95 91.75h1v1h-1zM19.75 91.75h1v1h-1zM18.85 92.65h1v1h-1zM21.55 89.95h1v1h-1zM23.35 89.95h1v1h-1zM22.45 90.85h1v1h-1zM25.15 91.75h1v1h-1zM26.95 91.75h1v1h-1zM26.05 92.65h1v1h-1zM28.75 89.95h1v1h-1zM30.55 89.95h1v1h-1zM29.65 90.85h1v1h-1zM32.35 91.75h1v1h-1zM34.15 91.75h1v1h-1zM33.25 92.65h1v1h-1zM35.95 89.95h1v1h-1zM37.75 89.95h1v1h-1zM36.85 90.85h1v1h-1zM39.55 91.75h1v1h-1zM41.35 91.75h1v1h-1zM40.45 92.65h1v1h-1zM-0.05 93.55h1v1h-1zM1.75 93.55h1v1h-1zM0.85 94.45h1v1h-1zM3.55 95.35h1v1h-1zM5.35 95.35h1v1h-1zM4.45 96.25h1v1h-1zM7.15 93.55h1v1h-1zM8.95 93.55h1v1h-1zM8.05 94.45h1v1h-1zM10.75 95.35h1v1h-1zM12.55 95.35h1v1h-1zM11.65 96.25h1v1h-1zM14.35 93.55h1v1h-1zM16.15 93.55h1v1h-1zM15.25 94.45h1v1h-1zM17.95 95.35h1v1h-1zM19.75 95.35h1v1h-1zM18.85 96.25h1v1h-1zM21.55 93.55h1v1h-1zM23.35 93.55h1v1h-1zM22.45 94.45h1v1h-1zM25.15 95.35h1v1h-1zM26.95 95.35h1v1h-1zM26.05 96.25h1v1h-1zM28.75 93.55h1v1h-1zM30.55 93.55h1v1h-1zM29.65 94.45h1v1h-1zM32.35 95.35h1v1h-1zM34.15 95.35h1v1h-1zM33.25 96.25h1v1h-1zM35.95 93.55h1v1h-1zM37.75 93.55h1v1h-1zM36.85 94.45h1v1h-1zM39.55 95.35h1v1h-1zM41.35 95.35h1v1h-1zM40.45 96.25h1v1h-1zM-0.05 97.15h1v1h-1zM1.75 97.15h1v1h-1zM0.85 98.05h1v1h-1zM3.55 98.95h1v1h-1zM5.35 98.95h1v1h-1zM4.45 99.85h1v1h-1zM7.15 97.15h1v1h-1zM8.95 97.15h1v1h-1zM8.05 98.05h1v1h-1zM10.75 98.95h1v1h-1zM12.55 98.95h1v1h-1zM11.65 99.85h1v1h-1zM14.35 97.15h1v1h-1zM16.15 97.15h1v1h-1zM15.25 98.05h1v1h-1zM17.95 98.95h1v1h-1zM19.75 98.95h1v1h-1zM18.85 99.85h1v1h-1zM21.55 97.15h1v1h-1zM23.35 97.15h1v1h-1zM22.45 98.05h1v1h-1zM25.15 98.95h1v1h-1zM26.95 98.95h1v1h-1zM26.05 99.85h1v1h-1zM28.75 97.15h1v1h-1zM30.55 97.15h1v1h-1zM29.65 98.05h1v1h-1zM32.35 98.95h1v1h-1zM34.15 98.95h1v1h-1zM33.25 99.85h1v1h-1zM35.95 97.15h1v1h-1zM37.75 97.15h1v1h-1zM36.85 98.05h1v1h-1zM39.55 98.95h1v1h-1zM41.35 98.95h1v1h-1zM40.45 99.85h1v1h-1zM-0.05 100.75h1v1h-1zM1.75 100.75h1v1h-1zM0.85 101.65h1v1h-1zM3.55 102.55h1v1h-1zM5.35 102.55h1v1h-1zM4.45 103.45h1v1h-1zM7.15 100.75h1v1h-1zM8.95 100.75h1v1h-1zM8.05 101.65h1v1h-1zM10.75 102.55h1v1h-1zM12.55 102.55h1v1h-1zM11.65 103.45h1v1h-1zM14.35 100.75h1v1h-1zM16.15 100.75h1v1h-1zM15.25 101.65h1v1h-1zM17.95 102.55h1v1h-1zM19.75 102.55h1v1h-1zM18.85 103.45h1v1h-1zM21.55 100.75h1v1h-1zM23.35 100.75h1v1h-1zM22.45 101.65h1v1h-1zM25.15 102.55h1v1h-1zM26.95 102.55h1v1h-1zM26.05 103.45h1v1h-1zM28.75 100.75h1v1h-1zM30.55 100.75h1v1h-1zM29.65 101.65h1v1h-1zM32.35 102.55h1v1h-1zM34.15 102.55h1v1h-1zM33.25 103.45h1v1h-1zM35.95 100.75h1v1h-1zM37.75 100.75h1v1h-1zM36.85 101.65h1v1h-1zM39.55 102.55h1v1h-1zM41.35 102.55h1v1h-1zM40.45 103.45h1v1h-1zM-0.05 104.35h1v1h-1zM1.75 104.35h1v1h-1zM0.85 105.25h1v1h-1zM3.55 106.15h1v1h-1zM5.35 106.15h1v1h-1zM4.45 107.05h1v1h-1zM7.15 104.35h1v1h-1zM8.95 104.35h1v1h-1zM8.05 105.25h1v1h-1zM10.75 106.15h1v1h-1zM12.55 106.15h1v1h-1zM11.65 107.05h1v1h-1zM14.35 104.35h1v1h-1zM16.15 104.35h1v1h-1zM15.25 105.25h1v1h-1zM17.95 106.15h1v1h-1zM19.75 106.15h1v1h-1zM18.85 107.05h1v1h-1zM21.55 104.35h1v1h-1zM23.35 104.35h1v1h-1zM22.45 105.25h1v1h-1zM25.15 106.15h1v1h-1zM26.95 106.15h1v1h-1zM26.05 107.05h1v1h-1zM28.75 104.35h1v1h-1zM30.55 104.35h1v1h-1zM29.65 105.25h1v1h-1zM32.35 106.15h1v1h-1zM34.15 106.15h1v1h-1zM33.25 107.05h1v1h-1zM35.95 104.35h1v1h-1zM37.75 104.35h1v1h-1zM36.85 105.25h1v1h-1zM39.55 106.15h1v1h-1zM41.35 106.15h1v1h-1zM40.45 107.05h1v1h-1zM-0.05 107.95h1v1h-1zM1.75 107.95h1v1h-1zM0.85 108.85h1v1h-1zM3.55 109.75h1v1h-1zM5.35 109.75h1v1h-1zM4.45 110.65h1v1h-1zM7.15 107.95h1v1h-1zM8.95 107.95h1v1h-1zM8.05 108.85h1v1h-1zM10.75 109.75h1v1h-1zM12.55 109.75h1v1h-1zM11.65 110.65h1v1h-1zM14.35 107.95h1v1h-1zM16.15 107.95h1v1h-1zM15.25 108.85h1v1h-1zM17.95 109.75h1v1h-1zM19.75 109.75h1v1h-1zM18.85 110.65h1v1h-1zM21.55 107.95h1v1h-1zM23.35 107.95h1v1h-1zM22.45 108.85h1v1h-1zM25.15 109.75h1v1h-1zM26.95 109.75h1v1h-1zM26.05 110.65h1v1h-1zM28.75 107.95h1v1h-1zM30.55 107.95h1v1h-1zM29.65 108.85h1v1h-1zM32.35 109.75h1v1h-1zM34.15 109.75h1v1h-1zM33.25 110.65h1v1h-1zM35.95 107.95h1v1h-1zM37.75 107.95h1v1h-1zM36.85 108.85h1v1h-1zM39.55 109.75h1v1h-1zM41.35 109.75h1v1h-1zM40.45 110.65h1v1h-1zM-0.05 111.55h1v1h-1zM1.75 111.55h1v1h-1zM0.85 112.45h1v1h-1zM3.55 113.35h1v1h-1zM5.35 113.35h1v1h-1zM4.45 114.25h1v1h-1zM7.15 111.55h1v1h-1zM8.95 111.55h1v1h-1zM8.05 112.45h1v1h-1zM10.75 113.35h1v1h-1zM12.55 113.35h1v1h-1zM11.65 114.25h1v1h-1zM14.35 111.55h1v1h-1zM16.15 111.55h1v1h-1zM15.25 112.45h1v1h-1zM17.95 113.35h1v1h-1zM19.75 113.35h1v1h-1zM18.85 114.25h1v1h-1zM21.55 111.55h1v1h-1zM23.35 111.55h1v1h-1zM22.45 112.45h1v1h-1zM25.15 113.35h1v1h-1zM26.95 113.35h1v1h-1zM26.05 114.25h1v1h-1zM28.75 111.55h1v1h-1zM30.55 111.55h1v1h-1zM29.65 112.45h1v1h-1zM32.35 113.35h1v1h-1zM34.15 113.35h1v1h-1zM33.25 114.25h1v1h-1zM35.95 111.55h1v1h-1zM37.75 111.55h1v1h-1zM36.85 112.45h1v1h-1zM39.55 113.35h1v1h-1zM41.35 113.35h1v1h-1zM40.45 114.25h1v1h-1zM-0.05 115.15h1v1h-1zM1.75 115.15h1v1h-1zM0.85 116.05h1v1h-1zM3.55 116.95h1v1h-1zM5.35 116.95h1v1h-1zM4.45 117.85h1v1h-1zM7.15 115.15h1v1h-1zM8.95 115.15h1v1h-1zM8.05 116.05h1v1h-1zM10.75 116.95h1v1h-1zM12.55 116.95h1v1h-1zM11.65 117.85h1v1h-1zM14.35 115.15h1v1h-1zM16.15 115.15h1v1h-1zM15.25 116.05h1v1h-1zM17.95 116.95h1v1h-1zM19.75 116.95h1v1h-1zM18.85 117.85h1v1h-1zM21.55 115.15h1v1h-1zM23.35 115.15h1v1h-1zM22.45 116.05h1v1h-1zM25.15 116.95h1v1h-1zM26.95 116.95h1v1h-1zM26.05 117.85h1v1h-1zM28.75 115.15h1v1h-1zM30.55 115.15h1v1h-1zM29.65 116.05h1v1h-1zM32.35 116.95h1v1h-1zM34.15 116.95h1v1h-1zM33.25 117.85h1v1h-1zM35.95 115.15h1v1h-1zM37.75 115.15h1v1h-1zM36.85 116.05h1v1h-1zM39.55 116.95h1v1h-1zM41.35 116.95h1v1h-1zM40.45 117.85h1v1h-1zM-0.05 118.75h1v1h-1zM1.75 118.75h1v1h-1zM0.85 119.65h1v1h-1zM3.55 120.55h1v1h-1zM5.35 120.55h1v1h-1zM4.45 121.45h1v1h-1zM7.15 118.75h1v1h-1zM8.95 118.75h1v1h-1zM8.05 119.65h1v1h-1zM10.75 120.55h1v1h-1zM12.55 120.55h1v1h-1zM11.65 121.45h1v1h-1zM14.35 118.75h1v1h-1zM16.15 118.75h1v1h-1zM15.25 119.65h1v1h-1zM17.95 120.55h1v1h-1zM19.75 120.55h1v1h-1zM18.85 121.45h1v1h-1zM21.55 118.75h1v1h-1zM23.35 118.75h1v1h-1zM22.45 119.65h1v1h-1zM25.15 120.55h1v1h-1zM26.95 120.55h1v1h-1zM26.05 121.45h1v1h-1zM28.75 118.75h1v1h-1zM30.55 118.75h1v1h-1zM29.65 119.65h1v1h-1zM32.35 120.55h1v1h-1zM34.15 120.55h1v1h-1zM33.25 121.45h1v1h-1zM35.95 118.75h1v1h-1zM37.75 118.75h1v1h-1zM36.85 119.65h1v1h-1zM39.55 120.55h1v1h-1zM41.35 120.55h1v1h-1zM40.45 121.45h1v1h-1zM-0.05 122.35h1v1h-1zM1.75 122.35h1v1h-1zM0.85 123.25h1v1h-1zM3.55 124.15h1v1h-1zM5.35 124.15h1v1h-1zM4.45 125.05h1v1h-1zM7.15 122.35h1v1h-1zM8.95 122.35h1v1h-1zM8.05 123.25h1v1h-1zM10.75 124.15h1v1h-1zM12.55 124.15h1v1h-1zM11.65 125.05h1v1h-1zM14.35 122.35h1v1h-1zM16.15 122.35h1v1h-1zM15.25 123.25h1v1h-1zM17.95 124.15h1v1h-1zM19.75 124.15h1v1h-1zM18.85 125.05h1v1h-1zM21.55 122.35h1v1h-1zM23.35 122.35h1v1h-1zM22.45 123.25h1v1h-1zM25.15 124.15h1v1h-1zM26.95 124.15h1v1h-1zM26.05 125.05h1v1h-1zM28.75 122.35h1v1h-1zM30.55 122.35h1v1h-1zM29.65 123.25h1v1h-1zM32.35 124.15h1v1h-1zM34.15 124.15h1v1h-1zM33.25 125.05h1v1h-1zM35.95 122.35h1v1h-1zM37.75 122.35h1v1h-1zM36.85 123.25h1v1h-1zM39.55 124.15h1v1h-1zM41.35 124.15h1v1h-1zM40.45 125.05h1v1h-1zM-0.05 125.95h1v1h-1zM1.75 125.95h1v1h-1zM0.85 126.85h1v1h-1zM3.55 127.75h1v1h-1zM5.35 127.75h1v1h-1zM4.45 128.65h1v1h-1zM7.15 125.95h1v1h-1zM8.95 125.95h1v1h-1zM8.05 126.85h1v1h-1zM10.75 127.75h1v1h-1zM12.55 127.75h1v1h-1zM11.65 128.65h1v1h-1zM14.35 125.95h1v1h-1zM16.15 125.95h1v1h-1zM15.25 126.85h1v1h-1zM17.95 127.75h1v1h-1zM19.75 127.75h1v1h-1zM18.85 128.65h1v1h-1zM21.55 125.95h1v1h-1zM23.35 125.95h1v1h-1zM22.45 126.85h1v1h-1zM25.15 127.75h1v1h-1zM26.95 127.75h1v1h-1zM26.05 128.65h1v1h-1zM28.75 125.95h1v1h-1zM30.55 125.95h1v1h-1zM29.65 126.85h1v1h-1zM32.35 127.75h1v1h-1zM34.15 127.75h1v1h-1zM33.25 128.65h1v1h-1zM35.95 125.95h1v1h-1zM37.75 125.95h1v1h-1zM36.85 126.85h1v1h-1zM39.55 127.75h1v1h-1zM41.35 127.75h1v1h-1zM40.45 128.65h1v1h-1zM-0.05 129.55h1v1h-1zM1.75 129.55h1v1h-1zM0.85 130.45h1v1h-1zM3.55 131.35h1v1h-1zM5.35 131.35h1v1h-1zM4.45 132.25h1v1h-1zM7.15 129.55h1v1h-1zM8.95 129.55h1v1h-1zM8.05 130.45h1v1h-1zM10.75 131.35h1v1h-1zM12.55 131.35h1v1h-1zM11.65 132.25h1v1h-1zM14.35 129.55h1v1h-1zM16.15 129.55h1v1h-1zM15.25 130.45h1v1h-1zM17.95 131.35h1v1h-1zM19.75 131.35h1v1h-1zM18.85 132.25h1v1h-1zM21.55 129.55h1v1h-1zM23.35 129.55h1v1h-1zM22.45 130.45h1v1h-1zM25.15 131.35h1v1h-1zM26.95 131.35h1v1h-1zM26.05 132.25h1v1h-1zM28.75 129.55h1v1h-1zM30.55 129.55h1v1h-1zM29.65 130.45h1v1h-1zM32.35 131.35h1v1h-1zM34.15 131.35h1v1h-1zM33.25 132.25h1v1h-1zM35.95 129.55h1v1h-1zM37.75 129.55h1v1h-1zM36.85 130.45h1v1h-1zM39.55 131.35h1v1h-1zM41.35 131.35h1v1h-1zM40.45 132.25h1v1h-1zM-0.05 133.15h1v1h-1zM1.75 133.15h1v1h-1zM0.85 134.05h1v1h-1zM3.55 134.95h1v1h-1zM5.35 134.95h1v1h-1zM4.45 135.85h1v1h-1zM7.15 133.15h1v1h-1zM8.95 133.15h1v1h-1zM8.05 134.05h1v1h-1zM10.75 134.95h1v1h-1zM12.55 134.95h1v1h-1zM11.65 135.85h1v1h-1zM14.35 133.15h1v1h-1zM16.15 133.15h1v1h-1zM15.25 134.05h1v1h-1zM17.95 134.95h1v1h-1zM19.75 134.95h1v1h-1zM18.85 135.85h1v1h-1zM21.55 133.15h1v1h-1zM23.35 133.15h1v1h-1zM22.45 134.05h1v1h-1zM25.15 134.95h1v1h-1zM26.95 134.95h1v1h-1zM26.05 135.85h1v1h-1zM28.75 133.15h1v1h-1zM30.55 133.15h1v1h-1zM29.65 134.05h1v1h-1zM32.35 134.95h1v1h-1zM34.15 134.95h1v1h-1zM33.25 135.85h1v1h-1zM35.95 133.15h1v1h-1zM37.75 133.15h1v1h-1zM36.85 134.05h1v1h-1zM39.55 134.95h1v1h-1zM41.35 134.95h1v1h-1zM40.45 135.85h1v1h-1zM-0.05 136.75h1v1h-1zM1.75 136.75h1v1h-1zM0.85 137.65h1v1h-1zM3.55 138.55h1v1h-1zM5.35 138.55h1v1h-1zM4.45 139.45h1v1h-1zM7.15 136.75h1v1h-1zM8.95 136.75h1v1h-1zM8.05 137.65h1v1h-1zM10.75 138.55h1v1h-1zM12.55 138.55h1v1h-1zM11.65 139.45h1v1h-1zM14.35 136.75h1v1h-1zM16.15 136.75h1v1h-1zM15.25 137.65h1v1h-1zM17.95 138.55h1v1h-1zM19.75 138.55h1v1h-1zM18.85 139.45h1v1h-1zM21.55 136.75h1v1h-1zM23.35 136.75h1v1h-1zM22.45 137.65h1v1h-1zM25.15 138.55h1v1h-1zM26.95 138.55h1v1h-1zM26.05 139.45h1v1h-1zM28.75 136.75h1v1h-1zM30.55 136.75h1v1h-1zM29.65 137.65h1v1h-1zM32.35 138.55h1v1h-1zM34.15 138.55h1v1h-1zM33.25 139.45h1v1h-1zM35.95 136.75h1v1h-1zM37.75 136.75h1v1h-1zM36.85 137.65h1v1h-1zM39.55 138.55h1v1h-1zM41.35 138.55h1v1h-1zM40.45 139.45h1v1h-1zM-0.05 140.35h1v1h-1zM1.75 140.35h1v1h-1zM0.85 141.25h1v1h-1zM7.15 140.35h1v1h-1zM8.95 140.35h1v1h-1zM8.05 141.25h1v1h-1zM14.35 140.35h1v1h-1zM16.15 140.35h1v1h-1zM15.25 141.25h1v1h-1zM21.55 140.35h1v1h-1zM23.35 140.35h1v1h-1zM22.45 141.25h1v1h-1zM28.75 140.35h1v1h-1zM30.55 140.35h1v1h-1zM29.65 141.25h1v1h-1zM35.95 140.35h1v1h-1zM37.75 140.35h1v1h-1zM36.85 141.25h1v1h-1z" fill="#111"/></g>
<rect x="643.50" y="470.80" width="46.00" height="160.10" fill="#000" rx="0.8"/>
<clipPath id="c8"><rect x="645.91" y="473.34" width="41.17" height="157.56"/></clipPath><g clip-path="url(#c8)"><rect x="645.91" y="473.34" width="41.17" height="157.56" fill="#000"/><path transform="translate(648.69,472.82) scale(0.9972,0.9688)" d="M-3.79 -3.1H39.51M-2.6 -3.1v3.6M4.6 -3.1v3.6M11.8 -3.1v3.6M19 -3.1v3.6M26.2 -3.1v3.6M33.4 -3.1v3.6M-3.79 0.5H39.51M1 0.5v3.6M8.2 0.5v3.6M15.4 0.5v3.6M22.6 0.5v3.6M29.8 0.5v3.6M37 0.5v3.6M-3.79 4.1H39.51M-2.6 4.1v3.6M4.6 4.1v3.6M11.8 4.1v3.6M19 4.1v3.6M26.2 4.1v3.6M33.4 4.1v3.6M-3.79 7.7H39.51M1 7.7v3.6M8.2 7.7v3.6M15.4 7.7v3.6M22.6 7.7v3.6M29.8 7.7v3.6M37 7.7v3.6M-3.79 11.3H39.51M-2.6 11.3v3.6M4.6 11.3v3.6M11.8 11.3v3.6M19 11.3v3.6M26.2 11.3v3.6M33.4 11.3v3.6M-3.79 14.9H39.51M1 14.9v3.6M8.2 14.9v3.6M15.4 14.9v3.6M22.6 14.9v3.6M29.8 14.9v3.6M37 14.9v3.6M-3.79 18.5H39.51M-2.6 18.5v3.6M4.6 18.5v3.6M11.8 18.5v3.6M19 18.5v3.6M26.2 18.5v3.6M33.4 18.5v3.6M-3.79 22.1H39.51M1 22.1v3.6M8.2 22.1v3.6M15.4 22.1v3.6M22.6 22.1v3.6M29.8 22.1v3.6M37 22.1v3.6M-3.79 25.7H39.51M-2.6 25.7v3.6M4.6 25.7v3.6M11.8 25.7v3.6M19 25.7v3.6M26.2 25.7v3.6M33.4 25.7v3.6M-3.79 29.3H39.51M1 29.3v3.6M8.2 29.3v3.6M15.4 29.3v3.6M22.6 29.3v3.6M29.8 29.3v3.6M37 29.3v3.6M-3.79 32.9H39.51M-2.6 32.9v3.6M4.6 32.9v3.6M11.8 32.9v3.6M19 32.9v3.6M26.2 32.9v3.6M33.4 32.9v3.6M-3.79 36.5H39.51M1 36.5v3.6M8.2 36.5v3.6M15.4 36.5v3.6M22.6 36.5v3.6M29.8 36.5v3.6M37 36.5v3.6M-3.79 40.1H39.51M-2.6 40.1v3.6M4.6 40.1v3.6M11.8 40.1v3.6M19 40.1v3.6M26.2 40.1v3.6M33.4 40.1v3.6M-3.79 43.7H39.51M1 43.7v3.6M8.2 43.7v3.6M15.4 43.7v3.6M22.6 43.7v3.6M29.8 43.7v3.6M37 43.7v3.6M-3.79 47.3H39.51M-2.6 47.3v3.6M4.6 47.3v3.6M11.8 47.3v3.6M19 47.3v3.6M26.2 47.3v3.6M33.4 47.3v3.6M-3.79 50.9H39.51M1 50.9v3.6M8.2 50.9v3.6M15.4 50.9v3.6M22.6 50.9v3.6M29.8 50.9v3.6M37 50.9v3.6M-3.79 54.5H39.51M-2.6 54.5v3.6M4.6 54.5v3.6M11.8 54.5v3.6M19 54.5v3.6M26.2 54.5v3.6M33.4 54.5v3.6M-3.79 58.1H39.51M1 58.1v3.6M8.2 58.1v3.6M15.4 58.1v3.6M22.6 58.1v3.6M29.8 58.1v3.6M37 58.1v3.6M-3.79 61.7H39.51M-2.6 61.7v3.6M4.6 61.7v3.6M11.8 61.7v3.6M19 61.7v3.6M26.2 61.7v3.6M33.4 61.7v3.6M-3.79 65.3H39.51M1 65.3v3.6M8.2 65.3v3.6M15.4 65.3v3.6M22.6 65.3v3.6M29.8 65.3v3.6M37 65.3v3.6M-3.79 68.9H39.51M-2.6 68.9v3.6M4.6 68.9v3.6M11.8 68.9v3.6M19 68.9v3.6M26.2 68.9v3.6M33.4 68.9v3.6M-3.79 72.5H39.51M1 72.5v3.6M8.2 72.5v3.6M15.4 72.5v3.6M22.6 72.5v3.6M29.8 72.5v3.6M37 72.5v3.6M-3.79 76.1H39.51M-2.6 76.1v3.6M4.6 76.1v3.6M11.8 76.1v3.6M19 76.1v3.6M26.2 76.1v3.6M33.4 76.1v3.6M-3.79 79.7H39.51M1 79.7v3.6M8.2 79.7v3.6M15.4 79.7v3.6M22.6 79.7v3.6M29.8 79.7v3.6M37 79.7v3.6M-3.79 83.3H39.51M-2.6 83.3v3.6M4.6 83.3v3.6M11.8 83.3v3.6M19 83.3v3.6M26.2 83.3v3.6M33.4 83.3v3.6M-3.79 86.9H39.51M1 86.9v3.6M8.2 86.9v3.6M15.4 86.9v3.6M22.6 86.9v3.6M29.8 86.9v3.6M37 86.9v3.6M-3.79 90.5H39.51M-2.6 90.5v3.6M4.6 90.5v3.6M11.8 90.5v3.6M19 90.5v3.6M26.2 90.5v3.6M33.4 90.5v3.6M-3.79 94.1H39.51M1 94.1v3.6M8.2 94.1v3.6M15.4 94.1v3.6M22.6 94.1v3.6M29.8 94.1v3.6M37 94.1v3.6M-3.79 97.7H39.51M-2.6 97.7v3.6M4.6 97.7v3.6M11.8 97.7v3.6M19 97.7v3.6M26.2 97.7v3.6M33.4 97.7v3.6M-3.79 101.3H39.51M1 101.3v3.6M8.2 101.3v3.6M15.4 101.3v3.6M22.6 101.3v3.6M29.8 101.3v3.6M37 101.3v3.6M-3.79 104.9H39.51M-2.6 104.9v3.6M4.6 104.9v3.6M11.8 104.9v3.6M19 104.9v3.6M26.2 104.9v3.6M33.4 104.9v3.6M-3.79 108.5H39.51M1 108.5v3.6M8.2 108.5v3.6M15.4 108.5v3.6M22.6 108.5v3.6M29.8 108.5v3.6M37 108.5v3.6M-3.79 112.1H39.51M-2.6 112.1v3.6M4.6 112.1v3.6M11.8 112.1v3.6M19 112.1v3.6M26.2 112.1v3.6M33.4 112.1v3.6M-3.79 115.7H39.51M1 115.7v3.6M8.2 115.7v3.6M15.4 115.7v3.6M22.6 115.7v3.6M29.8 115.7v3.6M37 115.7v3.6M-3.79 119.3H39.51M-2.6 119.3v3.6M4.6 119.3v3.6M11.8 119.3v3.6M19 119.3v3.6M26.2 119.3v3.6M33.4 119.3v3.6M-3.79 122.9H39.51M1 122.9v3.6M8.2 122.9v3.6M15.4 122.9v3.6M22.6 122.9v3.6M29.8 122.9v3.6M37 122.9v3.6M-3.79 126.5H39.51M-2.6 126.5v3.6M4.6 126.5v3.6M11.8 126.5v3.6M19 126.5v3.6M26.2 126.5v3.6M33.4 126.5v3.6M-3.79 130.1H39.51M1 130.1v3.6M8.2 130.1v3.6M15.4 130.1v3.6M22.6 130.1v3.6M29.8 130.1v3.6M37 130.1v3.6M-3.79 133.7H39.51M-2.6 133.7v3.6M4.6 133.7v3.6M11.8 133.7v3.6M19 133.7v3.6M26.2 133.7v3.6M33.4 133.7v3.6M-3.79 137.3H39.51M1 137.3v3.6M8.2 137.3v3.6M15.4 137.3v3.6M22.6 137.3v3.6M29.8 137.3v3.6M37 137.3v3.6M-3.79 140.9H39.51M-2.6 140.9v3.6M4.6 140.9v3.6M11.8 140.9v3.6M19 140.9v3.6M26.2 140.9v3.6M33.4 140.9v3.6M-3.79 144.5H39.51M1 144.5v3.6M8.2 144.5v3.6M15.4 144.5v3.6M22.6 144.5v3.6M29.8 144.5v3.6M37 144.5v3.6M-3.79 148.1H39.51M-2.6 148.1v3.6M4.6 148.1v3.6M11.8 148.1v3.6M19 148.1v3.6M26.2 148.1v3.6M33.4 148.1v3.6M-3.79 151.7H39.51M1 151.7v3.6M8.2 151.7v3.6M15.4 151.7v3.6M22.6 151.7v3.6M29.8 151.7v3.6M37 151.7v3.6M-3.79 155.3H39.51M-2.6 155.3v3.6M4.6 155.3v3.6M11.8 155.3v3.6M19 155.3v3.6M26.2 155.3v3.6M33.4 155.3v3.6M-3.79 158.9H39.51M1 158.9v3.6M8.2 158.9v3.6M15.4 158.9v3.6M22.6 158.9v3.6M29.8 158.9v3.6M37 158.9v3.6M-3.79 162.5H39.51M-2.6 162.5v3.6M4.6 162.5v3.6M11.8 162.5v3.6M19 162.5v3.6M26.2 162.5v3.6M33.4 162.5v3.6M-3.79 166.1H39.51M1 166.1v3.6M8.2 166.1v3.6M15.4 166.1v3.6M22.6 166.1v3.6M29.8 166.1v3.6M37 166.1v3.6M-3.79 169.7H39.51M-2.6 169.7v3.6M4.6 169.7v3.6M11.8 169.7v3.6M19 169.7v3.6M26.2 169.7v3.6M33.4 169.7v3.6" fill="none" stroke="#fff" stroke-width="1.0"/></g>
<path d="M462.77 470.50 H474.63 M468.70 470.50 V478.10 M462.77 478.10 H474.63" stroke="#000" stroke-width="1.34" fill="none"/>
<path d="M528.70 562.00 H540.57 M534.63 562.00 V573.50 M528.70 573.50 H540.57" stroke="#000" stroke-width="1.34" fill="none"/>
<path d="M594.63 489.50 H606.50 M600.57 489.50 V495.80 M594.63 495.80 H606.50" stroke="#000" stroke-width="1.34" fill="none"/>
<path d="M660.57 466.80 H672.43 M666.50 466.80 V476.80 M660.57 476.80 H672.43" stroke="#000" stroke-width="1.34" fill="none"/>
<path d="M435.80 456.30 V630.90 H699.10" stroke="#000" stroke-width="2.0" fill="none" stroke-linejoin="miter"/>
<path d="M430.20 630.90 H435.80" stroke="#000" stroke-width="1.70"/>
<text x="428.95" y="635.43" font-size="12.59" font-weight="bold" text-anchor="end" stroke="#111" stroke-width="0.55" textLength="6.92" lengthAdjust="spacingAndGlyphs">0</text>
<path d="M430.20 596.18 H435.80" stroke="#000" stroke-width="1.70"/>
<text x="428.95" y="600.71" font-size="12.59" font-weight="bold" text-anchor="end" stroke="#111" stroke-width="0.55" textLength="13.84" lengthAdjust="spacingAndGlyphs">20</text>
<path d="M430.20 561.46 H435.80" stroke="#000" stroke-width="1.70"/>
<text x="428.95" y="565.99" font-size="12.59" font-weight="bold" text-anchor="end" stroke="#111" stroke-width="0.55" textLength="13.84" lengthAdjust="spacingAndGlyphs">40</text>
<path d="M430.20 526.74 H435.80" stroke="#000" stroke-width="1.70"/>
<text x="428.95" y="531.27" font-size="12.59" font-weight="bold" text-anchor="end" stroke="#111" stroke-width="0.55" textLength="13.84" lengthAdjust="spacingAndGlyphs">60</text>
<path d="M430.20 492.02 H435.80" stroke="#000" stroke-width="1.70"/>
<text x="428.95" y="496.55" font-size="12.59" font-weight="bold" text-anchor="end" stroke="#111" stroke-width="0.55" textLength="13.84" lengthAdjust="spacingAndGlyphs">80</text>
<path d="M430.20 457.30 H435.80" stroke="#000" stroke-width="1.70"/>
<text x="428.95" y="461.83" font-size="12.59" font-weight="bold" text-anchor="end" stroke="#111" stroke-width="0.55" textLength="20.76" lengthAdjust="spacingAndGlyphs">100</text>
<text x="534.50" y="552.55" font-size="17.46" font-weight="normal" text-anchor="middle" stroke="#111" stroke-width="0.3" textLength="19.10" lengthAdjust="spacingAndGlyphs">##</text>
<text x="600.40" y="478.96" font-size="15.22" font-weight="normal" text-anchor="middle" stroke="#111" stroke-width="0.3" textLength="5.82" lengthAdjust="spacingAndGlyphs">*</text>
<text x="666.30" y="457.76" font-size="15.22" font-weight="normal" text-anchor="middle" stroke="#111" stroke-width="0.3" textLength="11.64" lengthAdjust="spacingAndGlyphs">**</text>
<rect x="464.00" y="355.41" width="21.42" height="11.77" fill="#000" rx="1.3"/>
<g transform="translate(466.65,357.95)"><rect x="0.00" y="0.00" width="16.12" height="6.70" fill="url(#p1d)"/></g>
<text x="494.50" y="366.67" font-size="14.92" font-weight="normal" text-anchor="start" stroke="#111" stroke-width="0.3" textLength="45.96" lengthAdjust="spacingAndGlyphs">Control</text>
<rect x="464.00" y="375.41" width="21.42" height="11.77" fill="#000" rx="1.3"/>
<g transform="translate(472.92,379.56)"><rect x="-6.26" y="-1.61" width="16.12" height="6.70" fill="url(#p2d)"/></g>
<text x="494.50" y="386.67" font-size="14.92" font-weight="normal" text-anchor="start" stroke="#111" stroke-width="0.3" textLength="79.26" lengthAdjust="spacingAndGlyphs">Nonylphenol</text>
<rect x="464.00" y="395.51" width="21.42" height="11.77" fill="#000" rx="1.3"/>
<g transform="translate(466.94,398.46)"><rect x="-0.29" y="-0.41" width="16.12" height="6.70" fill="url(#p3d)"/></g>
<text x="494.50" y="406.77" font-size="14.92" font-weight="normal" text-anchor="start" stroke="#111" stroke-width="0.3" textLength="139.14" lengthAdjust="spacingAndGlyphs">Nonylphenol+Aucubin</text>
<rect x="464.00" y="415.61" width="21.42" height="11.77" fill="#000" rx="1.3"/>
<g transform="translate(469.16,417.74)"><rect x="-2.51" y="-0.05" width="16.12" height="7.61" fill="url(#p4d)"/></g>
<text x="494.50" y="426.87" font-size="14.92" font-weight="normal" text-anchor="start" stroke="#111" stroke-width="0.3" textLength="51.52" lengthAdjust="spacingAndGlyphs">Aucubin</text>
<text x="416.30" y="398.04" font-size="18.00" font-weight="normal" text-anchor="middle" stroke="#111" stroke-width="0.3" textLength="22.40" lengthAdjust="spacingAndGlyphs">(d)</text>
<text transform="translate(381.00,543.60) rotate(-90) scale(1,1.070)" x="0" y="0" font-size="14.36" font-weight="bold" text-anchor="middle" stroke="#111" stroke-width="0.2">Seminiferous tubule</text>
<text transform="translate(399.80,544.20) rotate(-90) scale(1,1.070)" x="0" y="0" font-size="14.36" font-weight="bold" text-anchor="middle" stroke="#111" stroke-width="0.2">epithelial height <tspan font-weight="normal" stroke-width="0.1">(μ</tspan>m<tspan font-weight="normal" stroke-width="0.1">)</tspan></text>
</g>
<g id="panel-e">
<pattern id="p1e" width="3.6" height="3.6" patternUnits="userSpaceOnUse" patternTransform="scale(0.9972,0.9688)"><rect width="3.6" height="3.6" fill="#fff"/><rect x="0" y="0" width="1.8" height="1.8" fill="#000"/><rect x="1.8" y="1.8" width="1.8" height="1.8" fill="#000"/></pattern>
<pattern id="p2e" width="7.2" height="7.2" patternUnits="userSpaceOnUse" patternTransform="scale(0.9972,0.9688)"><rect width="7.2" height="7.2" fill="#fff"/><rect x="0" y="0" width="3.6" height="3.6" fill="#000"/><rect x="3.6" y="3.6" width="3.6" height="3.6" fill="#000"/></pattern>
<pattern id="p3e" width="7.2" height="3.6" patternUnits="userSpaceOnUse" patternTransform="scale(0.9972,0.9688)"><rect width="7.2" height="3.6" fill="#fff"/><rect x="-0.05" y="-0.05" width="1.00" height="1.00" fill="#111"/><rect x="1.75" y="-0.05" width="1.00" height="1.00" fill="#111"/><rect x="0.85" y="0.85" width="1.00" height="1.00" fill="#111"/><rect x="3.55" y="1.75" width="1.00" height="1.00" fill="#111"/><rect x="5.35" y="1.75" width="1.00" height="1.00" fill="#111"/><rect x="4.45" y="2.65" width="1.00" height="1.00" fill="#111"/></pattern>
<pattern id="p4e" width="7.2" height="7.2" patternUnits="userSpaceOnUse" patternTransform="scale(0.9972,0.9688)"><rect width="7.2" height="7.2" fill="#000"/><path d="M0 0.5 H7.2 M0 4.1 H7.2 M1 0.5 V4.1 M4.6 4.1 V7.7" fill="none" stroke="#fff" stroke-width="1.0"/></pattern>
<rect x="254.80" y="879.50" width="45.90" height="52.60" fill="#000" rx="0.8"/>
<g transform="translate(257.21,882.04)"><rect x="0.00" y="0.00" width="41.07" height="50.06" fill="url(#p1e)"/></g>
<rect x="320.47" y="820.10" width="45.90" height="112.00" fill="#000" rx="0.8"/>
<g transform="translate(325.20,828.40)"><rect x="-2.32" y="-5.76" width="41.07" height="109.46" fill="url(#p2e)"/></g>
<rect x="386.13" y="866.20" width="45.90" height="65.90" fill="#000" rx="0.8"/>
<clipPath id="c9"><rect x="388.55" y="868.74" width="41.07" height="63.36"/></clipPath><g clip-path="url(#c9)"><rect x="388.55" y="868.74" width="41.07" height="63.36" fill="#fff"/><path transform="translate(388.55,868.74) scale(0.9972,0.9688)" d="M4.45 -0.95h1v1h-1zM11.65 -0.95h1v1h-1zM18.85 -0.95h1v1h-1zM26.05 -0.95h1v1h-1zM33.25 -0.95h1v1h-1zM40.45 -0.95h1v1h-1zM-0.05 -0.05h1v1h-1zM1.75 -0.05h1v1h-1zM0.85 0.85h1v1h-1zM3.55 1.75h1v1h-1zM5.35 1.75h1v1h-1zM4.45 2.65h1v1h-1zM7.15 -0.05h1v1h-1zM8.95 -0.05h1v1h-1zM8.05 0.85h1v1h-1zM10.75 1.75h1v1h-1zM12.55 1.75h1v1h-1zM11.65 2.65h1v1h-1zM14.35 -0.05h1v1h-1zM16.15 -0.05h1v1h-1zM15.25 0.85h1v1h-1zM17.95 1.75h1v1h-1zM19.75 1.75h1v1h-1zM18.85 2.65h1v1h-1zM21.55 -0.05h1v1h-1zM23.35 -0.05h1v1h-1zM22.45 0.85h1v1h-1zM25.15 1.75h1v1h-1zM26.95 1.75h1v1h-1zM26.05 2.65h1v1h-1zM28.75 -0.05h1v1h-1zM30.55 -0.05h1v1h-1zM29.65 0.85h1v1h-1zM32.35 1.75h1v1h-1zM34.15 1.75h1v1h-1zM33.25 2.65h1v1h-1zM35.95 -0.05h1v1h-1zM37.75 -0.05h1v1h-1zM36.85 0.85h1v1h-1zM39.55 1.75h1v1h-1zM41.35 1.75h1v1h-1zM40.45 2.65h1v1h-1zM-0.05 3.55h1v1h-1zM1.75 3.55h1v1h-1zM0.85 4.45h1v1h-1zM3.55 5.35h1v1h-1zM5.35 5.35h1v1h-1zM4.45 6.25h1v1h-1zM7.15 3.55h1v1h-1zM8.95 3.55h1v1h-1zM8.05 4.45h1v1h-1zM10.75 5.35h1v1h-1zM12.55 5.35h1v1h-1zM11.65 6.25h1v1h-1zM14.35 3.55h1v1h-1zM16.15 3.55h1v1h-1zM15.25 4.45h1v1h-1zM17.95 5.35h1v1h-1zM19.75 5.35h1v1h-1zM18.85 6.25h1v1h-1zM21.55 3.55h1v1h-1zM23.35 3.55h1v1h-1zM22.45 4.45h1v1h-1zM25.15 5.35h1v1h-1zM26.95 5.35h1v1h-1zM26.05 6.25h1v1h-1zM28.75 3.55h1v1h-1zM30.55 3.55h1v1h-1zM29.65 4.45h1v1h-1zM32.35 5.35h1v1h-1zM34.15 5.35h1v1h-1zM33.25 6.25h1v1h-1zM35.95 3.55h1v1h-1zM37.75 3.55h1v1h-1zM36.85 4.45h1v1h-1zM39.55 5.35h1v1h-1zM41.35 5.35h1v1h-1zM40.45 6.25h1v1h-1zM-0.05 7.15h1v1h-1zM1.75 7.15h1v1h-1zM0.85 8.05h1v1h-1zM3.55 8.95h1v1h-1zM5.35 8.95h1v1h-1zM4.45 9.85h1v1h-1zM7.15 7.15h1v1h-1zM8.95 7.15h1v1h-1zM8.05 8.05h1v1h-1zM10.75 8.95h1v1h-1zM12.55 8.95h1v1h-1zM11.65 9.85h1v1h-1zM14.35 7.15h1v1h-1zM16.15 7.15h1v1h-1zM15.25 8.05h1v1h-1zM17.95 8.95h1v1h-1zM19.75 8.95h1v1h-1zM18.85 9.85h1v1h-1zM21.55 7.15h1v1h-1zM23.35 7.15h1v1h-1zM22.45 8.05h1v1h-1zM25.15 8.95h1v1h-1zM26.95 8.95h1v1h-1zM26.05 9.85h1v1h-1zM28.75 7.15h1v1h-1zM30.55 7.15h1v1h-1zM29.65 8.05h1v1h-1zM32.35 8.95h1v1h-1zM34.15 8.95h1v1h-1zM33.25 9.85h1v1h-1zM35.95 7.15h1v1h-1zM37.75 7.15h1v1h-1zM36.85 8.05h1v1h-1zM39.55 8.95h1v1h-1zM41.35 8.95h1v1h-1zM40.45 9.85h1v1h-1zM-0.05 10.75h1v1h-1zM1.75 10.75h1v1h-1zM0.85 11.65h1v1h-1zM3.55 12.55h1v1h-1zM5.35 12.55h1v1h-1zM4.45 13.45h1v1h-1zM7.15 10.75h1v1h-1zM8.95 10.75h1v1h-1zM8.05 11.65h1v1h-1zM10.75 12.55h1v1h-1zM12.55 12.55h1v1h-1zM11.65 13.45h1v1h-1zM14.35 10.75h1v1h-1zM16.15 10.75h1v1h-1zM15.25 11.65h1v1h-1zM17.95 12.55h1v1h-1zM19.75 12.55h1v1h-1zM18.85 13.45h1v1h-1zM21.55 10.75h1v1h-1zM23.35 10.75h1v1h-1zM22.45 11.65h1v1h-1zM25.15 12.55h1v1h-1zM26.95 12.55h1v1h-1zM26.05 13.45h1v1h-1zM28.75 10.75h1v1h-1zM30.55 10.75h1v1h-1zM29.65 11.65h1v1h-1zM32.35 12.55h1v1h-1zM34.15 12.55h1v1h-1zM33.25 13.45h1v1h-1zM35.95 10.75h1v1h-1zM37.75 10.75h1v1h-1zM36.85 11.65h1v1h-1zM39.55 12.55h1v1h-1zM41.35 12.55h1v1h-1zM40.45 13.45h1v1h-1zM-0.05 14.35h1v1h-1zM1.75 14.35h1v1h-1zM0.85 15.25h1v1h-1zM3.55 16.15h1v1h-1zM5.35 16.15h1v1h-1zM4.45 17.05h1v1h-1zM7.15 14.35h1v1h-1zM8.95 14.35h1v1h-1zM8.05 15.25h1v1h-1zM10.75 16.15h1v1h-1zM12.55 16.15h1v1h-1zM11.65 17.05h1v1h-1zM14.35 14.35h1v1h-1zM16.15 14.35h1v1h-1zM15.25 15.25h1v1h-1zM17.95 16.15h1v1h-1zM19.75 16.15h1v1h-1zM18.85 17.05h1v1h-1zM21.55 14.35h1v1h-1zM23.35 14.35h1v1h-1zM22.45 15.25h1v1h-1zM25.15 16.15h1v1h-1zM26.95 16.15h1v1h-1zM26.05 17.05h1v1h-1zM28.75 14.35h1v1h-1zM30.55 14.35h1v1h-1zM29.65 15.25h1v1h-1zM32.35 16.15h1v1h-1zM34.15 16.15h1v1h-1zM33.25 17.05h1v1h-1zM35.95 14.35h1v1h-1zM37.75 14.35h1v1h-1zM36.85 15.25h1v1h-1zM39.55 16.15h1v1h-1zM41.35 16.15h1v1h-1zM40.45 17.05h1v1h-1zM-0.05 17.95h1v1h-1zM1.75 17.95h1v1h-1zM0.85 18.85h1v1h-1zM3.55 19.75h1v1h-1zM5.35 19.75h1v1h-1zM4.45 20.65h1v1h-1zM7.15 17.95h1v1h-1zM8.95 17.95h1v1h-1zM8.05 18.85h1v1h-1zM10.75 19.75h1v1h-1zM12.55 19.75h1v1h-1zM11.65 20.65h1v1h-1zM14.35 17.95h1v1h-1zM16.15 17.95h1v1h-1zM15.25 18.85h1v1h-1zM17.95 19.75h1v1h-1zM19.75 19.75h1v1h-1zM18.85 20.65h1v1h-1zM21.55 17.95h1v1h-1zM23.35 17.95h1v1h-1zM22.45 18.85h1v1h-1zM25.15 19.75h1v1h-1zM26.95 19.75h1v1h-1zM26.05 20.65h1v1h-1zM28.75 17.95h1v1h-1zM30.55 17.95h1v1h-1zM29.65 18.85h1v1h-1zM32.35 19.75h1v1h-1zM34.15 19.75h1v1h-1zM33.25 20.65h1v1h-1zM35.95 17.95h1v1h-1zM37.75 17.95h1v1h-1zM36.85 18.85h1v1h-1zM39.55 19.75h1v1h-1zM41.35 19.75h1v1h-1zM40.45 20.65h1v1h-1zM-0.05 21.55h1v1h-1zM1.75 21.55h1v1h-1zM0.85 22.45h1v1h-1zM3.55 23.35h1v1h-1zM5.35 23.35h1v1h-1zM4.45 24.25h1v1h-1zM7.15 21.55h1v1h-1zM8.95 21.55h1v1h-1zM8.05 22.45h1v1h-1zM10.75 23.35h1v1h-1zM12.55 23.35h1v1h-1zM11.65 24.25h1v1h-1zM14.35 21.55h1v1h-1zM16.15 21.55h1v1h-1zM15.25 22.45h1v1h-1zM17.95 23.35h1v1h-1zM19.75 23.35h1v1h-1zM18.85 24.25h1v1h-1zM21.55 21.55h1v1h-1zM23.35 21.55h1v1h-1zM22.45 22.45h1v1h-1zM25.15 23.35h1v1h-1zM26.95 23.35h1v1h-1zM26.05 24.25h1v1h-1zM28.75 21.55h1v1h-1zM30.55 21.55h1v1h-1zM29.65 22.45h1v1h-1zM32.35 23.35h1v1h-1zM34.15 23.35h1v1h-1zM33.25 24.25h1v1h-1zM35.95 21.55h1v1h-1zM37.75 21.55h1v1h-1zM36.85 22.45h1v1h-1zM39.55 23.35h1v1h-1zM41.35 23.35h1v1h-1zM40.45 24.25h1v1h-1zM-0.05 25.15h1v1h-1zM1.75 25.15h1v1h-1zM0.85 26.05h1v1h-1zM3.55 26.95h1v1h-1zM5.35 26.95h1v1h-1zM4.45 27.85h1v1h-1zM7.15 25.15h1v1h-1zM8.95 25.15h1v1h-1zM8.05 26.05h1v1h-1zM10.75 26.95h1v1h-1zM12.55 26.95h1v1h-1zM11.65 27.85h1v1h-1zM14.35 25.15h1v1h-1zM16.15 25.15h1v1h-1zM15.25 26.05h1v1h-1zM17.95 26.95h1v1h-1zM19.75 26.95h1v1h-1zM18.85 27.85h1v1h-1zM21.55 25.15h1v1h-1zM23.35 25.15h1v1h-1zM22.45 26.05h1v1h-1zM25.15 26.95h1v1h-1zM26.95 26.95h1v1h-1zM26.05 27.85h1v1h-1zM28.75 25.15h1v1h-1zM30.55 25.15h1v1h-1zM29.65 26.05h1v1h-1zM32.35 26.95h1v1h-1zM34.15 26.95h1v1h-1zM33.25 27.85h1v1h-1zM35.95 25.15h1v1h-1zM37.75 25.15h1v1h-1zM36.85 26.05h1v1h-1zM39.55 26.95h1v1h-1zM41.35 26.95h1v1h-1zM40.45 27.85h1v1h-1zM-0.05 28.75h1v1h-1zM1.75 28.75h1v1h-1zM0.85 29.65h1v1h-1zM3.55 30.55h1v1h-1zM5.35 30.55h1v1h-1zM4.45 31.45h1v1h-1zM7.15 28.75h1v1h-1zM8.95 28.75h1v1h-1zM8.05 29.65h1v1h-1zM10.75 30.55h1v1h-1zM12.55 30.55h1v1h-1zM11.65 31.45h1v1h-1zM14.35 28.75h1v1h-1zM16.15 28.75h1v1h-1zM15.25 29.65h1v1h-1zM17.95 30.55h1v1h-1zM19.75 30.55h1v1h-1zM18.85 31.45h1v1h-1zM21.55 28.75h1v1h-1zM23.35 28.75h1v1h-1zM22.45 29.65h1v1h-1zM25.15 30.55h1v1h-1zM26.95 30.55h1v1h-1zM26.05 31.45h1v1h-1zM28.75 28.75h1v1h-1zM30.55 28.75h1v1h-1zM29.65 29.65h1v1h-1zM32.35 30.55h1v1h-1zM34.15 30.55h1v1h-1zM33.25 31.45h1v1h-1zM35.95 28.75h1v1h-1zM37.75 28.75h1v1h-1zM36.85 29.65h1v1h-1zM39.55 30.55h1v1h-1zM41.35 30.55h1v1h-1zM40.45 31.45h1v1h-1zM-0.05 32.35h1v1h-1zM1.75 32.35h1v1h-1zM0.85 33.25h1v1h-1zM3.55 34.15h1v1h-1zM5.35 34.15h1v1h-1zM4.45 35.05h1v1h-1zM7.15 32.35h1v1h-1zM8.95 32.35h1v1h-1zM8.05 33.25h1v1h-1zM10.75 34.15h1v1h-1zM12.55 34.15h1v1h-1zM11.65 35.05h1v1h-1zM14.35 32.35h1v1h-1zM16.15 32.35h1v1h-1zM15.25 33.25h1v1h-1zM17.95 34.15h1v1h-1zM19.75 34.15h1v1h-1zM18.85 35.05h1v1h-1zM21.55 32.35h1v1h-1zM23.35 32.35h1v1h-1zM22.45 33.25h1v1h-1zM25.15 34.15h1v1h-1zM26.95 34.15h1v1h-1zM26.05 35.05h1v1h-1zM28.75 32.35h1v1h-1zM30.55 32.35h1v1h-1zM29.65 33.25h1v1h-1zM32.35 34.15h1v1h-1zM34.15 34.15h1v1h-1zM33.25 35.05h1v1h-1zM35.95 32.35h1v1h-1zM37.75 32.35h1v1h-1zM36.85 33.25h1v1h-1zM39.55 34.15h1v1h-1zM41.35 34.15h1v1h-1zM40.45 35.05h1v1h-1zM-0.05 35.95h1v1h-1zM1.75 35.95h1v1h-1zM0.85 36.85h1v1h-1zM3.55 37.75h1v1h-1zM5.35 37.75h1v1h-1zM4.45 38.65h1v1h-1zM7.15 35.95h1v1h-1zM8.95 35.95h1v1h-1zM8.05 36.85h1v1h-1zM10.75 37.75h1v1h-1zM12.55 37.75h1v1h-1zM11.65 38.65h1v1h-1zM14.35 35.95h1v1h-1zM16.15 35.95h1v1h-1zM15.25 36.85h1v1h-1zM17.95 37.75h1v1h-1zM19.75 37.75h1v1h-1zM18.85 38.65h1v1h-1zM21.55 35.95h1v1h-1zM23.35 35.95h1v1h-1zM22.45 36.85h1v1h-1zM25.15 37.75h1v1h-1zM26.95 37.75h1v1h-1zM26.05 38.65h1v1h-1zM28.75 35.95h1v1h-1zM30.55 35.95h1v1h-1zM29.65 36.85h1v1h-1zM32.35 37.75h1v1h-1zM34.15 37.75h1v1h-1zM33.25 38.65h1v1h-1zM35.95 35.95h1v1h-1zM37.75 35.95h1v1h-1zM36.85 36.85h1v1h-1zM39.55 37.75h1v1h-1zM41.35 37.75h1v1h-1zM40.45 38.65h1v1h-1zM-0.05 39.55h1v1h-1zM1.75 39.55h1v1h-1zM0.85 40.45h1v1h-1zM3.55 41.35h1v1h-1zM5.35 41.35h1v1h-1zM4.45 42.25h1v1h-1zM7.15 39.55h1v1h-1zM8.95 39.55h1v1h-1zM8.05 40.45h1v1h-1zM10.75 41.35h1v1h-1zM12.55 41.35h1v1h-1zM11.65 42.25h1v1h-1zM14.35 39.55h1v1h-1zM16.15 39.55h1v1h-1zM15.25 40.45h1v1h-1zM17.95 41.35h1v1h-1zM19.75 41.35h1v1h-1zM18.85 42.25h1v1h-1zM21.55 39.55h1v1h-1zM23.35 39.55h1v1h-1zM22.45 40.45h1v1h-1zM25.15 41.35h1v1h-1zM26.95 41.35h1v1h-1zM26.05 42.25h1v1h-1zM28.75 39.55h1v1h-1zM30.55 39.55h1v1h-1zM29.65 40.45h1v1h-1zM32.35 41.35h1v1h-1zM34.15 41.35h1v1h-1zM33.25 42.25h1v1h-1zM35.95 39.55h1v1h-1zM37.75 39.55h1v1h-1zM36.85 40.45h1v1h-1zM39.55 41.35h1v1h-1zM41.35 41.35h1v1h-1zM40.45 42.25h1v1h-1zM-0.05 43.15h1v1h-1zM1.75 43.15h1v1h-1zM0.85 44.05h1v1h-1zM3.55 44.95h1v1h-1zM5.35 44.95h1v1h-1zM4.45 45.85h1v1h-1zM7.15 43.15h1v1h-1zM8.95 43.15h1v1h-1zM8.05 44.05h1v1h-1zM10.75 44.95h1v1h-1zM12.55 44.95h1v1h-1zM11.65 45.85h1v1h-1zM14.35 43.15h1v1h-1zM16.15 43.15h1v1h-1zM15.25 44.05h1v1h-1zM17.95 44.95h1v1h-1zM19.75 44.95h1v1h-1zM18.85 45.85h1v1h-1zM21.55 43.15h1v1h-1zM23.35 43.15h1v1h-1zM22.45 44.05h1v1h-1zM25.15 44.95h1v1h-1zM26.95 44.95h1v1h-1zM26.05 45.85h1v1h-1zM28.75 43.15h1v1h-1zM30.55 43.15h1v1h-1zM29.65 44.05h1v1h-1zM32.35 44.95h1v1h-1zM34.15 44.95h1v1h-1zM33.25 45.85h1v1h-1zM35.95 43.15h1v1h-1zM37.75 43.15h1v1h-1zM36.85 44.05h1v1h-1zM39.55 44.95h1v1h-1zM41.35 44.95h1v1h-1zM40.45 45.85h1v1h-1zM-0.05 46.75h1v1h-1zM1.75 46.75h1v1h-1zM0.85 47.65h1v1h-1zM3.55 48.55h1v1h-1zM5.35 48.55h1v1h-1zM4.45 49.45h1v1h-1zM7.15 46.75h1v1h-1zM8.95 46.75h1v1h-1zM8.05 47.65h1v1h-1zM10.75 48.55h1v1h-1zM12.55 48.55h1v1h-1zM11.65 49.45h1v1h-1zM14.35 46.75h1v1h-1zM16.15 46.75h1v1h-1zM15.25 47.65h1v1h-1zM17.95 48.55h1v1h-1zM19.75 48.55h1v1h-1zM18.85 49.45h1v1h-1zM21.55 46.75h1v1h-1zM23.35 46.75h1v1h-1zM22.45 47.65h1v1h-1zM25.15 48.55h1v1h-1zM26.95 48.55h1v1h-1zM26.05 49.45h1v1h-1zM28.75 46.75h1v1h-1zM30.55 46.75h1v1h-1zM29.65 47.65h1v1h-1zM32.35 48.55h1v1h-1zM34.15 48.55h1v1h-1zM33.25 49.45h1v1h-1zM35.95 46.75h1v1h-1zM37.75 46.75h1v1h-1zM36.85 47.65h1v1h-1zM39.55 48.55h1v1h-1zM41.35 48.55h1v1h-1zM40.45 49.45h1v1h-1zM-0.05 50.35h1v1h-1zM1.75 50.35h1v1h-1zM0.85 51.25h1v1h-1zM3.55 52.15h1v1h-1zM5.35 52.15h1v1h-1zM4.45 53.05h1v1h-1zM7.15 50.35h1v1h-1zM8.95 50.35h1v1h-1zM8.05 51.25h1v1h-1zM10.75 52.15h1v1h-1zM12.55 52.15h1v1h-1zM11.65 53.05h1v1h-1zM14.35 50.35h1v1h-1zM16.15 50.35h1v1h-1zM15.25 51.25h1v1h-1zM17.95 52.15h1v1h-1zM19.75 52.15h1v1h-1zM18.85 53.05h1v1h-1zM21.55 50.35h1v1h-1zM23.35 50.35h1v1h-1zM22.45 51.25h1v1h-1zM25.15 52.15h1v1h-1zM26.95 52.15h1v1h-1zM26.05 53.05h1v1h-1zM28.75 50.35h1v1h-1zM30.55 50.35h1v1h-1zM29.65 51.25h1v1h-1zM32.35 52.15h1v1h-1zM34.15 52.15h1v1h-1zM33.25 53.05h1v1h-1zM35.95 50.35h1v1h-1zM37.75 50.35h1v1h-1zM36.85 51.25h1v1h-1zM39.55 52.15h1v1h-1zM41.35 52.15h1v1h-1zM40.45 53.05h1v1h-1zM-0.05 53.95h1v1h-1zM1.75 53.95h1v1h-1zM0.85 54.85h1v1h-1zM3.55 55.75h1v1h-1zM5.35 55.75h1v1h-1zM4.45 56.65h1v1h-1zM7.15 53.95h1v1h-1zM8.95 53.95h1v1h-1zM8.05 54.85h1v1h-1zM10.75 55.75h1v1h-1zM12.55 55.75h1v1h-1zM11.65 56.65h1v1h-1zM14.35 53.95h1v1h-1zM16.15 53.95h1v1h-1zM15.25 54.85h1v1h-1zM17.95 55.75h1v1h-1zM19.75 55.75h1v1h-1zM18.85 56.65h1v1h-1zM21.55 53.95h1v1h-1zM23.35 53.95h1v1h-1zM22.45 54.85h1v1h-1zM25.15 55.75h1v1h-1zM26.95 55.75h1v1h-1zM26.05 56.65h1v1h-1zM28.75 53.95h1v1h-1zM30.55 53.95h1v1h-1zM29.65 54.85h1v1h-1zM32.35 55.75h1v1h-1zM34.15 55.75h1v1h-1zM33.25 56.65h1v1h-1zM35.95 53.95h1v1h-1zM37.75 53.95h1v1h-1zM36.85 54.85h1v1h-1zM39.55 55.75h1v1h-1zM41.35 55.75h1v1h-1zM40.45 56.65h1v1h-1zM-0.05 57.55h1v1h-1zM1.75 57.55h1v1h-1zM0.85 58.45h1v1h-1zM3.55 59.35h1v1h-1zM5.35 59.35h1v1h-1zM4.45 60.25h1v1h-1zM7.15 57.55h1v1h-1zM8.95 57.55h1v1h-1zM8.05 58.45h1v1h-1zM10.75 59.35h1v1h-1zM12.55 59.35h1v1h-1zM11.65 60.25h1v1h-1zM14.35 57.55h1v1h-1zM16.15 57.55h1v1h-1zM15.25 58.45h1v1h-1zM17.95 59.35h1v1h-1zM19.75 59.35h1v1h-1zM18.85 60.25h1v1h-1zM21.55 57.55h1v1h-1zM23.35 57.55h1v1h-1zM22.45 58.45h1v1h-1zM25.15 59.35h1v1h-1zM26.95 59.35h1v1h-1zM26.05 60.25h1v1h-1zM28.75 57.55h1v1h-1zM30.55 57.55h1v1h-1zM29.65 58.45h1v1h-1zM32.35 59.35h1v1h-1zM34.15 59.35h1v1h-1zM33.25 60.25h1v1h-1zM35.95 57.55h1v1h-1zM37.75 57.55h1v1h-1zM36.85 58.45h1v1h-1zM39.55 59.35h1v1h-1zM41.35 59.35h1v1h-1zM40.45 60.25h1v1h-1zM-0.05 61.15h1v1h-1zM1.75 61.15h1v1h-1zM0.85 62.05h1v1h-1zM3.55 62.95h1v1h-1zM5.35 62.95h1v1h-1zM4.45 63.85h1v1h-1zM7.15 61.15h1v1h-1zM8.95 61.15h1v1h-1zM8.05 62.05h1v1h-1zM10.75 62.95h1v1h-1zM12.55 62.95h1v1h-1zM11.65 63.85h1v1h-1zM14.35 61.15h1v1h-1zM16.15 61.15h1v1h-1zM15.25 62.05h1v1h-1zM17.95 62.95h1v1h-1zM19.75 62.95h1v1h-1zM18.85 63.85h1v1h-1zM21.55 61.15h1v1h-1zM23.35 61.15h1v1h-1zM22.45 62.05h1v1h-1zM25.15 62.95h1v1h-1zM26.95 62.95h1v1h-1zM26.05 63.85h1v1h-1zM28.75 61.15h1v1h-1zM30.55 61.15h1v1h-1zM29.65 62.05h1v1h-1zM32.35 62.95h1v1h-1zM34.15 62.95h1v1h-1zM33.25 63.85h1v1h-1zM35.95 61.15h1v1h-1zM37.75 61.15h1v1h-1zM36.85 62.05h1v1h-1zM39.55 62.95h1v1h-1zM41.35 62.95h1v1h-1zM40.45 63.85h1v1h-1zM-0.05 64.75h1v1h-1zM1.75 64.75h1v1h-1zM0.85 65.65h1v1h-1zM7.15 64.75h1v1h-1zM8.95 64.75h1v1h-1zM8.05 65.65h1v1h-1zM14.35 64.75h1v1h-1zM16.15 64.75h1v1h-1zM15.25 65.65h1v1h-1zM21.55 64.75h1v1h-1zM23.35 64.75h1v1h-1zM22.45 65.65h1v1h-1zM28.75 64.75h1v1h-1zM30.55 64.75h1v1h-1zM29.65 65.65h1v1h-1zM35.95 64.75h1v1h-1zM37.75 64.75h1v1h-1zM36.85 65.65h1v1h-1z" fill="#111"/></g>
<rect x="451.80" y="879.80" width="45.90" height="52.30" fill="#000" rx="0.8"/>
<clipPath id="c10"><rect x="454.21" y="882.34" width="41.07" height="49.76"/></clipPath><g clip-path="url(#c10)"><rect x="454.21" y="882.34" width="41.07" height="49.76" fill="#000"/><path transform="translate(457.32,881.82) scale(0.9972,0.9688)" d="M-4.12 -3.1H39.08M-2.6 -3.1v3.6M4.6 -3.1v3.6M11.8 -3.1v3.6M19 -3.1v3.6M26.2 -3.1v3.6M33.4 -3.1v3.6M-4.12 0.5H39.08M1 0.5v3.6M8.2 0.5v3.6M15.4 0.5v3.6M22.6 0.5v3.6M29.8 0.5v3.6M37 0.5v3.6M-4.12 4.1H39.08M-2.6 4.1v3.6M4.6 4.1v3.6M11.8 4.1v3.6M19 4.1v3.6M26.2 4.1v3.6M33.4 4.1v3.6M-4.12 7.7H39.08M1 7.7v3.6M8.2 7.7v3.6M15.4 7.7v3.6M22.6 7.7v3.6M29.8 7.7v3.6M37 7.7v3.6M-4.12 11.3H39.08M-2.6 11.3v3.6M4.6 11.3v3.6M11.8 11.3v3.6M19 11.3v3.6M26.2 11.3v3.6M33.4 11.3v3.6M-4.12 14.9H39.08M1 14.9v3.6M8.2 14.9v3.6M15.4 14.9v3.6M22.6 14.9v3.6M29.8 14.9v3.6M37 14.9v3.6M-4.12 18.5H39.08M-2.6 18.5v3.6M4.6 18.5v3.6M11.8 18.5v3.6M19 18.5v3.6M26.2 18.5v3.6M33.4 18.5v3.6M-4.12 22.1H39.08M1 22.1v3.6M8.2 22.1v3.6M15.4 22.1v3.6M22.6 22.1v3.6M29.8 22.1v3.6M37 22.1v3.6M-4.12 25.7H39.08M-2.6 25.7v3.6M4.6 25.7v3.6M11.8 25.7v3.6M19 25.7v3.6M26.2 25.7v3.6M33.4 25.7v3.6M-4.12 29.3H39.08M1 29.3v3.6M8.2 29.3v3.6M15.4 29.3v3.6M22.6 29.3v3.6M29.8 29.3v3.6M37 29.3v3.6M-4.12 32.9H39.08M-2.6 32.9v3.6M4.6 32.9v3.6M11.8 32.9v3.6M19 32.9v3.6M26.2 32.9v3.6M33.4 32.9v3.6M-4.12 36.5H39.08M1 36.5v3.6M8.2 36.5v3.6M15.4 36.5v3.6M22.6 36.5v3.6M29.8 36.5v3.6M37 36.5v3.6M-4.12 40.1H39.08M-2.6 40.1v3.6M4.6 40.1v3.6M11.8 40.1v3.6M19 40.1v3.6M26.2 40.1v3.6M33.4 40.1v3.6M-4.12 43.7H39.08M1 43.7v3.6M8.2 43.7v3.6M15.4 43.7v3.6M22.6 43.7v3.6M29.8 43.7v3.6M37 43.7v3.6M-4.12 47.3H39.08M-2.6 47.3v3.6M4.6 47.3v3.6M11.8 47.3v3.6M19 47.3v3.6M26.2 47.3v3.6M33.4 47.3v3.6M-4.12 50.9H39.08M1 50.9v3.6M8.2 50.9v3.6M15.4 50.9v3.6M22.6 50.9v3.6M29.8 50.9v3.6M37 50.9v3.6M-4.12 54.5H39.08M-2.6 54.5v3.6M4.6 54.5v3.6M11.8 54.5v3.6M19 54.5v3.6M26.2 54.5v3.6M33.4 54.5v3.6M-4.12 58.1H39.08M1 58.1v3.6M8.2 58.1v3.6M15.4 58.1v3.6M22.6 58.1v3.6M29.8 58.1v3.6M37 58.1v3.6" fill="none" stroke="#fff" stroke-width="1.0"/></g>
<path d="M271.82 876.80 H283.68 M277.75 876.80 V883.70 M271.82 883.70 H283.68" stroke="#000" stroke-width="1.34" fill="none"/>
<path d="M337.48 816.30 H349.35 M343.42 816.30 V826.40 M337.48 826.40 H349.35" stroke="#000" stroke-width="1.34" fill="none"/>
<rect x="403.15" y="864.83" width="11.87" height="5.74" fill="#000" rx="0.6"/>
<path d="M403.15 865.50 H415.02 M409.08 865.50 V869.90 M403.15 869.90 H415.02" stroke="#000" stroke-width="1.34" fill="none"/>
<path d="M468.82 876.40 H480.68 M474.75 876.40 V885.00 M468.82 885.00 H480.68" stroke="#000" stroke-width="1.34" fill="none"/>
<path d="M245.40 756.80 V932.10 H507.90" stroke="#000" stroke-width="2.0" fill="none" stroke-linejoin="miter"/>
<path d="M239.80 932.10 H245.40" stroke="#000" stroke-width="1.70"/>
<text x="238.55" y="936.63" font-size="12.59" font-weight="bold" text-anchor="end" stroke="#111" stroke-width="0.55" textLength="6.92" lengthAdjust="spacingAndGlyphs">0</text>
<path d="M239.80 874.00 H245.40" stroke="#000" stroke-width="1.70"/>
<text x="238.55" y="878.53" font-size="12.59" font-weight="bold" text-anchor="end" stroke="#111" stroke-width="0.55" textLength="13.84" lengthAdjust="spacingAndGlyphs">50</text>
<path d="M239.80 815.90 H245.40" stroke="#000" stroke-width="1.70"/>
<text x="238.55" y="820.43" font-size="12.59" font-weight="bold" text-anchor="end" stroke="#111" stroke-width="0.55" textLength="20.76" lengthAdjust="spacingAndGlyphs">100</text>
<path d="M239.80 757.80 H245.40" stroke="#000" stroke-width="1.70"/>
<text x="238.55" y="762.33" font-size="12.59" font-weight="bold" text-anchor="end" stroke="#111" stroke-width="0.55" textLength="20.76" lengthAdjust="spacingAndGlyphs">150</text>
<text x="343.50" y="808.25" font-size="17.46" font-weight="normal" text-anchor="middle" stroke="#111" stroke-width="0.3" textLength="19.10" lengthAdjust="spacingAndGlyphs">##</text>
<text x="408.90" y="854.06" font-size="15.22" font-weight="normal" text-anchor="middle" stroke="#111" stroke-width="0.3" textLength="11.64" lengthAdjust="spacingAndGlyphs">**</text>
<text x="474.80" y="865.36" font-size="15.22" font-weight="normal" text-anchor="middle" stroke="#111" stroke-width="0.3" textLength="11.64" lengthAdjust="spacingAndGlyphs">**</text>
<rect x="276.50" y="675.01" width="21.42" height="11.77" fill="#000" rx="1.3"/>
<g transform="translate(279.15,677.55)"><rect x="0.00" y="0.00" width="16.12" height="6.70" fill="url(#p1e)"/></g>
<text x="306.90" y="686.27" font-size="14.92" font-weight="normal" text-anchor="start" stroke="#111" stroke-width="0.3" textLength="46.06" lengthAdjust="spacingAndGlyphs">Control</text>
<rect x="276.50" y="695.31" width="21.42" height="11.77" fill="#000" rx="1.3"/>
<g transform="translate(285.42,699.46)"><rect x="-6.26" y="-1.61" width="16.12" height="6.70" fill="url(#p2e)"/></g>
<text x="306.90" y="706.57" font-size="14.92" font-weight="normal" text-anchor="start" stroke="#111" stroke-width="0.3" textLength="79.43" lengthAdjust="spacingAndGlyphs">Nonylphenol</text>
<rect x="276.50" y="715.31" width="21.42" height="11.77" fill="#000" rx="1.3"/>
<g transform="translate(279.44,718.26)"><rect x="-0.29" y="-0.41" width="16.12" height="6.70" fill="url(#p3e)"/></g>
<text x="306.90" y="726.57" font-size="14.92" font-weight="normal" text-anchor="start" stroke="#111" stroke-width="0.3" textLength="139.44" lengthAdjust="spacingAndGlyphs">Nonylphenol+Aucubin</text>
<rect x="276.50" y="735.41" width="21.42" height="11.77" fill="#000" rx="1.3"/>
<g transform="translate(281.66,737.54)"><rect x="-2.51" y="-0.05" width="16.12" height="7.61" fill="url(#p4e)"/></g>
<text x="306.90" y="746.67" font-size="14.92" font-weight="normal" text-anchor="start" stroke="#111" stroke-width="0.3" textLength="51.64" lengthAdjust="spacingAndGlyphs">Aucubin</text>
<text x="214.00" y="704.54" font-size="18.00" font-weight="normal" text-anchor="middle" stroke="#111" stroke-width="0.3" textLength="22.40" lengthAdjust="spacingAndGlyphs">(e)</text>
<text transform="translate(207.80,845.00) rotate(-90) scale(1,1.030)" x="0" y="0" font-size="14.36" font-weight="bold" text-anchor="middle" stroke="#111" stroke-width="0.2">Tubular lumen <tspan font-weight="normal" stroke-width="0.1">(μ</tspan>m<tspan font-weight="normal" stroke-width="0.1">)</tspan></text>
</g>
</g>
</svg>
</body></html>
